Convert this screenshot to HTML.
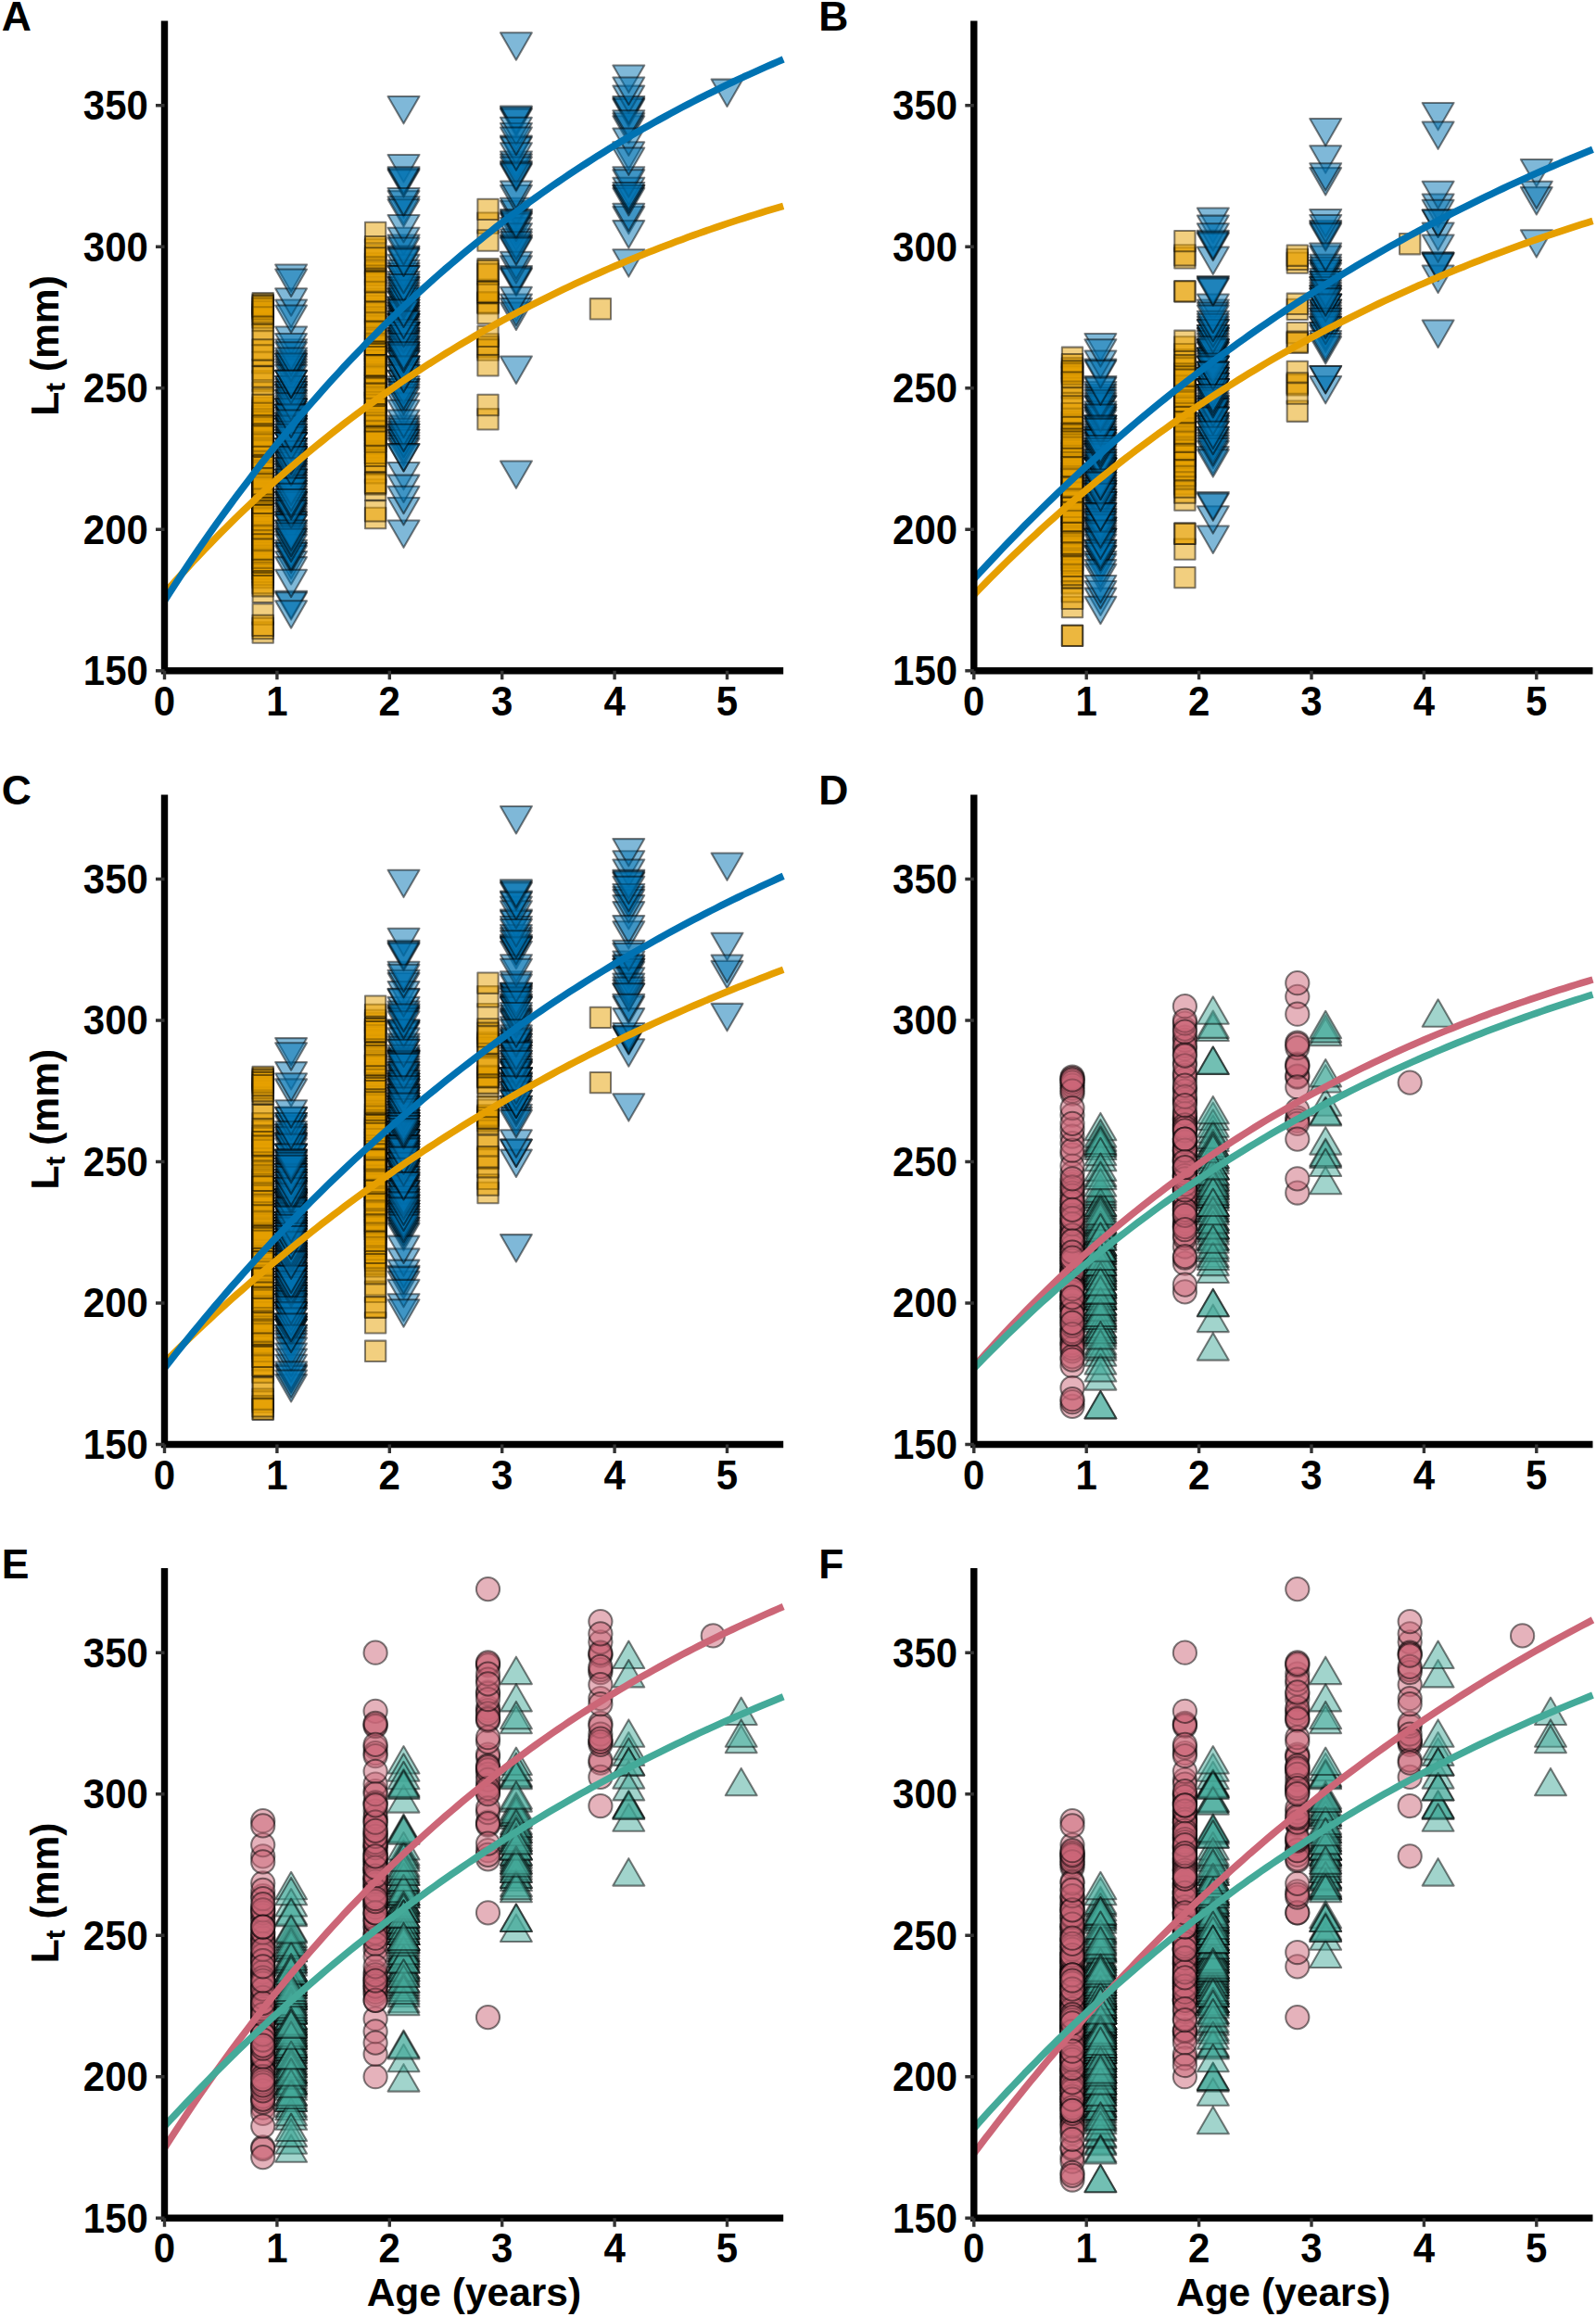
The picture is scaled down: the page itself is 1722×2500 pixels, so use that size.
<!DOCTYPE html>
<html lang="en"><head><meta charset="utf-8"><title>Growth curves</title>
<style>html,body{margin:0;padding:0;background:#fff}svg{display:block}text{font-family:"Liberation Sans",Arial,Helvetica,sans-serif;font-weight:bold;fill:#000}</style>
</head><body>
<svg width="1722" height="2500" viewBox="0 0 1722 2500">
<rect width="1722" height="2500" fill="#fff"/>
<defs>
<rect id="sq" x="-11.17" y="-11.17" width="22.34" height="22.34"/>
<circle id="ci" r="12.60"/>
<path id="td" d="M0 19.60 L16.97 -9.80 L-16.97 -9.80 Z"/>
<path id="tu" d="M0 -19.60 L16.97 9.80 L-16.97 9.80 Z"/>
</defs>
<g id="panelA">
<g fill="#E69F00" fill-opacity=".5" stroke="#000" stroke-opacity=".5" stroke-width="2.05" stroke-linejoin="round">
<g transform="translate(283.7 0)">
<use href="#sq" y="607.8"/><use href="#sq" y="537.7"/><use href="#sq" y="577.3"/><use href="#sq" y="607.8"/><use href="#sq" y="540.7"/><use href="#sq" y="613.9"/><use href="#sq" y="592.6"/><use href="#sq" y="467.5"/><use href="#sq" y="345.5"/><use href="#sq" y="327.2"/><use href="#sq" y="549.9"/><use href="#sq" y="467.5"/><use href="#sq" y="411.1"/><use href="#sq" y="331.8"/><use href="#sq" y="589.5"/><use href="#sq" y="507.2"/><use href="#sq" y="537.7"/><use href="#sq" y="443.1"/><use href="#sq" y="339.4"/><use href="#sq" y="522.4"/><use href="#sq" y="510.2"/><use href="#sq" y="562.1"/><use href="#sq" y="488.9"/><use href="#sq" y="543.8"/><use href="#sq" y="513.2"/><use href="#sq" y="543.8"/><use href="#sq" y="574.2"/><use href="#sq" y="540.7"/><use href="#sq" y="368.4"/><use href="#sq" y="546.8"/><use href="#sq" y="516.3"/><use href="#sq" y="473.6"/><use href="#sq" y="328.7"/><use href="#sq" y="473.6"/><use href="#sq" y="534.6"/><use href="#sq" y="638.9"/><use href="#sq" y="440.1"/><use href="#sq" y="598.7"/><use href="#sq" y="586.5"/><use href="#sq" y="449.2"/><use href="#sq" y="565.1"/><use href="#sq" y="613.9"/><use href="#sq" y="543.8"/><use href="#sq" y="501.1"/><use href="#sq" y="336.4"/><use href="#sq" y="549.9"/><use href="#sq" y="534.6"/><use href="#sq" y="528.5"/><use href="#sq" y="458.4"/><use href="#sq" y="333.3"/><use href="#sq" y="491.9"/><use href="#sq" y="519.4"/><use href="#sq" y="391.3"/><use href="#sq" y="577.3"/><use href="#sq" y="522.4"/><use href="#sq" y="549.9"/><use href="#sq" y="495.0"/><use href="#sq" y="586.5"/><use href="#sq" y="398.9"/><use href="#sq" y="495.0"/><use href="#sq" y="430.9"/><use href="#sq" y="552.9"/><use href="#sq" y="510.2"/><use href="#sq" y="513.2"/><use href="#sq" y="504.1"/><use href="#sq" y="571.2"/><use href="#sq" y="342.5"/><use href="#sq" y="330.3"/><use href="#sq" y="565.1"/><use href="#sq" y="498.0"/><use href="#sq" y="461.4"/><use href="#sq" y="571.2"/><use href="#sq" y="562.1"/><use href="#sq" y="552.9"/><use href="#sq" y="623.1"/><use href="#sq" y="534.6"/><use href="#sq" y="452.3"/><use href="#sq" y="470.6"/><use href="#sq" y="682.5"/><use href="#sq" y="617.0"/><use href="#sq" y="482.8"/><use href="#sq" y="531.6"/><use href="#sq" y="528.5"/><use href="#sq" y="485.8"/><use href="#sq" y="601.7"/><use href="#sq" y="552.9"/><use href="#sq" y="620.0"/><use href="#sq" y="537.7"/><use href="#sq" y="423.3"/><use href="#sq" y="501.1"/><use href="#sq" y="601.7"/><use href="#sq" y="406.5"/><use href="#sq" y="491.9"/><use href="#sq" y="507.2"/><use href="#sq" y="595.6"/><use href="#sq" y="482.8"/><use href="#sq" y="504.1"/><use href="#sq" y="565.1"/><use href="#sq" y="516.3"/><use href="#sq" y="479.7"/><use href="#sq" y="559.0"/><use href="#sq" y="580.4"/><use href="#sq" y="574.2"/><use href="#sq" y="464.5"/><use href="#sq" y="510.2"/><use href="#sq" y="662.7"/><use href="#sq" y="568.2"/><use href="#sq" y="556.0"/><use href="#sq" y="476.7"/><use href="#sq" y="455.3"/><use href="#sq" y="519.4"/><use href="#sq" y="577.3"/><use href="#sq" y="678.0"/><use href="#sq" y="556.0"/><use href="#sq" y="583.4"/><use href="#sq" y="583.4"/><use href="#sq" y="528.5"/><use href="#sq" y="629.2"/><use href="#sq" y="674.9"/><use href="#sq" y="461.4"/><use href="#sq" y="485.8"/><use href="#sq" y="604.8"/><use href="#sq" y="498.0"/><use href="#sq" y="446.2"/><use href="#sq" y="383.6"/><use href="#sq" y="360.8"/><use href="#sq" y="525.5"/><use href="#sq" y="525.5"/><use href="#sq" y="437.0"/><use href="#sq" y="632.2"/><use href="#sq" y="592.6"/><use href="#sq" y="479.7"/><use href="#sq" y="504.1"/><use href="#sq" y="470.6"/><use href="#sq" y="516.3"/><use href="#sq" y="522.4"/><use href="#sq" y="377.5"/><use href="#sq" y="565.1"/>
</g>
<g transform="translate(405.1 0)">
<use href="#sq" y="434.0"/><use href="#sq" y="443.1"/><use href="#sq" y="388.2"/><use href="#sq" y="409.6"/><use href="#sq" y="461.4"/><use href="#sq" y="418.7"/><use href="#sq" y="464.5"/><use href="#sq" y="434.0"/><use href="#sq" y="415.7"/><use href="#sq" y="354.7"/><use href="#sq" y="379.1"/><use href="#sq" y="312.0"/><use href="#sq" y="449.2"/><use href="#sq" y="467.5"/><use href="#sq" y="296.7"/><use href="#sq" y="528.5"/><use href="#sq" y="406.5"/><use href="#sq" y="424.8"/><use href="#sq" y="485.8"/><use href="#sq" y="369.9"/><use href="#sq" y="339.4"/><use href="#sq" y="446.2"/><use href="#sq" y="385.2"/><use href="#sq" y="418.7"/><use href="#sq" y="510.2"/><use href="#sq" y="330.3"/><use href="#sq" y="482.8"/><use href="#sq" y="455.3"/><use href="#sq" y="376.0"/><use href="#sq" y="397.4"/><use href="#sq" y="415.7"/><use href="#sq" y="322.6"/><use href="#sq" y="449.2"/><use href="#sq" y="373.0"/><use href="#sq" y="351.6"/><use href="#sq" y="363.8"/><use href="#sq" y="406.5"/><use href="#sq" y="342.5"/><use href="#sq" y="403.5"/><use href="#sq" y="284.5"/><use href="#sq" y="501.1"/><use href="#sq" y="446.2"/><use href="#sq" y="373.0"/><use href="#sq" y="488.9"/><use href="#sq" y="394.3"/><use href="#sq" y="382.1"/><use href="#sq" y="287.6"/><use href="#sq" y="412.6"/><use href="#sq" y="522.4"/><use href="#sq" y="458.4"/><use href="#sq" y="325.7"/><use href="#sq" y="293.7"/><use href="#sq" y="476.7"/><use href="#sq" y="366.9"/><use href="#sq" y="434.0"/><use href="#sq" y="498.0"/><use href="#sq" y="464.5"/><use href="#sq" y="403.5"/><use href="#sq" y="488.9"/><use href="#sq" y="379.1"/><use href="#sq" y="455.3"/><use href="#sq" y="470.6"/><use href="#sq" y="275.4"/><use href="#sq" y="559.0"/><use href="#sq" y="302.8"/><use href="#sq" y="269.3"/><use href="#sq" y="348.6"/><use href="#sq" y="315.0"/><use href="#sq" y="551.4"/><use href="#sq" y="397.4"/><use href="#sq" y="443.1"/><use href="#sq" y="427.9"/><use href="#sq" y="427.9"/><use href="#sq" y="382.1"/><use href="#sq" y="430.9"/><use href="#sq" y="424.8"/><use href="#sq" y="385.2"/><use href="#sq" y="434.0"/><use href="#sq" y="304.3"/><use href="#sq" y="437.0"/><use href="#sq" y="406.5"/><use href="#sq" y="251.0"/><use href="#sq" y="473.6"/><use href="#sq" y="394.3"/><use href="#sq" y="470.6"/><use href="#sq" y="266.2"/><use href="#sq" y="394.3"/><use href="#sq" y="476.7"/><use href="#sq" y="336.4"/><use href="#sq" y="418.7"/><use href="#sq" y="491.9"/><use href="#sq" y="278.4"/><use href="#sq" y="357.7"/><use href="#sq" y="449.2"/><use href="#sq" y="424.8"/><use href="#sq" y="520.9"/>
</g>
<g transform="translate(526.5 0)">
<use href="#sq" y="327.2"/><use href="#sq" y="290.3"/><use href="#sq" y="452.3"/><use href="#sq" y="240.6"/><use href="#sq" y="313.5"/><use href="#sq" y="371.4"/><use href="#sq" y="374.5"/><use href="#sq" y="437.0"/><use href="#sq" y="377.5"/><use href="#sq" y="259.5"/><use href="#sq" y="225.9"/><use href="#sq" y="326.3"/><use href="#sq" y="316.5"/><use href="#sq" y="295.8"/><use href="#sq" y="315.0"/><use href="#sq" y="338.2"/><use href="#sq" y="362.9"/><use href="#sq" y="394.3"/><use href="#sq" y="292.1"/>
</g>
<g transform="translate(647.9 0)">
<use href="#sq" y="333.3"/>
</g>
</g>
<g fill="#0072B2" fill-opacity=".5" stroke="#000" stroke-opacity=".5" stroke-width="2.05" stroke-linejoin="round">
<g transform="translate(314.1 0)">
<use href="#td" y="388.2"/><use href="#td" y="528.5"/><use href="#td" y="559.0"/><use href="#td" y="418.7"/><use href="#td" y="562.1"/><use href="#td" y="604.8"/><use href="#td" y="461.4"/><use href="#td" y="333.3"/><use href="#td" y="400.4"/><use href="#td" y="610.9"/><use href="#td" y="540.7"/><use href="#td" y="540.7"/><use href="#td" y="595.6"/><use href="#td" y="592.6"/><use href="#td" y="556.0"/><use href="#td" y="376.0"/><use href="#td" y="476.7"/><use href="#td" y="424.8"/><use href="#td" y="362.3"/><use href="#td" y="455.3"/><use href="#td" y="546.8"/><use href="#td" y="504.1"/><use href="#td" y="516.3"/><use href="#td" y="598.7"/><use href="#td" y="470.6"/><use href="#td" y="647.5"/><use href="#td" y="491.9"/><use href="#td" y="531.6"/><use href="#td" y="473.6"/><use href="#td" y="507.2"/><use href="#td" y="443.1"/><use href="#td" y="488.9"/><use href="#td" y="321.1"/><use href="#td" y="595.6"/><use href="#td" y="510.2"/><use href="#td" y="510.2"/><use href="#td" y="421.8"/><use href="#td" y="552.9"/><use href="#td" y="562.1"/><use href="#td" y="440.1"/><use href="#td" y="504.1"/><use href="#td" y="528.5"/><use href="#td" y="295.2"/><use href="#td" y="498.0"/><use href="#td" y="519.4"/><use href="#td" y="430.9"/><use href="#td" y="534.6"/><use href="#td" y="440.1"/><use href="#td" y="369.9"/><use href="#td" y="516.3"/><use href="#td" y="571.2"/><use href="#td" y="409.6"/><use href="#td" y="449.2"/><use href="#td" y="537.7"/><use href="#td" y="649.0"/><use href="#td" y="424.8"/><use href="#td" y="461.4"/><use href="#td" y="300.4"/><use href="#td" y="458.4"/><use href="#td" y="543.8"/><use href="#td" y="552.9"/><use href="#td" y="391.3"/><use href="#td" y="473.6"/><use href="#td" y="565.1"/><use href="#td" y="476.7"/><use href="#td" y="482.8"/><use href="#td" y="549.9"/><use href="#td" y="482.8"/><use href="#td" y="430.9"/><use href="#td" y="546.8"/><use href="#td" y="449.2"/><use href="#td" y="458.4"/><use href="#td" y="482.8"/><use href="#td" y="522.4"/><use href="#td" y="446.2"/><use href="#td" y="507.2"/><use href="#td" y="580.4"/><use href="#td" y="498.0"/><use href="#td" y="488.9"/><use href="#td" y="415.7"/><use href="#td" y="476.7"/><use href="#td" y="421.8"/><use href="#td" y="583.4"/><use href="#td" y="565.1"/><use href="#td" y="491.9"/><use href="#td" y="513.2"/><use href="#td" y="397.4"/><use href="#td" y="455.3"/><use href="#td" y="491.9"/><use href="#td" y="495.0"/><use href="#td" y="403.5"/><use href="#td" y="519.4"/><use href="#td" y="501.1"/><use href="#td" y="516.3"/><use href="#td" y="437.0"/><use href="#td" y="427.9"/><use href="#td" y="394.3"/><use href="#td" y="586.5"/><use href="#td" y="571.2"/><use href="#td" y="440.1"/><use href="#td" y="624.6"/><use href="#td" y="415.7"/><use href="#td" y="461.4"/><use href="#td" y="522.4"/><use href="#td" y="577.3"/><use href="#td" y="549.9"/><use href="#td" y="495.0"/><use href="#td" y="467.5"/><use href="#td" y="379.1"/><use href="#td" y="391.3"/><use href="#td" y="446.2"/><use href="#td" y="446.2"/><use href="#td" y="458.4"/><use href="#td" y="385.2"/><use href="#td" y="658.1"/><use href="#td" y="498.0"/><use href="#td" y="464.5"/><use href="#td" y="470.6"/><use href="#td" y="525.5"/><use href="#td" y="434.0"/><use href="#td" y="540.7"/><use href="#td" y="485.8"/><use href="#td" y="476.7"/><use href="#td" y="525.5"/><use href="#td" y="409.6"/><use href="#td" y="504.1"/><use href="#td" y="339.4"/><use href="#td" y="491.9"/><use href="#td" y="467.5"/><use href="#td" y="580.4"/><use href="#td" y="574.2"/><use href="#td" y="531.6"/><use href="#td" y="452.3"/><use href="#td" y="409.6"/><use href="#td" y="537.7"/>
</g>
<g transform="translate(435.5 0)">
<use href="#td" y="348.6"/><use href="#td" y="308.9"/><use href="#td" y="263.2"/><use href="#td" y="351.6"/><use href="#td" y="215.9"/><use href="#td" y="409.6"/><use href="#td" y="418.7"/><use href="#td" y="222.0"/><use href="#td" y="342.5"/><use href="#td" y="348.6"/><use href="#td" y="330.3"/><use href="#td" y="315.0"/><use href="#td" y="418.7"/><use href="#td" y="348.6"/><use href="#td" y="373.0"/><use href="#td" y="409.6"/><use href="#td" y="508.7"/><use href="#td" y="357.7"/><use href="#td" y="424.8"/><use href="#td" y="293.7"/><use href="#td" y="366.9"/><use href="#td" y="339.4"/><use href="#td" y="255.5"/><use href="#td" y="394.3"/><use href="#td" y="363.8"/><use href="#td" y="308.9"/><use href="#td" y="434.0"/><use href="#td" y="458.4"/><use href="#td" y="467.5"/><use href="#td" y="571.2"/><use href="#td" y="324.2"/><use href="#td" y="225.0"/><use href="#td" y="397.4"/><use href="#td" y="330.3"/><use href="#td" y="357.7"/><use href="#td" y="176.8"/><use href="#td" y="339.4"/><use href="#td" y="321.1"/><use href="#td" y="441.6"/><use href="#td" y="415.7"/><use href="#td" y="379.1"/><use href="#td" y="385.2"/><use href="#td" y="284.5"/><use href="#td" y="191.5"/><use href="#td" y="379.1"/><use href="#td" y="241.8"/><use href="#td" y="388.2"/><use href="#td" y="464.5"/><use href="#td" y="357.7"/><use href="#td" y="546.8"/><use href="#td" y="403.5"/><use href="#td" y="400.4"/><use href="#td" y="522.4"/><use href="#td" y="427.9"/><use href="#td" y="366.9"/><use href="#td" y="193.0"/><use href="#td" y="302.8"/><use href="#td" y="190.0"/><use href="#td" y="476.7"/><use href="#td" y="345.5"/><use href="#td" y="336.4"/><use href="#td" y="470.6"/><use href="#td" y="290.6"/><use href="#td" y="473.6"/><use href="#td" y="336.4"/><use href="#td" y="373.0"/><use href="#td" y="113.7"/><use href="#td" y="333.3"/><use href="#td" y="421.8"/><use href="#td" y="382.1"/><use href="#td" y="363.8"/><use href="#td" y="324.2"/><use href="#td" y="321.1"/><use href="#td" y="482.8"/><use href="#td" y="479.7"/><use href="#td" y="473.6"/><use href="#td" y="318.1"/><use href="#td" y="385.2"/><use href="#td" y="275.4"/><use href="#td" y="276.9"/><use href="#td" y="461.4"/><use href="#td" y="388.2"/><use href="#td" y="488.9"/><use href="#td" y="312.0"/><use href="#td" y="357.7"/><use href="#td" y="376.0"/><use href="#td" y="403.5"/><use href="#td" y="296.7"/><use href="#td" y="360.8"/><use href="#td" y="369.9"/><use href="#td" y="296.7"/><use href="#td" y="266.2"/><use href="#td" y="394.3"/><use href="#td" y="394.3"/><use href="#td" y="382.1"/><use href="#td" y="212.8"/><use href="#td" y="488.9"/><use href="#td" y="354.7"/><use href="#td" y="452.3"/><use href="#td" y="345.5"/><use href="#td" y="534.6"/><use href="#td" y="305.9"/><use href="#td" y="333.3"/><use href="#td" y="467.5"/><use href="#td" y="278.4"/><use href="#td" y="379.1"/>
</g>
<g transform="translate(556.9 0)">
<use href="#td" y="226.6"/><use href="#td" y="173.2"/><use href="#td" y="238.8"/><use href="#td" y="156.4"/><use href="#td" y="125.9"/><use href="#td" y="176.2"/><use href="#td" y="507.2"/><use href="#td" y="223.5"/><use href="#td" y="45.1"/><use href="#td" y="257.1"/><use href="#td" y="244.9"/><use href="#td" y="235.7"/><use href="#td" y="209.8"/><use href="#td" y="127.4"/><use href="#td" y="124.4"/><use href="#td" y="251.0"/><use href="#td" y="263.2"/><use href="#td" y="183.9"/><use href="#td" y="142.7"/><use href="#td" y="296.7"/><use href="#td" y="186.9"/><use href="#td" y="299.8"/><use href="#td" y="157.9"/><use href="#td" y="264.7"/><use href="#td" y="286.0"/><use href="#td" y="327.2"/><use href="#td" y="240.3"/><use href="#td" y="281.5"/><use href="#td" y="260.1"/><use href="#td" y="179.3"/><use href="#td" y="336.4"/><use href="#td" y="136.6"/><use href="#td" y="205.2"/><use href="#td" y="185.4"/><use href="#td" y="237.2"/><use href="#td" y="331.8"/><use href="#td" y="298.2"/><use href="#td" y="164.0"/><use href="#td" y="394.3"/><use href="#td" y="147.3"/><use href="#td" y="319.6"/><use href="#td" y="266.2"/>
</g>
<g transform="translate(678.3 0)">
<use href="#td" y="232.7"/><use href="#td" y="135.1"/><use href="#td" y="115.2"/><use href="#td" y="116.8"/><use href="#td" y="247.9"/><use href="#td" y="163.1"/><use href="#td" y="190.0"/><use href="#td" y="209.8"/><use href="#td" y="132.0"/><use href="#td" y="102.4"/><use href="#td" y="279.0"/><use href="#td" y="113.7"/><use href="#td" y="80.2"/><use href="#td" y="229.6"/><use href="#td" y="129.0"/><use href="#td" y="148.2"/><use href="#td" y="201.5"/><use href="#td" y="212.8"/><use href="#td" y="193.0"/><use href="#td" y="93.3"/><use href="#td" y="169.2"/><use href="#td" y="209.8"/><use href="#td" y="206.7"/>
</g>
<g transform="translate(784.5 0)">
<use href="#td" y="95.4"/>
</g>
</g>
<path d="M177.5 640.2 L183.6 633.3 L189.6 626.5 L195.7 619.7 L201.8 613.1 L207.8 606.5 L213.9 600.1 L220.0 593.7 L226.1 587.3 L232.1 581.1 L238.2 574.9 L244.3 568.8 L250.3 562.8 L256.4 556.9 L262.5 551.0 L268.6 545.2 L274.6 539.5 L280.7 533.8 L286.8 528.2 L292.8 522.7 L298.9 517.3 L305.0 511.9 L311.0 506.6 L317.1 501.3 L323.2 496.1 L329.2 491.0 L335.3 485.9 L341.4 480.9 L347.5 476.0 L353.5 471.1 L359.6 466.3 L365.7 461.5 L371.7 456.8 L377.8 452.1 L383.9 447.6 L390.0 443.0 L396.0 438.5 L402.1 434.1 L408.2 429.7 L414.2 425.4 L420.3 421.2 L426.4 417.0 L432.4 412.8 L438.5 408.7 L444.6 404.6 L450.7 400.6 L456.7 396.7 L462.8 392.7 L468.9 388.9 L474.9 385.1 L481.0 381.3 L487.1 377.6 L493.1 373.9 L499.2 370.2 L505.3 366.7 L511.4 363.1 L517.4 359.6 L523.5 356.1 L529.6 352.7 L535.6 349.4 L541.7 346.0 L547.8 342.7 L553.8 339.5 L559.9 336.3 L566.0 333.1 L572.0 330.0 L578.1 326.9 L584.2 323.8 L590.3 320.8 L596.3 317.8 L602.4 314.8 L608.5 311.9 L614.5 309.1 L620.6 306.2 L626.7 303.4 L632.8 300.6 L638.8 297.9 L644.9 295.2 L651.0 292.5 L657.0 289.9 L663.1 287.3 L669.2 284.7 L675.2 282.1 L681.3 279.6 L687.4 277.2 L693.5 274.7 L699.5 272.3 L705.6 269.9 L711.7 267.5 L717.7 265.2 L723.8 262.9 L729.9 260.6 L735.9 258.4 L742.0 256.1 L748.1 253.9 L754.1 251.8 L760.2 249.6 L766.3 247.5 L772.4 245.4 L778.4 243.4 L784.5 241.3 L790.6 239.3 L796.6 237.3 L802.7 235.4 L808.8 233.4 L814.9 231.5 L820.9 229.6 L827.0 227.7 L833.1 225.9 L839.1 224.1 L845.2 222.3" fill="none" stroke="#E69F00" stroke-width="7.5" stroke-linejoin="round"/>
<path d="M177.5 648.3 L183.6 638.8 L189.6 629.5 L195.7 620.3 L201.8 611.1 L207.8 602.1 L213.9 593.2 L220.0 584.4 L226.1 575.7 L232.1 567.1 L238.2 558.6 L244.3 550.3 L250.3 542.0 L256.4 533.8 L262.5 525.7 L268.6 517.7 L274.6 509.7 L280.7 501.9 L286.8 494.2 L292.8 486.6 L298.9 479.0 L305.0 471.6 L311.0 464.2 L317.1 456.9 L323.2 449.7 L329.2 442.6 L335.3 435.6 L341.4 428.7 L347.5 421.8 L353.5 415.0 L359.6 408.3 L365.7 401.7 L371.7 395.1 L377.8 388.7 L383.9 382.3 L390.0 376.0 L396.0 369.7 L402.1 363.6 L408.2 357.5 L414.2 351.4 L420.3 345.5 L426.4 339.6 L432.4 333.8 L438.5 328.1 L444.6 322.4 L450.7 316.8 L456.7 311.2 L462.8 305.7 L468.9 300.3 L474.9 295.0 L481.0 289.7 L487.1 284.5 L493.1 279.3 L499.2 274.2 L505.3 269.2 L511.4 264.2 L517.4 259.3 L523.5 254.4 L529.6 249.6 L535.6 244.8 L541.7 240.1 L547.8 235.5 L553.8 230.9 L559.9 226.4 L566.0 221.9 L572.0 217.5 L578.1 213.1 L584.2 208.8 L590.3 204.5 L596.3 200.3 L602.4 196.1 L608.5 192.0 L614.5 187.9 L620.6 183.9 L626.7 179.9 L632.8 176.0 L638.8 172.1 L644.9 168.2 L651.0 164.5 L657.0 160.7 L663.1 157.0 L669.2 153.3 L675.2 149.7 L681.3 146.1 L687.4 142.6 L693.5 139.1 L699.5 135.7 L705.6 132.3 L711.7 128.9 L717.7 125.6 L723.8 122.3 L729.9 119.0 L735.9 115.8 L742.0 112.6 L748.1 109.5 L754.1 106.4 L760.2 103.3 L766.3 100.3 L772.4 97.3 L778.4 94.3 L784.5 91.4 L790.6 88.5 L796.6 85.7 L802.7 82.8 L808.8 80.1 L814.9 77.3 L820.9 74.6 L827.0 71.9 L833.1 69.2 L839.1 66.6 L845.2 64.0" fill="none" stroke="#0072B2" stroke-width="7.5" stroke-linejoin="round"/>
<path d="M177.5 22.6 V727.4 M173.8 723.7 H845.2" stroke="#000" stroke-width="7.4" fill="none"/>
<path d="M177.5 723.7 v9.5 M298.9 723.7 v9.5 M420.3 723.7 v9.5 M541.7 723.7 v9.5 M663.1 723.7 v9.5 M784.5 723.7 v9.5 M177.5 723.7 h-9.5 M177.5 571.2 h-9.5 M177.5 418.7 h-9.5 M177.5 266.2 h-9.5 M177.5 113.7 h-9.5" stroke="#333" stroke-width="3.4" fill="none"/>
<text transform="translate(177.5 771.7) scale(1.000 1.035)" font-size="42.0" text-anchor="middle">0</text>
<text transform="translate(298.9 771.7) scale(1.000 1.035)" font-size="42.0" text-anchor="middle">1</text>
<text transform="translate(420.3 771.7) scale(1.000 1.035)" font-size="42.0" text-anchor="middle">2</text>
<text transform="translate(541.7 771.7) scale(1.000 1.035)" font-size="42.0" text-anchor="middle">3</text>
<text transform="translate(663.1 771.7) scale(1.000 1.035)" font-size="42.0" text-anchor="middle">4</text>
<text transform="translate(784.5 771.7) scale(1.000 1.035)" font-size="42.0" text-anchor="middle">5</text>
<text transform="translate(159.9 739.0) scale(1.000 1.035)" font-size="42.0" text-anchor="end">150</text>
<text transform="translate(159.9 586.5) scale(1.000 1.035)" font-size="42.0" text-anchor="end">200</text>
<text transform="translate(159.9 434.0) scale(1.000 1.035)" font-size="42.0" text-anchor="end">250</text>
<text transform="translate(159.9 281.5) scale(1.000 1.035)" font-size="42.0" text-anchor="end">300</text>
<text transform="translate(159.9 129.0) scale(1.000 1.035)" font-size="42.0" text-anchor="end">350</text>
<text transform="translate(1.7 33.1) scale(1.000 1.000)" font-size="44.5">A</text>
<text transform="translate(63.4 373.0) rotate(-90) scale(1.012 1.000)" font-size="42.0" text-anchor="middle">L<tspan font-size="29.4" dy="6.5">t</tspan><tspan dy="-6.5"> (mm)</tspan></text>
</g>
<g id="panelB">
<g fill="#E69F00" fill-opacity=".5" stroke="#000" stroke-opacity=".5" stroke-width="2.05" stroke-linejoin="round">
<g transform="translate(1157.0 0)">
<use href="#sq" y="540.7"/><use href="#sq" y="461.4"/><use href="#sq" y="385.8"/><use href="#sq" y="397.4"/><use href="#sq" y="458.4"/><use href="#sq" y="617.0"/><use href="#sq" y="583.4"/><use href="#sq" y="498.0"/><use href="#sq" y="568.2"/><use href="#sq" y="455.3"/><use href="#sq" y="519.4"/><use href="#sq" y="485.8"/><use href="#sq" y="574.2"/><use href="#sq" y="607.8"/><use href="#sq" y="510.2"/><use href="#sq" y="401.9"/><use href="#sq" y="629.2"/><use href="#sq" y="604.8"/><use href="#sq" y="406.5"/><use href="#sq" y="623.1"/><use href="#sq" y="655.1"/><use href="#sq" y="510.2"/><use href="#sq" y="589.5"/><use href="#sq" y="574.2"/><use href="#sq" y="537.7"/><use href="#sq" y="568.2"/><use href="#sq" y="552.9"/><use href="#sq" y="580.4"/><use href="#sq" y="467.5"/><use href="#sq" y="498.0"/><use href="#sq" y="528.5"/><use href="#sq" y="519.4"/><use href="#sq" y="577.3"/><use href="#sq" y="510.2"/><use href="#sq" y="513.2"/><use href="#sq" y="568.2"/><use href="#sq" y="435.5"/><use href="#sq" y="418.7"/><use href="#sq" y="598.7"/><use href="#sq" y="546.8"/><use href="#sq" y="601.7"/><use href="#sq" y="537.7"/><use href="#sq" y="559.0"/><use href="#sq" y="531.6"/><use href="#sq" y="488.9"/><use href="#sq" y="685.9"/><use href="#sq" y="543.8"/><use href="#sq" y="586.5"/><use href="#sq" y="470.6"/><use href="#sq" y="556.0"/><use href="#sq" y="592.6"/><use href="#sq" y="568.2"/><use href="#sq" y="556.0"/><use href="#sq" y="638.3"/><use href="#sq" y="452.3"/><use href="#sq" y="467.5"/><use href="#sq" y="645.9"/><use href="#sq" y="393.1"/><use href="#sq" y="598.7"/><use href="#sq" y="473.6"/><use href="#sq" y="543.8"/><use href="#sq" y="546.8"/><use href="#sq" y="522.4"/><use href="#sq" y="525.5"/><use href="#sq" y="565.1"/><use href="#sq" y="498.0"/><use href="#sq" y="513.2"/><use href="#sq" y="562.1"/><use href="#sq" y="403.5"/><use href="#sq" y="488.9"/><use href="#sq" y="604.8"/><use href="#sq" y="516.3"/><use href="#sq" y="400.4"/><use href="#sq" y="485.8"/><use href="#sq" y="556.0"/><use href="#sq" y="580.4"/><use href="#sq" y="534.6"/><use href="#sq" y="537.7"/><use href="#sq" y="620.0"/><use href="#sq" y="531.6"/><use href="#sq" y="501.1"/><use href="#sq" y="525.5"/><use href="#sq" y="552.9"/><use href="#sq" y="479.7"/><use href="#sq" y="540.7"/><use href="#sq" y="531.6"/><use href="#sq" y="589.5"/><use href="#sq" y="516.3"/><use href="#sq" y="562.1"/><use href="#sq" y="504.1"/><use href="#sq" y="586.5"/><use href="#sq" y="491.9"/><use href="#sq" y="685.9"/><use href="#sq" y="516.3"/><use href="#sq" y="412.6"/><use href="#sq" y="546.8"/><use href="#sq" y="482.8"/><use href="#sq" y="429.4"/><use href="#sq" y="476.7"/><use href="#sq" y="574.2"/><use href="#sq" y="495.0"/><use href="#sq" y="446.2"/><use href="#sq" y="504.1"/><use href="#sq" y="562.1"/><use href="#sq" y="552.9"/><use href="#sq" y="610.9"/><use href="#sq" y="438.5"/><use href="#sq" y="525.5"/>
</g>
<g transform="translate(1278.4 0)">
<use href="#sq" y="449.2"/><use href="#sq" y="522.4"/><use href="#sq" y="437.0"/><use href="#sq" y="427.9"/><use href="#sq" y="491.9"/><use href="#sq" y="314.4"/><use href="#sq" y="446.2"/><use href="#sq" y="495.0"/><use href="#sq" y="461.4"/><use href="#sq" y="278.4"/><use href="#sq" y="275.4"/><use href="#sq" y="427.9"/><use href="#sq" y="491.9"/><use href="#sq" y="374.5"/><use href="#sq" y="504.1"/><use href="#sq" y="504.1"/><use href="#sq" y="592.6"/><use href="#sq" y="458.4"/><use href="#sq" y="470.6"/><use href="#sq" y="539.5"/><use href="#sq" y="455.3"/><use href="#sq" y="623.1"/><use href="#sq" y="458.4"/><use href="#sq" y="440.1"/><use href="#sq" y="473.6"/><use href="#sq" y="403.5"/><use href="#sq" y="473.6"/><use href="#sq" y="388.2"/><use href="#sq" y="575.8"/><use href="#sq" y="443.1"/><use href="#sq" y="467.5"/><use href="#sq" y="418.7"/><use href="#sq" y="482.8"/><use href="#sq" y="452.3"/><use href="#sq" y="531.6"/><use href="#sq" y="516.3"/><use href="#sq" y="415.7"/><use href="#sq" y="513.2"/><use href="#sq" y="525.5"/><use href="#sq" y="467.5"/><use href="#sq" y="482.8"/><use href="#sq" y="434.0"/><use href="#sq" y="382.1"/><use href="#sq" y="415.7"/><use href="#sq" y="575.8"/><use href="#sq" y="421.8"/><use href="#sq" y="498.0"/><use href="#sq" y="397.4"/><use href="#sq" y="485.8"/><use href="#sq" y="440.1"/><use href="#sq" y="403.5"/><use href="#sq" y="434.0"/><use href="#sq" y="394.3"/><use href="#sq" y="485.8"/><use href="#sq" y="449.2"/><use href="#sq" y="446.2"/><use href="#sq" y="455.3"/><use href="#sq" y="491.9"/><use href="#sq" y="406.5"/><use href="#sq" y="260.1"/><use href="#sq" y="409.6"/><use href="#sq" y="476.7"/><use href="#sq" y="367.8"/><use href="#sq" y="427.9"/><use href="#sq" y="314.4"/><use href="#sq" y="507.2"/><use href="#sq" y="467.5"/>
</g>
<g transform="translate(1399.8 0)">
<use href="#sq" y="283.6"/><use href="#sq" y="359.2"/><use href="#sq" y="415.3"/><use href="#sq" y="368.7"/><use href="#sq" y="369.9"/><use href="#sq" y="333.9"/><use href="#sq" y="279.9"/><use href="#sq" y="443.7"/><use href="#sq" y="401.0"/><use href="#sq" y="275.7"/><use href="#sq" y="413.5"/><use href="#sq" y="327.8"/><use href="#sq" y="424.5"/>
</g>
<g transform="translate(1521.2 0)">
<use href="#sq" y="263.2"/>
</g>
</g>
<g fill="#0072B2" fill-opacity=".5" stroke="#000" stroke-opacity=".5" stroke-width="2.05" stroke-linejoin="round">
<g transform="translate(1187.4 0)">
<use href="#td" y="531.6"/><use href="#td" y="568.2"/><use href="#td" y="495.0"/><use href="#td" y="437.0"/><use href="#td" y="504.1"/><use href="#td" y="476.7"/><use href="#td" y="424.8"/><use href="#td" y="458.4"/><use href="#td" y="586.5"/><use href="#td" y="421.8"/><use href="#td" y="534.6"/><use href="#td" y="464.5"/><use href="#td" y="516.3"/><use href="#td" y="604.8"/><use href="#td" y="458.4"/><use href="#td" y="543.8"/><use href="#td" y="540.7"/><use href="#td" y="485.8"/><use href="#td" y="540.7"/><use href="#td" y="577.3"/><use href="#td" y="531.6"/><use href="#td" y="397.4"/><use href="#td" y="510.2"/><use href="#td" y="485.8"/><use href="#td" y="607.8"/><use href="#td" y="488.9"/><use href="#td" y="519.4"/><use href="#td" y="516.3"/><use href="#td" y="546.8"/><use href="#td" y="528.5"/><use href="#td" y="488.9"/><use href="#td" y="546.8"/><use href="#td" y="446.2"/><use href="#td" y="437.0"/><use href="#td" y="571.2"/><use href="#td" y="513.2"/><use href="#td" y="498.0"/><use href="#td" y="501.1"/><use href="#td" y="369.9"/><use href="#td" y="522.4"/><use href="#td" y="568.2"/><use href="#td" y="449.2"/><use href="#td" y="452.3"/><use href="#td" y="528.5"/><use href="#td" y="470.6"/><use href="#td" y="644.4"/><use href="#td" y="568.2"/><use href="#td" y="504.1"/><use href="#td" y="556.0"/><use href="#td" y="580.4"/><use href="#td" y="427.9"/><use href="#td" y="525.5"/><use href="#td" y="552.9"/><use href="#td" y="513.2"/><use href="#td" y="467.5"/><use href="#td" y="540.7"/><use href="#td" y="415.7"/><use href="#td" y="559.0"/><use href="#td" y="470.6"/><use href="#td" y="476.7"/><use href="#td" y="580.4"/><use href="#td" y="449.2"/><use href="#td" y="653.6"/><use href="#td" y="549.9"/><use href="#td" y="388.2"/><use href="#td" y="482.8"/><use href="#td" y="543.8"/><use href="#td" y="598.7"/><use href="#td" y="580.4"/><use href="#td" y="461.4"/><use href="#td" y="598.7"/><use href="#td" y="473.6"/><use href="#td" y="473.6"/><use href="#td" y="618.5"/><use href="#td" y="510.2"/><use href="#td" y="504.1"/><use href="#td" y="491.9"/><use href="#td" y="510.2"/><use href="#td" y="473.6"/><use href="#td" y="613.9"/><use href="#td" y="537.7"/><use href="#td" y="592.6"/><use href="#td" y="537.7"/><use href="#td" y="540.7"/><use href="#td" y="488.9"/><use href="#td" y="504.1"/><use href="#td" y="376.0"/><use href="#td" y="443.1"/><use href="#td" y="434.0"/><use href="#td" y="592.6"/><use href="#td" y="559.0"/><use href="#td" y="430.9"/><use href="#td" y="522.4"/><use href="#td" y="562.1"/><use href="#td" y="504.1"/><use href="#td" y="501.1"/><use href="#td" y="525.5"/><use href="#td" y="562.1"/><use href="#td" y="565.1"/><use href="#td" y="636.8"/><use href="#td" y="446.2"/><use href="#td" y="528.5"/><use href="#td" y="495.0"/><use href="#td" y="498.0"/><use href="#td" y="458.4"/><use href="#td" y="574.2"/><use href="#td" y="519.4"/><use href="#td" y="552.9"/><use href="#td" y="595.6"/><use href="#td" y="583.4"/><use href="#td" y="461.4"/><use href="#td" y="630.7"/><use href="#td" y="398.9"/><use href="#td" y="571.2"/><use href="#td" y="485.8"/><use href="#td" y="552.9"/><use href="#td" y="417.2"/><use href="#td" y="516.3"/><use href="#td" y="531.6"/><use href="#td" y="519.4"/><use href="#td" y="482.8"/><use href="#td" y="479.7"/>
</g>
<g transform="translate(1308.8 0)">
<use href="#td" y="485.8"/><use href="#td" y="333.3"/><use href="#td" y="491.9"/><use href="#td" y="418.7"/><use href="#td" y="234.2"/><use href="#td" y="385.2"/><use href="#td" y="363.8"/><use href="#td" y="446.2"/><use href="#td" y="307.7"/><use href="#td" y="327.2"/><use href="#td" y="424.8"/><use href="#td" y="242.4"/><use href="#td" y="394.3"/><use href="#td" y="406.5"/><use href="#td" y="258.6"/><use href="#td" y="369.9"/><use href="#td" y="458.4"/><use href="#td" y="336.4"/><use href="#td" y="412.6"/><use href="#td" y="276.3"/><use href="#td" y="437.0"/><use href="#td" y="464.5"/><use href="#td" y="363.8"/><use href="#td" y="308.9"/><use href="#td" y="251.0"/><use href="#td" y="379.1"/><use href="#td" y="354.7"/><use href="#td" y="418.7"/><use href="#td" y="577.3"/><use href="#td" y="418.7"/><use href="#td" y="476.7"/><use href="#td" y="427.9"/><use href="#td" y="473.6"/><use href="#td" y="455.3"/><use href="#td" y="424.8"/><use href="#td" y="403.5"/><use href="#td" y="449.2"/><use href="#td" y="400.4"/><use href="#td" y="443.1"/><use href="#td" y="388.2"/><use href="#td" y="261.6"/><use href="#td" y="437.0"/><use href="#td" y="360.8"/><use href="#td" y="385.2"/><use href="#td" y="455.3"/><use href="#td" y="470.6"/><use href="#td" y="376.0"/><use href="#td" y="385.2"/><use href="#td" y="379.1"/><use href="#td" y="461.4"/><use href="#td" y="495.0"/><use href="#td" y="366.9"/><use href="#td" y="376.0"/><use href="#td" y="556.0"/><use href="#td" y="443.1"/><use href="#td" y="424.8"/><use href="#td" y="409.6"/><use href="#td" y="458.4"/><use href="#td" y="434.0"/><use href="#td" y="415.7"/><use href="#td" y="351.6"/><use href="#td" y="310.4"/><use href="#td" y="412.6"/><use href="#td" y="440.1"/><use href="#td" y="540.7"/><use href="#td" y="406.5"/><use href="#td" y="394.3"/><use href="#td" y="406.5"/><use href="#td" y="412.6"/><use href="#td" y="345.5"/><use href="#td" y="388.2"/><use href="#td" y="449.2"/><use href="#td" y="542.2"/><use href="#td" y="440.1"/><use href="#td" y="418.7"/><use href="#td" y="376.0"/><use href="#td" y="360.8"/><use href="#td" y="449.2"/><use href="#td" y="479.7"/><use href="#td" y="354.7"/><use href="#td" y="260.1"/><use href="#td" y="373.0"/><use href="#td" y="430.9"/><use href="#td" y="391.3"/><use href="#td" y="348.6"/><use href="#td" y="394.3"/><use href="#td" y="400.4"/><use href="#td" y="427.9"/><use href="#td" y="400.4"/><use href="#td" y="482.8"/><use href="#td" y="339.4"/><use href="#td" y="470.6"/><use href="#td" y="464.5"/><use href="#td" y="424.8"/>
</g>
<g transform="translate(1430.2 0)">
<use href="#td" y="336.4"/><use href="#td" y="318.1"/><use href="#td" y="275.4"/><use href="#td" y="249.4"/><use href="#td" y="327.2"/><use href="#td" y="357.7"/><use href="#td" y="290.6"/><use href="#td" y="333.3"/><use href="#td" y="333.3"/><use href="#td" y="351.6"/><use href="#td" y="415.7"/><use href="#td" y="247.9"/><use href="#td" y="342.5"/><use href="#td" y="302.8"/><use href="#td" y="293.7"/><use href="#td" y="284.5"/><use href="#td" y="321.1"/><use href="#td" y="235.7"/><use href="#td" y="404.7"/><use href="#td" y="315.0"/><use href="#td" y="241.8"/><use href="#td" y="299.8"/><use href="#td" y="360.8"/><use href="#td" y="137.8"/><use href="#td" y="404.7"/><use href="#td" y="357.7"/><use href="#td" y="308.9"/><use href="#td" y="167.1"/><use href="#td" y="190.9"/><use href="#td" y="290.6"/><use href="#td" y="305.9"/><use href="#td" y="348.6"/><use href="#td" y="287.6"/><use href="#td" y="366.9"/><use href="#td" y="339.4"/><use href="#td" y="327.2"/><use href="#td" y="251.0"/><use href="#td" y="308.9"/><use href="#td" y="302.8"/><use href="#td" y="318.1"/><use href="#td" y="186.0"/><use href="#td" y="373.0"/><use href="#td" y="351.6"/><use href="#td" y="312.0"/><use href="#td" y="369.9"/><use href="#td" y="327.2"/><use href="#td" y="342.5"/><use href="#td" y="345.5"/><use href="#td" y="272.3"/><use href="#td" y="321.1"/>
</g>
<g transform="translate(1551.6 0)">
<use href="#td" y="282.4"/><use href="#td" y="296.4"/><use href="#td" y="219.2"/><use href="#td" y="120.7"/><use href="#td" y="205.5"/><use href="#td" y="282.4"/><use href="#td" y="225.6"/><use href="#td" y="250.3"/><use href="#td" y="236.3"/><use href="#td" y="141.2"/><use href="#td" y="236.3"/><use href="#td" y="263.2"/><use href="#td" y="283.6"/><use href="#td" y="355.3"/>
</g>
<g transform="translate(1657.8 0)">
<use href="#td" y="211.9"/><use href="#td" y="181.7"/><use href="#td" y="258.0"/><use href="#td" y="205.5"/>
</g>
</g>
<path d="M1050.8 641.8 L1056.9 635.5 L1062.9 629.3 L1069.0 623.2 L1075.1 617.1 L1081.1 611.1 L1087.2 605.1 L1093.3 599.3 L1099.4 593.5 L1105.4 587.7 L1111.5 582.0 L1117.6 576.4 L1123.6 570.8 L1129.7 565.3 L1135.8 559.9 L1141.8 554.5 L1147.9 549.2 L1154.0 543.9 L1160.1 538.7 L1166.1 533.6 L1172.2 528.5 L1178.3 523.4 L1184.3 518.4 L1190.4 513.5 L1196.5 508.6 L1202.5 503.8 L1208.6 499.0 L1214.7 494.3 L1220.8 489.6 L1226.8 485.0 L1232.9 480.5 L1239.0 475.9 L1245.0 471.5 L1251.1 467.0 L1257.2 462.7 L1263.2 458.4 L1269.3 454.1 L1275.4 449.8 L1281.5 445.7 L1287.5 441.5 L1293.6 437.4 L1299.7 433.4 L1305.7 429.4 L1311.8 425.4 L1317.9 421.5 L1324.0 417.6 L1330.0 413.8 L1336.1 410.0 L1342.2 406.2 L1348.2 402.5 L1354.3 398.9 L1360.4 395.2 L1366.4 391.6 L1372.5 388.1 L1378.6 384.6 L1384.7 381.1 L1390.7 377.7 L1396.8 374.3 L1402.9 370.9 L1408.9 367.6 L1415.0 364.3 L1421.1 361.1 L1427.1 357.8 L1433.2 354.7 L1439.3 351.5 L1445.3 348.4 L1451.4 345.3 L1457.5 342.3 L1463.6 339.3 L1469.6 336.3 L1475.7 333.3 L1481.8 330.4 L1487.8 327.5 L1493.9 324.7 L1500.0 321.9 L1506.0 319.1 L1512.1 316.3 L1518.2 313.6 L1524.3 310.9 L1530.3 308.2 L1536.4 305.6 L1542.5 302.9 L1548.5 300.4 L1554.6 297.8 L1560.7 295.3 L1566.8 292.8 L1572.8 290.3 L1578.9 287.9 L1585.0 285.4 L1591.0 283.0 L1597.1 280.7 L1603.2 278.3 L1609.2 276.0 L1615.3 273.7 L1621.4 271.5 L1627.4 269.2 L1633.5 267.0 L1639.6 264.8 L1645.7 262.6 L1651.7 260.5 L1657.8 258.4 L1663.9 256.3 L1669.9 254.2 L1676.0 252.1 L1682.1 250.1 L1688.2 248.1 L1694.2 246.1 L1700.3 244.1 L1706.4 242.2 L1712.4 240.3 L1718.5 238.4" fill="none" stroke="#E69F00" stroke-width="7.5" stroke-linejoin="round"/>
<path d="M1050.8 624.8 L1056.9 618.1 L1062.9 611.6 L1069.0 605.1 L1075.1 598.6 L1081.1 592.2 L1087.2 585.9 L1093.3 579.6 L1099.4 573.4 L1105.4 567.2 L1111.5 561.1 L1117.6 555.1 L1123.6 549.1 L1129.7 543.1 L1135.8 537.3 L1141.8 531.4 L1147.9 525.6 L1154.0 519.9 L1160.1 514.2 L1166.1 508.6 L1172.2 503.0 L1178.3 497.5 L1184.3 492.0 L1190.4 486.6 L1196.5 481.2 L1202.5 475.9 L1208.6 470.6 L1214.7 465.4 L1220.8 460.2 L1226.8 455.0 L1232.9 449.9 L1239.0 444.9 L1245.0 439.9 L1251.1 434.9 L1257.2 430.0 L1263.2 425.1 L1269.3 420.3 L1275.4 415.5 L1281.5 410.8 L1287.5 406.1 L1293.6 401.4 L1299.7 396.8 L1305.7 392.3 L1311.8 387.7 L1317.9 383.2 L1324.0 378.8 L1330.0 374.4 L1336.1 370.0 L1342.2 365.7 L1348.2 361.4 L1354.3 357.1 L1360.4 352.9 L1366.4 348.8 L1372.5 344.6 L1378.6 340.5 L1384.7 336.5 L1390.7 332.4 L1396.8 328.4 L1402.9 324.5 L1408.9 320.6 L1415.0 316.7 L1421.1 312.8 L1427.1 309.0 L1433.2 305.2 L1439.3 301.5 L1445.3 297.8 L1451.4 294.1 L1457.5 290.5 L1463.6 286.8 L1469.6 283.3 L1475.7 279.7 L1481.8 276.2 L1487.8 272.7 L1493.9 269.3 L1500.0 265.8 L1506.0 262.5 L1512.1 259.1 L1518.2 255.8 L1524.3 252.5 L1530.3 249.2 L1536.4 246.0 L1542.5 242.7 L1548.5 239.6 L1554.6 236.4 L1560.7 233.3 L1566.8 230.2 L1572.8 227.1 L1578.9 224.1 L1585.0 221.1 L1591.0 218.1 L1597.1 215.1 L1603.2 212.2 L1609.2 209.3 L1615.3 206.4 L1621.4 203.5 L1627.4 200.7 L1633.5 197.9 L1639.6 195.1 L1645.7 192.4 L1651.7 189.6 L1657.8 186.9 L1663.9 184.3 L1669.9 181.6 L1676.0 179.0 L1682.1 176.4 L1688.2 173.8 L1694.2 171.2 L1700.3 168.7 L1706.4 166.2 L1712.4 163.7 L1718.5 161.2" fill="none" stroke="#0072B2" stroke-width="7.5" stroke-linejoin="round"/>
<path d="M1050.8 22.6 V727.4 M1047.1 723.7 H1718.5" stroke="#000" stroke-width="7.4" fill="none"/>
<path d="M1050.8 723.7 v9.5 M1172.2 723.7 v9.5 M1293.6 723.7 v9.5 M1415.0 723.7 v9.5 M1536.4 723.7 v9.5 M1657.8 723.7 v9.5 M1050.8 723.7 h-9.5 M1050.8 571.2 h-9.5 M1050.8 418.7 h-9.5 M1050.8 266.2 h-9.5 M1050.8 113.7 h-9.5" stroke="#333" stroke-width="3.4" fill="none"/>
<text transform="translate(1050.8 771.7) scale(1.000 1.035)" font-size="42.0" text-anchor="middle">0</text>
<text transform="translate(1172.2 771.7) scale(1.000 1.035)" font-size="42.0" text-anchor="middle">1</text>
<text transform="translate(1293.6 771.7) scale(1.000 1.035)" font-size="42.0" text-anchor="middle">2</text>
<text transform="translate(1415.0 771.7) scale(1.000 1.035)" font-size="42.0" text-anchor="middle">3</text>
<text transform="translate(1536.4 771.7) scale(1.000 1.035)" font-size="42.0" text-anchor="middle">4</text>
<text transform="translate(1657.8 771.7) scale(1.000 1.035)" font-size="42.0" text-anchor="middle">5</text>
<text transform="translate(1033.2 739.0) scale(1.000 1.035)" font-size="42.0" text-anchor="end">150</text>
<text transform="translate(1033.2 586.5) scale(1.000 1.035)" font-size="42.0" text-anchor="end">200</text>
<text transform="translate(1033.2 434.0) scale(1.000 1.035)" font-size="42.0" text-anchor="end">250</text>
<text transform="translate(1033.2 281.5) scale(1.000 1.035)" font-size="42.0" text-anchor="end">300</text>
<text transform="translate(1033.2 129.0) scale(1.000 1.035)" font-size="42.0" text-anchor="end">350</text>
<text transform="translate(883.2 33.1) scale(1.000 1.000)" font-size="44.5">B</text>
</g>
<g id="panelC">
<g fill="#E69F00" fill-opacity=".5" stroke="#000" stroke-opacity=".5" stroke-width="2.05" stroke-linejoin="round">
<g transform="translate(283.7 0)">
<use href="#sq" y="1384.6"/><use href="#sq" y="1302.2"/><use href="#sq" y="1354.1"/><use href="#sq" y="1387.7"/><use href="#sq" y="1512.7"/><use href="#sq" y="1253.5"/><use href="#sq" y="1402.9"/><use href="#sq" y="1335.8"/><use href="#sq" y="1345.0"/><use href="#sq" y="1311.4"/><use href="#sq" y="1451.7"/><use href="#sq" y="1360.2"/><use href="#sq" y="1489.8"/><use href="#sq" y="1467.0"/><use href="#sq" y="1433.4"/><use href="#sq" y="1375.5"/><use href="#sq" y="1415.1"/><use href="#sq" y="1393.8"/><use href="#sq" y="1233.6"/><use href="#sq" y="1457.8"/><use href="#sq" y="1396.8"/><use href="#sq" y="1433.4"/><use href="#sq" y="1378.5"/><use href="#sq" y="1345.0"/><use href="#sq" y="1409.0"/><use href="#sq" y="1372.4"/><use href="#sq" y="1384.6"/><use href="#sq" y="1270.2"/><use href="#sq" y="1363.2"/><use href="#sq" y="1338.9"/><use href="#sq" y="1341.9"/><use href="#sq" y="1442.5"/><use href="#sq" y="1421.2"/><use href="#sq" y="1520.6"/><use href="#sq" y="1293.1"/><use href="#sq" y="1387.7"/><use href="#sq" y="1454.8"/><use href="#sq" y="1375.5"/><use href="#sq" y="1360.2"/><use href="#sq" y="1427.3"/><use href="#sq" y="1280.9"/><use href="#sq" y="1399.9"/><use href="#sq" y="1302.2"/><use href="#sq" y="1323.6"/><use href="#sq" y="1399.9"/><use href="#sq" y="1293.1"/><use href="#sq" y="1402.9"/><use href="#sq" y="1351.1"/><use href="#sq" y="1348.0"/><use href="#sq" y="1442.5"/><use href="#sq" y="1399.9"/><use href="#sq" y="1451.7"/><use href="#sq" y="1308.4"/><use href="#sq" y="1445.6"/><use href="#sq" y="1357.2"/><use href="#sq" y="1396.8"/><use href="#sq" y="1280.9"/><use href="#sq" y="1412.1"/><use href="#sq" y="1317.5"/><use href="#sq" y="1305.3"/><use href="#sq" y="1323.6"/><use href="#sq" y="1323.6"/><use href="#sq" y="1341.9"/><use href="#sq" y="1409.0"/><use href="#sq" y="1520.6"/><use href="#sq" y="1317.5"/><use href="#sq" y="1396.8"/><use href="#sq" y="1308.4"/><use href="#sq" y="1345.0"/><use href="#sq" y="1320.6"/><use href="#sq" y="1329.7"/><use href="#sq" y="1375.5"/><use href="#sq" y="1387.7"/><use href="#sq" y="1305.3"/><use href="#sq" y="1290.1"/><use href="#sq" y="1264.1"/><use href="#sq" y="1284.0"/><use href="#sq" y="1357.2"/><use href="#sq" y="1402.9"/><use href="#sq" y="1302.2"/><use href="#sq" y="1439.5"/><use href="#sq" y="1442.5"/><use href="#sq" y="1381.6"/><use href="#sq" y="1320.6"/><use href="#sq" y="1421.2"/><use href="#sq" y="1348.0"/><use href="#sq" y="1360.2"/><use href="#sq" y="1372.4"/><use href="#sq" y="1247.4"/><use href="#sq" y="1351.1"/><use href="#sq" y="1454.8"/><use href="#sq" y="1305.3"/><use href="#sq" y="1369.4"/><use href="#sq" y="1296.2"/><use href="#sq" y="1433.4"/><use href="#sq" y="1271.8"/><use href="#sq" y="1335.8"/><use href="#sq" y="1381.6"/><use href="#sq" y="1436.5"/><use href="#sq" y="1163.5"/><use href="#sq" y="1195.5"/><use href="#sq" y="1421.2"/><use href="#sq" y="1351.1"/><use href="#sq" y="1509.7"/><use href="#sq" y="1212.3"/><use href="#sq" y="1332.8"/><use href="#sq" y="1220.5"/><use href="#sq" y="1387.7"/><use href="#sq" y="1378.5"/><use href="#sq" y="1354.1"/><use href="#sq" y="1480.7"/><use href="#sq" y="1415.1"/><use href="#sq" y="1180.2"/><use href="#sq" y="1235.2"/><use href="#sq" y="1174.2"/><use href="#sq" y="1273.3"/><use href="#sq" y="1387.7"/><use href="#sq" y="1390.7"/><use href="#sq" y="1448.7"/><use href="#sq" y="1345.0"/><use href="#sq" y="1390.7"/><use href="#sq" y="1384.6"/><use href="#sq" y="1287.0"/><use href="#sq" y="1424.2"/><use href="#sq" y="1406.0"/><use href="#sq" y="1448.7"/><use href="#sq" y="1351.1"/><use href="#sq" y="1418.2"/><use href="#sq" y="1415.1"/><use href="#sq" y="1381.6"/><use href="#sq" y="1396.8"/><use href="#sq" y="1274.8"/><use href="#sq" y="1421.2"/><use href="#sq" y="1226.0"/><use href="#sq" y="1326.7"/><use href="#sq" y="1320.6"/><use href="#sq" y="1348.0"/><use href="#sq" y="1439.5"/><use href="#sq" y="1372.4"/><use href="#sq" y="1238.2"/><use href="#sq" y="1351.1"/><use href="#sq" y="1287.0"/><use href="#sq" y="1463.9"/><use href="#sq" y="1473.0"/><use href="#sq" y="1457.8"/><use href="#sq" y="1418.2"/><use href="#sq" y="1366.3"/><use href="#sq" y="1427.3"/><use href="#sq" y="1296.2"/><use href="#sq" y="1390.7"/><use href="#sq" y="1265.7"/><use href="#sq" y="1314.5"/><use href="#sq" y="1372.4"/><use href="#sq" y="1332.8"/><use href="#sq" y="1245.8"/><use href="#sq" y="1381.6"/><use href="#sq" y="1424.2"/><use href="#sq" y="1517.3"/><use href="#sq" y="1314.5"/><use href="#sq" y="1348.0"/><use href="#sq" y="1418.2"/><use href="#sq" y="1241.2"/><use href="#sq" y="1177.2"/><use href="#sq" y="1363.2"/><use href="#sq" y="1354.1"/><use href="#sq" y="1351.1"/><use href="#sq" y="1430.4"/><use href="#sq" y="1390.7"/><use href="#sq" y="1320.6"/><use href="#sq" y="1162.0"/><use href="#sq" y="1412.1"/><use href="#sq" y="1314.5"/><use href="#sq" y="1290.1"/><use href="#sq" y="1227.8"/><use href="#sq" y="1396.8"/><use href="#sq" y="1345.0"/><use href="#sq" y="1329.7"/><use href="#sq" y="1332.8"/><use href="#sq" y="1338.9"/><use href="#sq" y="1338.9"/><use href="#sq" y="1241.2"/><use href="#sq" y="1497.5"/><use href="#sq" y="1369.4"/><use href="#sq" y="1302.2"/><use href="#sq" y="1424.2"/><use href="#sq" y="1409.0"/><use href="#sq" y="1412.1"/><use href="#sq" y="1473.7"/><use href="#sq" y="1366.3"/><use href="#sq" y="1360.2"/><use href="#sq" y="1390.7"/><use href="#sq" y="1345.0"/><use href="#sq" y="1399.9"/><use href="#sq" y="1436.5"/><use href="#sq" y="1332.8"/><use href="#sq" y="1299.2"/><use href="#sq" y="1409.0"/><use href="#sq" y="1366.3"/><use href="#sq" y="1436.5"/><use href="#sq" y="1166.5"/><use href="#sq" y="1165.0"/><use href="#sq" y="1406.0"/><use href="#sq" y="1402.9"/><use href="#sq" y="1277.9"/><use href="#sq" y="1203.1"/><use href="#sq" y="1369.4"/><use href="#sq" y="1218.4"/><use href="#sq" y="1375.5"/><use href="#sq" y="1326.7"/><use href="#sq" y="1357.2"/><use href="#sq" y="1393.8"/><use href="#sq" y="1329.7"/><use href="#sq" y="1372.4"/><use href="#sq" y="1366.3"/><use href="#sq" y="1326.7"/><use href="#sq" y="1308.4"/><use href="#sq" y="1360.2"/><use href="#sq" y="1363.2"/><use href="#sq" y="1409.0"/><use href="#sq" y="1378.5"/><use href="#sq" y="1363.2"/><use href="#sq" y="1317.5"/><use href="#sq" y="1232.1"/><use href="#sq" y="1378.5"/><use href="#sq" y="1378.5"/><use href="#sq" y="1168.1"/><use href="#sq" y="1296.2"/><use href="#sq" y="1171.1"/><use href="#sq" y="1369.4"/><use href="#sq" y="1354.1"/><use href="#sq" y="1463.9"/><use href="#sq" y="1387.7"/><use href="#sq" y="1332.8"/><use href="#sq" y="1372.4"/><use href="#sq" y="1236.7"/><use href="#sq" y="1338.9"/><use href="#sq" y="1402.9"/><use href="#sq" y="1399.9"/><use href="#sq" y="1357.2"/><use href="#sq" y="1311.4"/><use href="#sq" y="1412.1"/><use href="#sq" y="1439.5"/><use href="#sq" y="1258.0"/><use href="#sq" y="1338.9"/><use href="#sq" y="1427.3"/><use href="#sq" y="1335.8"/>
</g>
<g transform="translate(405.1 0)">
<use href="#sq" y="1323.6"/><use href="#sq" y="1183.3"/><use href="#sq" y="1232.1"/><use href="#sq" y="1137.6"/><use href="#sq" y="1457.8"/><use href="#sq" y="1250.4"/><use href="#sq" y="1104.0"/><use href="#sq" y="1293.1"/><use href="#sq" y="1232.1"/><use href="#sq" y="1290.1"/><use href="#sq" y="1277.9"/><use href="#sq" y="1290.1"/><use href="#sq" y="1332.8"/><use href="#sq" y="1386.1"/><use href="#sq" y="1160.4"/><use href="#sq" y="1311.4"/><use href="#sq" y="1268.7"/><use href="#sq" y="1131.5"/><use href="#sq" y="1326.7"/><use href="#sq" y="1284.0"/><use href="#sq" y="1238.2"/><use href="#sq" y="1207.7"/><use href="#sq" y="1305.3"/><use href="#sq" y="1351.1"/><use href="#sq" y="1338.9"/><use href="#sq" y="1293.1"/><use href="#sq" y="1157.4"/><use href="#sq" y="1271.8"/><use href="#sq" y="1241.2"/><use href="#sq" y="1280.9"/><use href="#sq" y="1149.1"/><use href="#sq" y="1101.0"/><use href="#sq" y="1171.1"/><use href="#sq" y="1357.2"/><use href="#sq" y="1149.8"/><use href="#sq" y="1277.9"/><use href="#sq" y="1290.1"/><use href="#sq" y="1268.7"/><use href="#sq" y="1280.9"/><use href="#sq" y="1290.1"/><use href="#sq" y="1280.9"/><use href="#sq" y="1345.0"/><use href="#sq" y="1311.4"/><use href="#sq" y="1262.6"/><use href="#sq" y="1287.0"/><use href="#sq" y="1305.3"/><use href="#sq" y="1241.2"/><use href="#sq" y="1262.6"/><use href="#sq" y="1219.9"/><use href="#sq" y="1317.5"/><use href="#sq" y="1250.4"/><use href="#sq" y="1146.7"/><use href="#sq" y="1335.8"/><use href="#sq" y="1280.9"/><use href="#sq" y="1284.0"/><use href="#sq" y="1247.4"/><use href="#sq" y="1210.8"/><use href="#sq" y="1302.2"/><use href="#sq" y="1232.1"/><use href="#sq" y="1326.7"/><use href="#sq" y="1410.5"/><use href="#sq" y="1244.3"/><use href="#sq" y="1393.8"/><use href="#sq" y="1268.7"/><use href="#sq" y="1302.2"/><use href="#sq" y="1265.7"/><use href="#sq" y="1216.9"/><use href="#sq" y="1165.0"/><use href="#sq" y="1174.2"/><use href="#sq" y="1256.5"/><use href="#sq" y="1241.2"/><use href="#sq" y="1355.6"/><use href="#sq" y="1320.6"/><use href="#sq" y="1268.7"/><use href="#sq" y="1253.5"/><use href="#sq" y="1259.6"/><use href="#sq" y="1244.3"/><use href="#sq" y="1241.2"/><use href="#sq" y="1363.2"/><use href="#sq" y="1122.3"/><use href="#sq" y="1229.1"/><use href="#sq" y="1427.3"/><use href="#sq" y="1119.2"/><use href="#sq" y="1284.0"/><use href="#sq" y="1223.0"/><use href="#sq" y="1326.7"/><use href="#sq" y="1320.6"/><use href="#sq" y="1320.6"/><use href="#sq" y="1329.7"/><use href="#sq" y="1311.4"/><use href="#sq" y="1305.3"/><use href="#sq" y="1177.2"/><use href="#sq" y="1259.6"/><use href="#sq" y="1271.8"/><use href="#sq" y="1128.4"/><use href="#sq" y="1207.7"/><use href="#sq" y="1296.2"/><use href="#sq" y="1296.2"/><use href="#sq" y="1198.6"/><use href="#sq" y="1366.3"/><use href="#sq" y="1326.7"/><use href="#sq" y="1348.0"/><use href="#sq" y="1299.2"/><use href="#sq" y="1302.2"/><use href="#sq" y="1262.6"/><use href="#sq" y="1253.5"/><use href="#sq" y="1201.6"/><use href="#sq" y="1360.2"/><use href="#sq" y="1268.7"/><use href="#sq" y="1357.2"/><use href="#sq" y="1202.5"/><use href="#sq" y="1253.5"/><use href="#sq" y="1317.5"/><use href="#sq" y="1253.5"/><use href="#sq" y="1332.8"/><use href="#sq" y="1216.9"/><use href="#sq" y="1110.1"/><use href="#sq" y="1341.9"/><use href="#sq" y="1302.2"/><use href="#sq" y="1308.4"/><use href="#sq" y="1238.2"/><use href="#sq" y="1308.4"/><use href="#sq" y="1238.2"/><use href="#sq" y="1262.6"/><use href="#sq" y="1113.2"/><use href="#sq" y="1192.5"/><use href="#sq" y="1323.6"/><use href="#sq" y="1238.2"/><use href="#sq" y="1259.6"/><use href="#sq" y="1374.2"/><use href="#sq" y="1308.4"/><use href="#sq" y="1284.0"/><use href="#sq" y="1186.4"/><use href="#sq" y="1229.1"/><use href="#sq" y="1277.9"/><use href="#sq" y="1229.1"/><use href="#sq" y="1274.8"/><use href="#sq" y="1268.7"/><use href="#sq" y="1293.1"/><use href="#sq" y="1209.2"/><use href="#sq" y="1250.4"/><use href="#sq" y="1204.7"/><use href="#sq" y="1216.9"/><use href="#sq" y="1338.9"/><use href="#sq" y="1094.9"/><use href="#sq" y="1274.8"/><use href="#sq" y="1250.4"/><use href="#sq" y="1213.8"/><use href="#sq" y="1110.1"/><use href="#sq" y="1149.1"/><use href="#sq" y="1213.8"/><use href="#sq" y="1085.7"/><use href="#sq" y="1189.4"/><use href="#sq" y="1229.1"/><use href="#sq" y="1139.1"/><use href="#sq" y="1317.5"/><use href="#sq" y="1284.0"/><use href="#sq" y="1299.2"/><use href="#sq" y="1219.9"/><use href="#sq" y="1262.6"/><use href="#sq" y="1223.0"/><use href="#sq" y="1410.5"/><use href="#sq" y="1113.2"/>
</g>
<g transform="translate(526.5 0)">
<use href="#sq" y="1212.3"/><use href="#sq" y="1250.1"/><use href="#sq" y="1204.7"/><use href="#sq" y="1203.4"/><use href="#sq" y="1287.0"/><use href="#sq" y="1197.6"/><use href="#sq" y="1162.6"/><use href="#sq" y="1271.8"/><use href="#sq" y="1172.9"/><use href="#sq" y="1168.7"/><use href="#sq" y="1125.0"/><use href="#sq" y="1149.8"/><use href="#sq" y="1094.2"/><use href="#sq" y="1206.2"/><use href="#sq" y="1161.0"/><use href="#sq" y="1278.5"/><use href="#sq" y="1110.4"/><use href="#sq" y="1162.0"/><use href="#sq" y="1209.2"/><use href="#sq" y="1194.0"/><use href="#sq" y="1130.5"/><use href="#sq" y="1229.1"/><use href="#sq" y="1075.3"/><use href="#sq" y="1126.9"/><use href="#sq" y="1114.7"/><use href="#sq" y="1235.8"/><use href="#sq" y="1118.3"/><use href="#sq" y="1060.7"/><use href="#sq" y="1151.3"/><use href="#sq" y="1259.2"/><use href="#sq" y="1148.2"/><use href="#sq" y="1248.3"/>
</g>
<g transform="translate(647.9 0)">
<use href="#sq" y="1097.9"/><use href="#sq" y="1168.1"/>
</g>
</g>
<g fill="#0072B2" fill-opacity=".5" stroke="#000" stroke-opacity=".5" stroke-width="2.05" stroke-linejoin="round">
<g transform="translate(314.1 0)">
<use href="#td" y="1366.3"/><use href="#td" y="1412.1"/><use href="#td" y="1305.3"/><use href="#td" y="1415.1"/><use href="#td" y="1390.7"/><use href="#td" y="1302.2"/><use href="#td" y="1302.2"/><use href="#td" y="1393.8"/><use href="#td" y="1293.1"/><use href="#td" y="1259.6"/><use href="#td" y="1229.1"/><use href="#td" y="1232.1"/><use href="#td" y="1402.9"/><use href="#td" y="1314.5"/><use href="#td" y="1296.2"/><use href="#td" y="1271.8"/><use href="#td" y="1299.2"/><use href="#td" y="1363.2"/><use href="#td" y="1378.5"/><use href="#td" y="1320.6"/><use href="#td" y="1280.9"/><use href="#td" y="1396.8"/><use href="#td" y="1406.0"/><use href="#td" y="1296.2"/><use href="#td" y="1381.6"/><use href="#td" y="1271.8"/><use href="#td" y="1223.0"/><use href="#td" y="1442.5"/><use href="#td" y="1354.1"/><use href="#td" y="1387.7"/><use href="#td" y="1357.2"/><use href="#td" y="1445.6"/><use href="#td" y="1366.3"/><use href="#td" y="1262.6"/><use href="#td" y="1305.3"/><use href="#td" y="1418.2"/><use href="#td" y="1402.9"/><use href="#td" y="1492.9"/><use href="#td" y="1338.9"/><use href="#td" y="1387.7"/><use href="#td" y="1345.0"/><use href="#td" y="1345.0"/><use href="#td" y="1320.6"/><use href="#td" y="1363.2"/><use href="#td" y="1384.6"/><use href="#td" y="1329.7"/><use href="#td" y="1155.9"/><use href="#td" y="1433.4"/><use href="#td" y="1256.5"/><use href="#td" y="1351.1"/><use href="#td" y="1448.7"/><use href="#td" y="1317.5"/><use href="#td" y="1366.3"/><use href="#td" y="1387.7"/><use href="#td" y="1399.9"/><use href="#td" y="1293.1"/><use href="#td" y="1360.2"/><use href="#td" y="1299.2"/><use href="#td" y="1482.2"/><use href="#td" y="1369.4"/><use href="#td" y="1363.2"/><use href="#td" y="1335.8"/><use href="#td" y="1305.3"/><use href="#td" y="1244.3"/><use href="#td" y="1174.2"/><use href="#td" y="1351.1"/><use href="#td" y="1277.9"/><use href="#td" y="1396.8"/><use href="#td" y="1311.4"/><use href="#td" y="1204.7"/><use href="#td" y="1348.0"/><use href="#td" y="1213.8"/><use href="#td" y="1290.1"/><use href="#td" y="1311.4"/><use href="#td" y="1223.0"/><use href="#td" y="1256.5"/><use href="#td" y="1235.2"/><use href="#td" y="1366.3"/><use href="#td" y="1439.5"/><use href="#td" y="1274.8"/><use href="#td" y="1238.2"/><use href="#td" y="1354.1"/><use href="#td" y="1210.8"/><use href="#td" y="1317.5"/><use href="#td" y="1287.0"/><use href="#td" y="1332.8"/><use href="#td" y="1360.2"/><use href="#td" y="1387.7"/><use href="#td" y="1345.0"/><use href="#td" y="1311.4"/><use href="#td" y="1244.3"/><use href="#td" y="1427.3"/><use href="#td" y="1360.2"/><use href="#td" y="1332.8"/><use href="#td" y="1335.8"/><use href="#td" y="1418.2"/><use href="#td" y="1375.5"/><use href="#td" y="1326.7"/><use href="#td" y="1430.4"/><use href="#td" y="1381.6"/><use href="#td" y="1433.4"/><use href="#td" y="1296.2"/><use href="#td" y="1284.0"/><use href="#td" y="1284.0"/><use href="#td" y="1338.9"/><use href="#td" y="1363.2"/><use href="#td" y="1280.9"/><use href="#td" y="1421.2"/><use href="#td" y="1471.5"/><use href="#td" y="1384.6"/><use href="#td" y="1409.0"/><use href="#td" y="1265.7"/><use href="#td" y="1433.4"/><use href="#td" y="1338.9"/><use href="#td" y="1284.0"/><use href="#td" y="1317.5"/><use href="#td" y="1341.9"/><use href="#td" y="1393.8"/><use href="#td" y="1378.5"/><use href="#td" y="1396.8"/><use href="#td" y="1399.9"/><use href="#td" y="1465.4"/><use href="#td" y="1430.4"/><use href="#td" y="1406.0"/><use href="#td" y="1296.2"/><use href="#td" y="1320.6"/><use href="#td" y="1415.1"/><use href="#td" y="1483.7"/><use href="#td" y="1393.8"/><use href="#td" y="1453.2"/><use href="#td" y="1232.1"/><use href="#td" y="1280.9"/><use href="#td" y="1341.9"/><use href="#td" y="1326.7"/><use href="#td" y="1406.0"/><use href="#td" y="1268.7"/><use href="#td" y="1226.0"/><use href="#td" y="1338.9"/><use href="#td" y="1329.7"/><use href="#td" y="1210.8"/><use href="#td" y="1250.4"/><use href="#td" y="1399.9"/><use href="#td" y="1396.8"/><use href="#td" y="1354.1"/><use href="#td" y="1293.1"/><use href="#td" y="1378.5"/><use href="#td" y="1375.5"/><use href="#td" y="1311.4"/><use href="#td" y="1357.2"/><use href="#td" y="1293.1"/><use href="#td" y="1332.8"/><use href="#td" y="1293.1"/><use href="#td" y="1308.4"/><use href="#td" y="1335.8"/><use href="#td" y="1345.0"/><use href="#td" y="1226.0"/><use href="#td" y="1375.5"/><use href="#td" y="1317.5"/><use href="#td" y="1351.1"/><use href="#td" y="1372.4"/><use href="#td" y="1406.0"/><use href="#td" y="1412.1"/><use href="#td" y="1430.4"/><use href="#td" y="1375.5"/><use href="#td" y="1323.6"/><use href="#td" y="1357.2"/><use href="#td" y="1351.1"/><use href="#td" y="1459.3"/><use href="#td" y="1271.8"/><use href="#td" y="1363.2"/><use href="#td" y="1479.2"/><use href="#td" y="1372.4"/><use href="#td" y="1308.4"/><use href="#td" y="1308.4"/><use href="#td" y="1369.4"/><use href="#td" y="1372.4"/><use href="#td" y="1284.0"/><use href="#td" y="1338.9"/><use href="#td" y="1372.4"/><use href="#td" y="1332.8"/><use href="#td" y="1326.7"/><use href="#td" y="1351.1"/><use href="#td" y="1259.6"/><use href="#td" y="1280.9"/><use href="#td" y="1329.7"/><use href="#td" y="1323.6"/><use href="#td" y="1381.6"/><use href="#td" y="1305.3"/><use href="#td" y="1427.3"/><use href="#td" y="1274.8"/><use href="#td" y="1402.9"/><use href="#td" y="1233.6"/><use href="#td" y="1323.6"/><use href="#td" y="1262.6"/><use href="#td" y="1415.1"/><use href="#td" y="1296.2"/><use href="#td" y="1415.1"/><use href="#td" y="1293.1"/><use href="#td" y="1326.7"/><use href="#td" y="1375.5"/><use href="#td" y="1354.1"/><use href="#td" y="1390.7"/><use href="#td" y="1357.2"/><use href="#td" y="1348.0"/><use href="#td" y="1308.4"/><use href="#td" y="1366.3"/><use href="#td" y="1375.5"/><use href="#td" y="1204.7"/><use href="#td" y="1308.4"/><use href="#td" y="1323.6"/><use href="#td" y="1354.1"/><use href="#td" y="1384.6"/><use href="#td" y="1326.7"/><use href="#td" y="1338.9"/><use href="#td" y="1265.7"/><use href="#td" y="1277.9"/><use href="#td" y="1387.7"/><use href="#td" y="1244.3"/><use href="#td" y="1311.4"/><use href="#td" y="1259.6"/><use href="#td" y="1274.8"/><use href="#td" y="1302.2"/><use href="#td" y="1251.9"/><use href="#td" y="1290.1"/><use href="#td" y="1488.3"/><use href="#td" y="1351.1"/><use href="#td" y="1348.0"/><use href="#td" y="1415.1"/><use href="#td" y="1129.9"/><use href="#td" y="1317.5"/><use href="#td" y="1381.6"/><use href="#td" y="1323.6"/><use href="#td" y="1250.4"/><use href="#td" y="1421.2"/><use href="#td" y="1338.9"/><use href="#td" y="1287.0"/><use href="#td" y="1375.5"/><use href="#td" y="1265.7"/><use href="#td" y="1168.1"/><use href="#td" y="1250.4"/><use href="#td" y="1311.4"/><use href="#td" y="1219.9"/><use href="#td" y="1280.9"/><use href="#td" y="1268.7"/><use href="#td" y="1253.5"/><use href="#td" y="1135.1"/><use href="#td" y="1409.0"/><use href="#td" y="1439.5"/><use href="#td" y="1345.0"/><use href="#td" y="1197.0"/><use href="#td" y="1256.5"/><use href="#td" y="1427.3"/><use href="#td" y="1360.2"/><use href="#td" y="1329.7"/><use href="#td" y="1338.9"/><use href="#td" y="1320.6"/><use href="#td" y="1332.8"/>
</g>
<g transform="translate(435.5 0)">
<use href="#td" y="1305.3"/><use href="#td" y="1165.0"/><use href="#td" y="1329.7"/><use href="#td" y="1111.0"/><use href="#td" y="1059.8"/><use href="#td" y="1162.0"/><use href="#td" y="1262.6"/><use href="#td" y="1280.9"/><use href="#td" y="1238.2"/><use href="#td" y="1308.4"/><use href="#td" y="1311.4"/><use href="#td" y="1111.6"/><use href="#td" y="1223.0"/><use href="#td" y="1229.1"/><use href="#td" y="1189.4"/><use href="#td" y="1293.1"/><use href="#td" y="1207.7"/><use href="#td" y="1096.4"/><use href="#td" y="1253.5"/><use href="#td" y="1381.6"/><use href="#td" y="1293.1"/><use href="#td" y="1183.3"/><use href="#td" y="1216.9"/><use href="#td" y="1375.5"/><use href="#td" y="1357.2"/><use href="#td" y="1271.8"/><use href="#td" y="1241.2"/><use href="#td" y="1369.4"/><use href="#td" y="1219.9"/><use href="#td" y="1253.5"/><use href="#td" y="1377.0"/><use href="#td" y="1213.8"/><use href="#td" y="1195.5"/><use href="#td" y="1299.2"/><use href="#td" y="1171.1"/><use href="#td" y="1183.3"/><use href="#td" y="1210.8"/><use href="#td" y="1229.1"/><use href="#td" y="1210.8"/><use href="#td" y="1219.9"/><use href="#td" y="1204.7"/><use href="#td" y="1244.3"/><use href="#td" y="1253.5"/><use href="#td" y="1308.4"/><use href="#td" y="1406.0"/><use href="#td" y="1276.3"/><use href="#td" y="1113.2"/><use href="#td" y="1174.2"/><use href="#td" y="1125.4"/><use href="#td" y="1210.8"/><use href="#td" y="1323.6"/><use href="#td" y="1085.7"/><use href="#td" y="1259.6"/><use href="#td" y="1158.9"/><use href="#td" y="1229.1"/><use href="#td" y="1152.8"/><use href="#td" y="1299.2"/><use href="#td" y="1219.9"/><use href="#td" y="1265.7"/><use href="#td" y="1186.4"/><use href="#td" y="1168.1"/><use href="#td" y="1131.5"/><use href="#td" y="1259.6"/><use href="#td" y="1302.2"/><use href="#td" y="1305.3"/><use href="#td" y="1326.7"/><use href="#td" y="1094.9"/><use href="#td" y="1180.2"/><use href="#td" y="1174.2"/><use href="#td" y="1143.7"/><use href="#td" y="1247.4"/><use href="#td" y="1192.5"/><use href="#td" y="1090.3"/><use href="#td" y="1226.0"/><use href="#td" y="1244.3"/><use href="#td" y="1223.0"/><use href="#td" y="1155.9"/><use href="#td" y="1213.8"/><use href="#td" y="1314.5"/><use href="#td" y="1192.5"/><use href="#td" y="1305.3"/><use href="#td" y="1201.6"/><use href="#td" y="1323.6"/><use href="#td" y="1296.2"/><use href="#td" y="1168.1"/><use href="#td" y="1097.9"/><use href="#td" y="1317.5"/><use href="#td" y="1223.0"/><use href="#td" y="1119.2"/><use href="#td" y="1311.4"/><use href="#td" y="1262.6"/><use href="#td" y="1299.2"/><use href="#td" y="1128.4"/><use href="#td" y="1142.4"/><use href="#td" y="1047.6"/><use href="#td" y="1284.0"/><use href="#td" y="1140.6"/><use href="#td" y="1024.7"/><use href="#td" y="1068.9"/><use href="#td" y="1198.6"/><use href="#td" y="1229.1"/><use href="#td" y="1268.7"/><use href="#td" y="1195.5"/><use href="#td" y="1343.4"/><use href="#td" y="1110.1"/><use href="#td" y="1198.6"/><use href="#td" y="1077.2"/><use href="#td" y="1201.6"/><use href="#td" y="1158.9"/><use href="#td" y="1259.6"/><use href="#td" y="1271.8"/><use href="#td" y="1229.1"/><use href="#td" y="1076.6"/><use href="#td" y="1314.5"/><use href="#td" y="1177.2"/><use href="#td" y="1219.9"/><use href="#td" y="1253.5"/><use href="#td" y="1268.7"/><use href="#td" y="1189.4"/><use href="#td" y="1232.1"/><use href="#td" y="1011.6"/><use href="#td" y="1168.1"/><use href="#td" y="1143.7"/><use href="#td" y="1317.5"/><use href="#td" y="1235.2"/><use href="#td" y="1149.8"/><use href="#td" y="1027.8"/><use href="#td" y="948.5"/><use href="#td" y="1207.7"/><use href="#td" y="1250.4"/><use href="#td" y="1390.7"/><use href="#td" y="1137.6"/><use href="#td" y="1180.2"/><use href="#td" y="1241.2"/><use href="#td" y="1101.0"/><use href="#td" y="1229.1"/><use href="#td" y="1235.2"/><use href="#td" y="1207.7"/><use href="#td" y="1277.9"/><use href="#td" y="1026.2"/><use href="#td" y="1259.6"/><use href="#td" y="1213.8"/><use href="#td" y="1192.5"/><use href="#td" y="1290.1"/><use href="#td" y="1238.2"/><use href="#td" y="1171.1"/><use href="#td" y="1056.7"/><use href="#td" y="1284.0"/><use href="#td" y="1213.8"/><use href="#td" y="1165.0"/><use href="#td" y="1180.2"/><use href="#td" y="1262.6"/><use href="#td" y="1143.7"/><use href="#td" y="1241.2"/><use href="#td" y="1093.3"/><use href="#td" y="1223.0"/><use href="#td" y="1256.5"/><use href="#td" y="1412.1"/><use href="#td" y="1198.6"/><use href="#td" y="1183.3"/><use href="#td" y="1201.6"/><use href="#td" y="1287.0"/><use href="#td" y="1284.0"/><use href="#td" y="1186.4"/><use href="#td" y="1145.2"/><use href="#td" y="1235.2"/><use href="#td" y="1244.3"/><use href="#td" y="1050.6"/><use href="#td" y="1204.7"/><use href="#td" y="1320.6"/><use href="#td" y="1174.2"/><use href="#td" y="1253.5"/><use href="#td" y="1277.9"/><use href="#td" y="1155.9"/><use href="#td" y="1192.5"/><use href="#td" y="1131.5"/><use href="#td" y="1198.6"/><use href="#td" y="1183.3"/><use href="#td" y="1308.4"/><use href="#td" y="1293.1"/><use href="#td" y="1250.4"/><use href="#td" y="1235.2"/><use href="#td" y="1247.4"/><use href="#td" y="1253.5"/><use href="#td" y="1290.1"/><use href="#td" y="1274.8"/><use href="#td" y="1238.2"/><use href="#td" y="1296.2"/><use href="#td" y="1195.5"/><use href="#td" y="1146.7"/><use href="#td" y="1259.6"/><use href="#td" y="1171.1"/><use href="#td" y="1302.2"/><use href="#td" y="1219.9"/><use href="#td" y="1247.4"/><use href="#td" y="1189.4"/><use href="#td" y="1274.8"/><use href="#td" y="1210.8"/><use href="#td" y="1213.8"/><use href="#td" y="1216.9"/>
</g>
<g transform="translate(556.9 0)">
<use href="#td" y="1025.6"/><use href="#td" y="1250.4"/><use href="#td" y="1168.1"/><use href="#td" y="1107.1"/><use href="#td" y="1183.3"/><use href="#td" y="1128.4"/><use href="#td" y="1085.7"/><use href="#td" y="1131.5"/><use href="#td" y="1155.9"/><use href="#td" y="1116.2"/><use href="#td" y="991.2"/><use href="#td" y="977.4"/><use href="#td" y="1239.4"/><use href="#td" y="1073.5"/><use href="#td" y="1082.7"/><use href="#td" y="1020.1"/><use href="#td" y="1192.5"/><use href="#td" y="1201.6"/><use href="#td" y="1058.2"/><use href="#td" y="1239.4"/><use href="#td" y="1137.6"/><use href="#td" y="1204.7"/><use href="#td" y="1018.6"/><use href="#td" y="1125.4"/><use href="#td" y="1180.2"/><use href="#td" y="1162.0"/><use href="#td" y="971.3"/><use href="#td" y="1011.0"/><use href="#td" y="992.7"/><use href="#td" y="1097.9"/><use href="#td" y="1174.2"/><use href="#td" y="1146.7"/><use href="#td" y="1166.5"/><use href="#td" y="1070.5"/><use href="#td" y="1007.9"/><use href="#td" y="1122.3"/><use href="#td" y="1168.1"/><use href="#td" y="998.8"/><use href="#td" y="1195.5"/><use href="#td" y="1137.6"/><use href="#td" y="982.0"/><use href="#td" y="1192.5"/><use href="#td" y="1072.0"/><use href="#td" y="960.7"/><use href="#td" y="1154.3"/><use href="#td" y="1177.2"/><use href="#td" y="1101.0"/><use href="#td" y="1021.7"/><use href="#td" y="1125.4"/><use href="#td" y="1143.7"/><use href="#td" y="1152.8"/><use href="#td" y="1070.5"/><use href="#td" y="1229.1"/><use href="#td" y="1099.4"/><use href="#td" y="1084.2"/><use href="#td" y="1076.6"/><use href="#td" y="1134.5"/><use href="#td" y="1040.0"/><use href="#td" y="1094.9"/><use href="#td" y="1149.8"/><use href="#td" y="1162.0"/><use href="#td" y="1020.7"/><use href="#td" y="962.2"/><use href="#td" y="1085.7"/><use href="#td" y="1207.7"/><use href="#td" y="1186.4"/><use href="#td" y="972.5"/><use href="#td" y="1162.0"/><use href="#td" y="1155.9"/><use href="#td" y="1177.2"/><use href="#td" y="1341.9"/><use href="#td" y="1044.5"/><use href="#td" y="879.8"/><use href="#td" y="959.1"/><use href="#td" y="1171.1"/><use href="#td" y="1075.0"/><use href="#td" y="1001.8"/><use href="#td" y="1061.3"/><use href="#td" y="1152.8"/><use href="#td" y="1162.0"/><use href="#td" y="1133.0"/><use href="#td" y="1140.6"/><use href="#td" y="1079.6"/><use href="#td" y="1171.1"/><use href="#td" y="1120.8"/><use href="#td" y="1091.8"/><use href="#td" y="1119.2"/><use href="#td" y="1014.0"/><use href="#td" y="1134.5"/><use href="#td" y="1110.1"/><use href="#td" y="1143.7"/><use href="#td" y="1186.4"/>
</g>
<g transform="translate(678.3 0)">
<use href="#td" y="1071.1"/><use href="#td" y="966.8"/><use href="#td" y="1118.3"/><use href="#td" y="951.5"/><use href="#td" y="1131.1"/><use href="#td" y="982.9"/><use href="#td" y="969.8"/><use href="#td" y="1004.0"/><use href="#td" y="1085.1"/><use href="#td" y="928.0"/><use href="#td" y="975.9"/><use href="#td" y="1044.5"/><use href="#td" y="997.9"/><use href="#td" y="1036.3"/><use href="#td" y="1024.7"/><use href="#td" y="1067.4"/><use href="#td" y="1047.6"/><use href="#td" y="1041.5"/><use href="#td" y="1190.0"/><use href="#td" y="1044.5"/><use href="#td" y="1117.1"/><use href="#td" y="1054.0"/><use href="#td" y="1027.8"/><use href="#td" y="914.9"/><use href="#td" y="937.2"/><use href="#td" y="948.5"/><use href="#td" y="1060.4"/><use href="#td" y="1113.8"/><use href="#td" y="1097.9"/><use href="#td" y="950.0"/><use href="#td" y="1064.4"/><use href="#td" y="1071.1"/><use href="#td" y="963.7"/><use href="#td" y="955.5"/><use href="#td" y="1117.1"/><use href="#td" y="1040.3"/><use href="#td" y="1082.7"/>
</g>
<g transform="translate(784.5 0)">
<use href="#td" y="930.2"/><use href="#td" y="1016.5"/><use href="#td" y="1046.7"/><use href="#td" y="1040.3"/><use href="#td" y="1092.7"/>
</g>
</g>
<path d="M177.5 1470.1 L183.6 1464.1 L189.6 1458.1 L195.7 1452.2 L201.8 1446.3 L207.8 1440.5 L213.9 1434.8 L220.0 1429.1 L226.1 1423.4 L232.1 1417.8 L238.2 1412.3 L244.3 1406.8 L250.3 1401.3 L256.4 1395.9 L262.5 1390.6 L268.6 1385.2 L274.6 1380.0 L280.7 1374.8 L286.8 1369.6 L292.8 1364.5 L298.9 1359.4 L305.0 1354.4 L311.0 1349.4 L317.1 1344.4 L323.2 1339.5 L329.2 1334.7 L335.3 1329.9 L341.4 1325.1 L347.5 1320.3 L353.5 1315.7 L359.6 1311.0 L365.7 1306.4 L371.7 1301.8 L377.8 1297.3 L383.9 1292.8 L390.0 1288.4 L396.0 1284.0 L402.1 1279.6 L408.2 1275.3 L414.2 1271.0 L420.3 1266.8 L426.4 1262.5 L432.4 1258.4 L438.5 1254.2 L444.6 1250.1 L450.7 1246.1 L456.7 1242.0 L462.8 1238.0 L468.9 1234.1 L474.9 1230.1 L481.0 1226.3 L487.1 1222.4 L493.1 1218.6 L499.2 1214.8 L505.3 1211.0 L511.4 1207.3 L517.4 1203.6 L523.5 1200.0 L529.6 1196.4 L535.6 1192.8 L541.7 1189.2 L547.8 1185.7 L553.8 1182.2 L559.9 1178.7 L566.0 1175.3 L572.0 1171.9 L578.1 1168.5 L584.2 1165.2 L590.3 1161.9 L596.3 1158.6 L602.4 1155.3 L608.5 1152.1 L614.5 1148.9 L620.6 1145.7 L626.7 1142.6 L632.8 1139.5 L638.8 1136.4 L644.9 1133.3 L651.0 1130.3 L657.0 1127.3 L663.1 1124.3 L669.2 1121.4 L675.2 1118.4 L681.3 1115.5 L687.4 1112.7 L693.5 1109.8 L699.5 1107.0 L705.6 1104.2 L711.7 1101.4 L717.7 1098.7 L723.8 1096.0 L729.9 1093.3 L735.9 1090.6 L742.0 1087.9 L748.1 1085.3 L754.1 1082.7 L760.2 1080.1 L766.3 1077.5 L772.4 1075.0 L778.4 1072.5 L784.5 1070.0 L790.6 1067.5 L796.6 1065.1 L802.7 1062.7 L808.8 1060.3 L814.9 1057.9 L820.9 1055.5 L827.0 1053.2 L833.1 1050.8 L839.1 1048.5 L845.2 1046.3" fill="none" stroke="#E69F00" stroke-width="7.5" stroke-linejoin="round"/>
<path d="M177.5 1476.2 L183.6 1468.5 L189.6 1460.8 L195.7 1453.2 L201.8 1445.6 L207.8 1438.2 L213.9 1430.8 L220.0 1423.4 L226.1 1416.2 L232.1 1409.0 L238.2 1401.9 L244.3 1394.8 L250.3 1387.8 L256.4 1380.9 L262.5 1374.0 L268.6 1367.3 L274.6 1360.5 L280.7 1353.9 L286.8 1347.3 L292.8 1340.7 L298.9 1334.3 L305.0 1327.9 L311.0 1321.5 L317.1 1315.2 L323.2 1309.0 L329.2 1302.8 L335.3 1296.7 L341.4 1290.6 L347.5 1284.6 L353.5 1278.7 L359.6 1272.8 L365.7 1267.0 L371.7 1261.2 L377.8 1255.5 L383.9 1249.8 L390.0 1244.2 L396.0 1238.7 L402.1 1233.2 L408.2 1227.7 L414.2 1222.3 L420.3 1217.0 L426.4 1211.7 L432.4 1206.4 L438.5 1201.2 L444.6 1196.1 L450.7 1191.0 L456.7 1185.9 L462.8 1180.9 L468.9 1176.0 L474.9 1171.1 L481.0 1166.2 L487.1 1161.4 L493.1 1156.6 L499.2 1151.9 L505.3 1147.2 L511.4 1142.6 L517.4 1138.0 L523.5 1133.5 L529.6 1129.0 L535.6 1124.5 L541.7 1120.1 L547.8 1115.7 L553.8 1111.4 L559.9 1107.1 L566.0 1102.8 L572.0 1098.6 L578.1 1094.5 L584.2 1090.3 L590.3 1086.2 L596.3 1082.2 L602.4 1078.2 L608.5 1074.2 L614.5 1070.2 L620.6 1066.3 L626.7 1062.5 L632.8 1058.6 L638.8 1054.9 L644.9 1051.1 L651.0 1047.4 L657.0 1043.7 L663.1 1040.0 L669.2 1036.4 L675.2 1032.8 L681.3 1029.3 L687.4 1025.8 L693.5 1022.3 L699.5 1018.9 L705.6 1015.5 L711.7 1012.1 L717.7 1008.7 L723.8 1005.4 L729.9 1002.1 L735.9 998.9 L742.0 995.6 L748.1 992.4 L754.1 989.3 L760.2 986.2 L766.3 983.0 L772.4 980.0 L778.4 976.9 L784.5 973.9 L790.6 970.9 L796.6 968.0 L802.7 965.0 L808.8 962.1 L814.9 959.3 L820.9 956.4 L827.0 953.6 L833.1 950.8 L839.1 948.0 L845.2 945.3" fill="none" stroke="#0072B2" stroke-width="7.5" stroke-linejoin="round"/>
<path d="M177.5 857.4 V1562.2 M173.8 1558.5 H845.2" stroke="#000" stroke-width="7.4" fill="none"/>
<path d="M177.5 1558.5 v9.5 M298.9 1558.5 v9.5 M420.3 1558.5 v9.5 M541.7 1558.5 v9.5 M663.1 1558.5 v9.5 M784.5 1558.5 v9.5 M177.5 1558.5 h-9.5 M177.5 1406.0 h-9.5 M177.5 1253.5 h-9.5 M177.5 1101.0 h-9.5 M177.5 948.5 h-9.5" stroke="#333" stroke-width="3.4" fill="none"/>
<text transform="translate(177.5 1606.5) scale(1.000 1.035)" font-size="42.0" text-anchor="middle">0</text>
<text transform="translate(298.9 1606.5) scale(1.000 1.035)" font-size="42.0" text-anchor="middle">1</text>
<text transform="translate(420.3 1606.5) scale(1.000 1.035)" font-size="42.0" text-anchor="middle">2</text>
<text transform="translate(541.7 1606.5) scale(1.000 1.035)" font-size="42.0" text-anchor="middle">3</text>
<text transform="translate(663.1 1606.5) scale(1.000 1.035)" font-size="42.0" text-anchor="middle">4</text>
<text transform="translate(784.5 1606.5) scale(1.000 1.035)" font-size="42.0" text-anchor="middle">5</text>
<text transform="translate(159.9 1573.8) scale(1.000 1.035)" font-size="42.0" text-anchor="end">150</text>
<text transform="translate(159.9 1421.2) scale(1.000 1.035)" font-size="42.0" text-anchor="end">200</text>
<text transform="translate(159.9 1268.8) scale(1.000 1.035)" font-size="42.0" text-anchor="end">250</text>
<text transform="translate(159.9 1116.2) scale(1.000 1.035)" font-size="42.0" text-anchor="end">300</text>
<text transform="translate(159.9 963.8) scale(1.000 1.035)" font-size="42.0" text-anchor="end">350</text>
<text transform="translate(1.7 867.9) scale(1.000 1.000)" font-size="44.5">C</text>
<text transform="translate(63.4 1207.7) rotate(-90) scale(1.012 1.000)" font-size="42.0" text-anchor="middle">L<tspan font-size="29.4" dy="6.5">t</tspan><tspan dy="-6.5"> (mm)</tspan></text>
</g>
<g id="panelD">
<g fill="#CC6677" fill-opacity=".5" stroke="#000" stroke-opacity=".5" stroke-width="2.05" stroke-linejoin="round">
<g transform="translate(1157.0 0)">
<use href="#ci" y="1442.5"/><use href="#ci" y="1372.4"/><use href="#ci" y="1412.1"/><use href="#ci" y="1442.5"/><use href="#ci" y="1375.5"/><use href="#ci" y="1448.7"/><use href="#ci" y="1427.3"/><use href="#ci" y="1302.2"/><use href="#ci" y="1180.2"/><use href="#ci" y="1162.0"/><use href="#ci" y="1384.6"/><use href="#ci" y="1302.2"/><use href="#ci" y="1245.8"/><use href="#ci" y="1166.5"/><use href="#ci" y="1424.2"/><use href="#ci" y="1341.9"/><use href="#ci" y="1372.4"/><use href="#ci" y="1277.9"/><use href="#ci" y="1174.2"/><use href="#ci" y="1357.2"/><use href="#ci" y="1345.0"/><use href="#ci" y="1396.8"/><use href="#ci" y="1323.6"/><use href="#ci" y="1378.5"/><use href="#ci" y="1348.0"/><use href="#ci" y="1378.5"/><use href="#ci" y="1409.0"/><use href="#ci" y="1375.5"/><use href="#ci" y="1203.1"/><use href="#ci" y="1381.6"/><use href="#ci" y="1351.1"/><use href="#ci" y="1308.4"/><use href="#ci" y="1163.5"/><use href="#ci" y="1308.4"/><use href="#ci" y="1369.4"/><use href="#ci" y="1473.7"/><use href="#ci" y="1274.8"/><use href="#ci" y="1433.4"/><use href="#ci" y="1421.2"/><use href="#ci" y="1284.0"/><use href="#ci" y="1399.9"/><use href="#ci" y="1448.7"/><use href="#ci" y="1378.5"/><use href="#ci" y="1335.8"/><use href="#ci" y="1171.1"/><use href="#ci" y="1384.6"/><use href="#ci" y="1369.4"/><use href="#ci" y="1363.2"/><use href="#ci" y="1293.1"/><use href="#ci" y="1168.1"/><use href="#ci" y="1326.7"/><use href="#ci" y="1354.1"/><use href="#ci" y="1226.0"/><use href="#ci" y="1412.1"/><use href="#ci" y="1357.2"/><use href="#ci" y="1384.6"/><use href="#ci" y="1329.7"/><use href="#ci" y="1421.2"/><use href="#ci" y="1233.6"/><use href="#ci" y="1329.7"/><use href="#ci" y="1265.7"/><use href="#ci" y="1387.7"/><use href="#ci" y="1345.0"/><use href="#ci" y="1348.0"/><use href="#ci" y="1338.9"/><use href="#ci" y="1406.0"/><use href="#ci" y="1177.2"/><use href="#ci" y="1165.0"/><use href="#ci" y="1399.9"/><use href="#ci" y="1332.8"/><use href="#ci" y="1296.2"/><use href="#ci" y="1406.0"/><use href="#ci" y="1396.8"/><use href="#ci" y="1387.7"/><use href="#ci" y="1457.8"/><use href="#ci" y="1369.4"/><use href="#ci" y="1287.0"/><use href="#ci" y="1305.3"/><use href="#ci" y="1517.3"/><use href="#ci" y="1451.7"/><use href="#ci" y="1317.5"/><use href="#ci" y="1366.3"/><use href="#ci" y="1363.2"/><use href="#ci" y="1320.6"/><use href="#ci" y="1436.5"/><use href="#ci" y="1387.7"/><use href="#ci" y="1454.8"/><use href="#ci" y="1372.4"/><use href="#ci" y="1258.0"/><use href="#ci" y="1335.8"/><use href="#ci" y="1436.5"/><use href="#ci" y="1241.2"/><use href="#ci" y="1326.7"/><use href="#ci" y="1341.9"/><use href="#ci" y="1430.4"/><use href="#ci" y="1317.5"/><use href="#ci" y="1338.9"/><use href="#ci" y="1399.9"/><use href="#ci" y="1351.1"/><use href="#ci" y="1314.5"/><use href="#ci" y="1393.8"/><use href="#ci" y="1415.1"/><use href="#ci" y="1409.0"/><use href="#ci" y="1299.2"/><use href="#ci" y="1345.0"/><use href="#ci" y="1497.5"/><use href="#ci" y="1402.9"/><use href="#ci" y="1390.7"/><use href="#ci" y="1311.4"/><use href="#ci" y="1290.1"/><use href="#ci" y="1354.1"/><use href="#ci" y="1412.1"/><use href="#ci" y="1512.7"/><use href="#ci" y="1390.7"/><use href="#ci" y="1418.2"/><use href="#ci" y="1418.2"/><use href="#ci" y="1363.2"/><use href="#ci" y="1463.9"/><use href="#ci" y="1509.7"/><use href="#ci" y="1296.2"/><use href="#ci" y="1320.6"/><use href="#ci" y="1439.5"/><use href="#ci" y="1332.8"/><use href="#ci" y="1280.9"/><use href="#ci" y="1218.4"/><use href="#ci" y="1195.5"/><use href="#ci" y="1360.2"/><use href="#ci" y="1360.2"/><use href="#ci" y="1271.8"/><use href="#ci" y="1467.0"/><use href="#ci" y="1427.3"/><use href="#ci" y="1314.5"/><use href="#ci" y="1338.9"/><use href="#ci" y="1305.3"/><use href="#ci" y="1351.1"/><use href="#ci" y="1357.2"/><use href="#ci" y="1212.3"/><use href="#ci" y="1399.9"/>
</g>
<g transform="translate(1278.4 0)">
<use href="#ci" y="1268.7"/><use href="#ci" y="1277.9"/><use href="#ci" y="1223.0"/><use href="#ci" y="1244.3"/><use href="#ci" y="1296.2"/><use href="#ci" y="1253.5"/><use href="#ci" y="1299.2"/><use href="#ci" y="1268.7"/><use href="#ci" y="1250.4"/><use href="#ci" y="1189.4"/><use href="#ci" y="1213.8"/><use href="#ci" y="1146.7"/><use href="#ci" y="1284.0"/><use href="#ci" y="1302.2"/><use href="#ci" y="1131.5"/><use href="#ci" y="1363.2"/><use href="#ci" y="1241.2"/><use href="#ci" y="1259.6"/><use href="#ci" y="1320.6"/><use href="#ci" y="1204.7"/><use href="#ci" y="1174.2"/><use href="#ci" y="1280.9"/><use href="#ci" y="1219.9"/><use href="#ci" y="1253.5"/><use href="#ci" y="1345.0"/><use href="#ci" y="1165.0"/><use href="#ci" y="1317.5"/><use href="#ci" y="1290.1"/><use href="#ci" y="1210.8"/><use href="#ci" y="1232.1"/><use href="#ci" y="1250.4"/><use href="#ci" y="1157.4"/><use href="#ci" y="1284.0"/><use href="#ci" y="1207.7"/><use href="#ci" y="1186.4"/><use href="#ci" y="1198.6"/><use href="#ci" y="1241.2"/><use href="#ci" y="1177.2"/><use href="#ci" y="1238.2"/><use href="#ci" y="1119.2"/><use href="#ci" y="1335.8"/><use href="#ci" y="1280.9"/><use href="#ci" y="1207.7"/><use href="#ci" y="1323.6"/><use href="#ci" y="1229.1"/><use href="#ci" y="1216.9"/><use href="#ci" y="1122.3"/><use href="#ci" y="1247.4"/><use href="#ci" y="1357.2"/><use href="#ci" y="1293.1"/><use href="#ci" y="1160.4"/><use href="#ci" y="1128.4"/><use href="#ci" y="1311.4"/><use href="#ci" y="1201.6"/><use href="#ci" y="1268.7"/><use href="#ci" y="1332.8"/><use href="#ci" y="1299.2"/><use href="#ci" y="1238.2"/><use href="#ci" y="1323.6"/><use href="#ci" y="1213.8"/><use href="#ci" y="1290.1"/><use href="#ci" y="1305.3"/><use href="#ci" y="1110.1"/><use href="#ci" y="1393.8"/><use href="#ci" y="1137.6"/><use href="#ci" y="1104.0"/><use href="#ci" y="1183.3"/><use href="#ci" y="1149.8"/><use href="#ci" y="1386.1"/><use href="#ci" y="1232.1"/><use href="#ci" y="1277.9"/><use href="#ci" y="1262.6"/><use href="#ci" y="1262.6"/><use href="#ci" y="1216.9"/><use href="#ci" y="1265.7"/><use href="#ci" y="1259.6"/><use href="#ci" y="1219.9"/><use href="#ci" y="1268.7"/><use href="#ci" y="1139.1"/><use href="#ci" y="1271.8"/><use href="#ci" y="1241.2"/><use href="#ci" y="1085.7"/><use href="#ci" y="1308.4"/><use href="#ci" y="1229.1"/><use href="#ci" y="1305.3"/><use href="#ci" y="1101.0"/><use href="#ci" y="1229.1"/><use href="#ci" y="1311.4"/><use href="#ci" y="1171.1"/><use href="#ci" y="1253.5"/><use href="#ci" y="1326.7"/><use href="#ci" y="1113.2"/><use href="#ci" y="1192.5"/><use href="#ci" y="1284.0"/><use href="#ci" y="1259.6"/><use href="#ci" y="1355.6"/>
</g>
<g transform="translate(1399.8 0)">
<use href="#ci" y="1162.0"/><use href="#ci" y="1125.0"/><use href="#ci" y="1287.0"/><use href="#ci" y="1075.3"/><use href="#ci" y="1148.2"/><use href="#ci" y="1206.2"/><use href="#ci" y="1209.2"/><use href="#ci" y="1271.8"/><use href="#ci" y="1212.3"/><use href="#ci" y="1094.2"/><use href="#ci" y="1060.7"/><use href="#ci" y="1161.0"/><use href="#ci" y="1151.3"/><use href="#ci" y="1130.5"/><use href="#ci" y="1149.8"/><use href="#ci" y="1172.9"/><use href="#ci" y="1197.6"/><use href="#ci" y="1229.1"/><use href="#ci" y="1126.9"/>
</g>
<g transform="translate(1521.2 0)">
<use href="#ci" y="1168.1"/>
</g>
</g>
<g fill="#44AA99" fill-opacity=".5" stroke="#000" stroke-opacity=".5" stroke-width="2.05" stroke-linejoin="round">
<g transform="translate(1187.4 0)">
<use href="#tu" y="1375.5"/><use href="#tu" y="1296.2"/><use href="#tu" y="1220.5"/><use href="#tu" y="1232.1"/><use href="#tu" y="1293.1"/><use href="#tu" y="1451.7"/><use href="#tu" y="1418.2"/><use href="#tu" y="1332.8"/><use href="#tu" y="1402.9"/><use href="#tu" y="1290.1"/><use href="#tu" y="1354.1"/><use href="#tu" y="1320.6"/><use href="#tu" y="1409.0"/><use href="#tu" y="1442.5"/><use href="#tu" y="1345.0"/><use href="#tu" y="1236.7"/><use href="#tu" y="1463.9"/><use href="#tu" y="1439.5"/><use href="#tu" y="1241.2"/><use href="#tu" y="1457.8"/><use href="#tu" y="1489.8"/><use href="#tu" y="1345.0"/><use href="#tu" y="1424.2"/><use href="#tu" y="1409.0"/><use href="#tu" y="1372.4"/><use href="#tu" y="1402.9"/><use href="#tu" y="1387.7"/><use href="#tu" y="1415.1"/><use href="#tu" y="1302.2"/><use href="#tu" y="1332.8"/><use href="#tu" y="1363.2"/><use href="#tu" y="1354.1"/><use href="#tu" y="1412.1"/><use href="#tu" y="1345.0"/><use href="#tu" y="1348.0"/><use href="#tu" y="1402.9"/><use href="#tu" y="1270.2"/><use href="#tu" y="1253.5"/><use href="#tu" y="1433.4"/><use href="#tu" y="1381.6"/><use href="#tu" y="1436.5"/><use href="#tu" y="1372.4"/><use href="#tu" y="1393.8"/><use href="#tu" y="1366.3"/><use href="#tu" y="1323.6"/><use href="#tu" y="1520.6"/><use href="#tu" y="1378.5"/><use href="#tu" y="1421.2"/><use href="#tu" y="1305.3"/><use href="#tu" y="1390.7"/><use href="#tu" y="1427.3"/><use href="#tu" y="1402.9"/><use href="#tu" y="1390.7"/><use href="#tu" y="1473.0"/><use href="#tu" y="1287.0"/><use href="#tu" y="1302.2"/><use href="#tu" y="1480.7"/><use href="#tu" y="1227.8"/><use href="#tu" y="1433.4"/><use href="#tu" y="1308.4"/><use href="#tu" y="1378.5"/><use href="#tu" y="1381.6"/><use href="#tu" y="1357.2"/><use href="#tu" y="1360.2"/><use href="#tu" y="1399.9"/><use href="#tu" y="1332.8"/><use href="#tu" y="1348.0"/><use href="#tu" y="1396.8"/><use href="#tu" y="1238.2"/><use href="#tu" y="1323.6"/><use href="#tu" y="1439.5"/><use href="#tu" y="1351.1"/><use href="#tu" y="1235.2"/><use href="#tu" y="1320.6"/><use href="#tu" y="1390.7"/><use href="#tu" y="1415.1"/><use href="#tu" y="1369.4"/><use href="#tu" y="1372.4"/><use href="#tu" y="1454.8"/><use href="#tu" y="1366.3"/><use href="#tu" y="1335.8"/><use href="#tu" y="1360.2"/><use href="#tu" y="1387.7"/><use href="#tu" y="1314.5"/><use href="#tu" y="1375.5"/><use href="#tu" y="1366.3"/><use href="#tu" y="1424.2"/><use href="#tu" y="1351.1"/><use href="#tu" y="1396.8"/><use href="#tu" y="1338.9"/><use href="#tu" y="1421.2"/><use href="#tu" y="1326.7"/><use href="#tu" y="1520.6"/><use href="#tu" y="1351.1"/><use href="#tu" y="1247.4"/><use href="#tu" y="1381.6"/><use href="#tu" y="1317.5"/><use href="#tu" y="1264.1"/><use href="#tu" y="1311.4"/><use href="#tu" y="1409.0"/><use href="#tu" y="1329.7"/><use href="#tu" y="1280.9"/><use href="#tu" y="1338.9"/><use href="#tu" y="1396.8"/><use href="#tu" y="1387.7"/><use href="#tu" y="1445.6"/><use href="#tu" y="1273.3"/><use href="#tu" y="1360.2"/>
</g>
<g transform="translate(1308.8 0)">
<use href="#tu" y="1284.0"/><use href="#tu" y="1357.2"/><use href="#tu" y="1271.8"/><use href="#tu" y="1262.6"/><use href="#tu" y="1326.7"/><use href="#tu" y="1149.1"/><use href="#tu" y="1280.9"/><use href="#tu" y="1329.7"/><use href="#tu" y="1296.2"/><use href="#tu" y="1113.2"/><use href="#tu" y="1110.1"/><use href="#tu" y="1262.6"/><use href="#tu" y="1326.7"/><use href="#tu" y="1209.2"/><use href="#tu" y="1338.9"/><use href="#tu" y="1338.9"/><use href="#tu" y="1427.3"/><use href="#tu" y="1293.1"/><use href="#tu" y="1305.3"/><use href="#tu" y="1374.2"/><use href="#tu" y="1290.1"/><use href="#tu" y="1457.8"/><use href="#tu" y="1293.1"/><use href="#tu" y="1274.8"/><use href="#tu" y="1308.4"/><use href="#tu" y="1238.2"/><use href="#tu" y="1308.4"/><use href="#tu" y="1223.0"/><use href="#tu" y="1410.5"/><use href="#tu" y="1277.9"/><use href="#tu" y="1302.2"/><use href="#tu" y="1253.5"/><use href="#tu" y="1317.5"/><use href="#tu" y="1287.0"/><use href="#tu" y="1366.3"/><use href="#tu" y="1351.1"/><use href="#tu" y="1250.4"/><use href="#tu" y="1348.0"/><use href="#tu" y="1360.2"/><use href="#tu" y="1302.2"/><use href="#tu" y="1317.5"/><use href="#tu" y="1268.7"/><use href="#tu" y="1216.9"/><use href="#tu" y="1250.4"/><use href="#tu" y="1410.5"/><use href="#tu" y="1256.5"/><use href="#tu" y="1332.8"/><use href="#tu" y="1232.1"/><use href="#tu" y="1320.6"/><use href="#tu" y="1274.8"/><use href="#tu" y="1238.2"/><use href="#tu" y="1268.7"/><use href="#tu" y="1229.1"/><use href="#tu" y="1320.6"/><use href="#tu" y="1284.0"/><use href="#tu" y="1280.9"/><use href="#tu" y="1290.1"/><use href="#tu" y="1326.7"/><use href="#tu" y="1241.2"/><use href="#tu" y="1094.9"/><use href="#tu" y="1244.3"/><use href="#tu" y="1311.4"/><use href="#tu" y="1202.5"/><use href="#tu" y="1262.6"/><use href="#tu" y="1149.1"/><use href="#tu" y="1341.9"/><use href="#tu" y="1302.2"/>
</g>
<g transform="translate(1430.2 0)">
<use href="#tu" y="1118.3"/><use href="#tu" y="1194.0"/><use href="#tu" y="1250.1"/><use href="#tu" y="1203.4"/><use href="#tu" y="1204.7"/><use href="#tu" y="1168.7"/><use href="#tu" y="1114.7"/><use href="#tu" y="1278.5"/><use href="#tu" y="1235.8"/><use href="#tu" y="1110.4"/><use href="#tu" y="1248.3"/><use href="#tu" y="1162.6"/><use href="#tu" y="1259.2"/>
</g>
<g transform="translate(1551.6 0)">
<use href="#tu" y="1097.9"/>
</g>
</g>
<path d="M1050.8 1474.9 L1056.9 1468.0 L1062.9 1461.2 L1069.0 1454.5 L1075.1 1447.9 L1081.1 1441.3 L1087.2 1434.8 L1093.3 1428.4 L1099.4 1422.1 L1105.4 1415.9 L1111.5 1409.7 L1117.6 1403.6 L1123.6 1397.6 L1129.7 1391.6 L1135.8 1385.8 L1141.8 1380.0 L1147.9 1374.2 L1154.0 1368.6 L1160.1 1363.0 L1166.1 1357.5 L1172.2 1352.0 L1178.3 1346.6 L1184.3 1341.3 L1190.4 1336.0 L1196.5 1330.9 L1202.5 1325.7 L1208.6 1320.7 L1214.7 1315.7 L1220.8 1310.7 L1226.8 1305.8 L1232.9 1301.0 L1239.0 1296.2 L1245.0 1291.5 L1251.1 1286.9 L1257.2 1282.3 L1263.2 1277.8 L1269.3 1273.3 L1275.4 1268.9 L1281.5 1264.5 L1287.5 1260.2 L1293.6 1255.9 L1299.7 1251.7 L1305.7 1247.5 L1311.8 1243.4 L1317.9 1239.4 L1324.0 1235.4 L1330.0 1231.4 L1336.1 1227.5 L1342.2 1223.6 L1348.2 1219.8 L1354.3 1216.0 L1360.4 1212.3 L1366.4 1208.6 L1372.5 1205.0 L1378.6 1201.4 L1384.7 1197.9 L1390.7 1194.4 L1396.8 1190.9 L1402.9 1187.5 L1408.9 1184.1 L1415.0 1180.8 L1421.1 1177.5 L1427.1 1174.2 L1433.2 1171.0 L1439.3 1167.8 L1445.3 1164.7 L1451.4 1161.6 L1457.5 1158.5 L1463.6 1155.5 L1469.6 1152.5 L1475.7 1149.6 L1481.8 1146.7 L1487.8 1143.8 L1493.9 1141.0 L1500.0 1138.2 L1506.0 1135.4 L1512.1 1132.6 L1518.2 1129.9 L1524.3 1127.3 L1530.3 1124.6 L1536.4 1122.0 L1542.5 1119.4 L1548.5 1116.9 L1554.6 1114.4 L1560.7 1111.9 L1566.8 1109.5 L1572.8 1107.0 L1578.9 1104.6 L1585.0 1102.3 L1591.0 1099.9 L1597.1 1097.6 L1603.2 1095.4 L1609.2 1093.1 L1615.3 1090.9 L1621.4 1088.7 L1627.4 1086.5 L1633.5 1084.4 L1639.6 1082.3 L1645.7 1080.2 L1651.7 1078.1 L1657.8 1076.1 L1663.9 1074.1 L1669.9 1072.1 L1676.0 1070.1 L1682.1 1068.2 L1688.2 1066.3 L1694.2 1064.4 L1700.3 1062.5 L1706.4 1060.6 L1712.4 1058.8 L1718.5 1057.0" fill="none" stroke="#CC6677" stroke-width="7.5" stroke-linejoin="round"/>
<path d="M1050.8 1476.5 L1056.9 1470.2 L1062.9 1464.0 L1069.0 1457.9 L1075.1 1451.8 L1081.1 1445.8 L1087.2 1439.9 L1093.3 1434.0 L1099.4 1428.2 L1105.4 1422.5 L1111.5 1416.8 L1117.6 1411.1 L1123.6 1405.6 L1129.7 1400.1 L1135.8 1394.6 L1141.8 1389.3 L1147.9 1383.9 L1154.0 1378.7 L1160.1 1373.5 L1166.1 1368.3 L1172.2 1363.2 L1178.3 1358.2 L1184.3 1353.2 L1190.4 1348.3 L1196.5 1343.4 L1202.5 1338.5 L1208.6 1333.8 L1214.7 1329.1 L1220.8 1324.4 L1226.8 1319.8 L1232.9 1315.2 L1239.0 1310.7 L1245.0 1306.2 L1251.1 1301.8 L1257.2 1297.4 L1263.2 1293.1 L1269.3 1288.8 L1275.4 1284.6 L1281.5 1280.4 L1287.5 1276.3 L1293.6 1272.2 L1299.7 1268.1 L1305.7 1264.1 L1311.8 1260.2 L1317.9 1256.2 L1324.0 1252.4 L1330.0 1248.5 L1336.1 1244.7 L1342.2 1241.0 L1348.2 1237.3 L1354.3 1233.6 L1360.4 1230.0 L1366.4 1226.4 L1372.5 1222.8 L1378.6 1219.3 L1384.7 1215.9 L1390.7 1212.4 L1396.8 1209.0 L1402.9 1205.7 L1408.9 1202.3 L1415.0 1199.1 L1421.1 1195.8 L1427.1 1192.6 L1433.2 1189.4 L1439.3 1186.3 L1445.3 1183.1 L1451.4 1180.1 L1457.5 1177.0 L1463.6 1174.0 L1469.6 1171.0 L1475.7 1168.1 L1481.8 1165.2 L1487.8 1162.3 L1493.9 1159.4 L1500.0 1156.6 L1506.0 1153.8 L1512.1 1151.1 L1518.2 1148.3 L1524.3 1145.6 L1530.3 1143.0 L1536.4 1140.3 L1542.5 1137.7 L1548.5 1135.1 L1554.6 1132.6 L1560.7 1130.0 L1566.8 1127.5 L1572.8 1125.1 L1578.9 1122.6 L1585.0 1120.2 L1591.0 1117.8 L1597.1 1115.4 L1603.2 1113.1 L1609.2 1110.8 L1615.3 1108.5 L1621.4 1106.2 L1627.4 1104.0 L1633.5 1101.8 L1639.6 1099.6 L1645.7 1097.4 L1651.7 1095.2 L1657.8 1093.1 L1663.9 1091.0 L1669.9 1088.9 L1676.0 1086.9 L1682.1 1084.9 L1688.2 1082.9 L1694.2 1080.9 L1700.3 1078.9 L1706.4 1077.0 L1712.4 1075.0 L1718.5 1073.1" fill="none" stroke="#44AA99" stroke-width="7.5" stroke-linejoin="round"/>
<path d="M1050.8 857.4 V1562.2 M1047.1 1558.5 H1718.5" stroke="#000" stroke-width="7.4" fill="none"/>
<path d="M1050.8 1558.5 v9.5 M1172.2 1558.5 v9.5 M1293.6 1558.5 v9.5 M1415.0 1558.5 v9.5 M1536.4 1558.5 v9.5 M1657.8 1558.5 v9.5 M1050.8 1558.5 h-9.5 M1050.8 1406.0 h-9.5 M1050.8 1253.5 h-9.5 M1050.8 1101.0 h-9.5 M1050.8 948.5 h-9.5" stroke="#333" stroke-width="3.4" fill="none"/>
<text transform="translate(1050.8 1606.5) scale(1.000 1.035)" font-size="42.0" text-anchor="middle">0</text>
<text transform="translate(1172.2 1606.5) scale(1.000 1.035)" font-size="42.0" text-anchor="middle">1</text>
<text transform="translate(1293.6 1606.5) scale(1.000 1.035)" font-size="42.0" text-anchor="middle">2</text>
<text transform="translate(1415.0 1606.5) scale(1.000 1.035)" font-size="42.0" text-anchor="middle">3</text>
<text transform="translate(1536.4 1606.5) scale(1.000 1.035)" font-size="42.0" text-anchor="middle">4</text>
<text transform="translate(1657.8 1606.5) scale(1.000 1.035)" font-size="42.0" text-anchor="middle">5</text>
<text transform="translate(1033.2 1573.8) scale(1.000 1.035)" font-size="42.0" text-anchor="end">150</text>
<text transform="translate(1033.2 1421.2) scale(1.000 1.035)" font-size="42.0" text-anchor="end">200</text>
<text transform="translate(1033.2 1268.8) scale(1.000 1.035)" font-size="42.0" text-anchor="end">250</text>
<text transform="translate(1033.2 1116.2) scale(1.000 1.035)" font-size="42.0" text-anchor="end">300</text>
<text transform="translate(1033.2 963.8) scale(1.000 1.035)" font-size="42.0" text-anchor="end">350</text>
<text transform="translate(883.2 867.9) scale(1.000 1.000)" font-size="44.5">D</text>
</g>
<g id="panelE">
<g fill="#CC6677" fill-opacity=".5" stroke="#000" stroke-opacity=".5" stroke-width="2.05" stroke-linejoin="round">
<g transform="translate(283.7 0)">
<use href="#ci" y="2057.7"/><use href="#ci" y="2198.0"/><use href="#ci" y="2228.5"/><use href="#ci" y="2088.2"/><use href="#ci" y="2231.5"/><use href="#ci" y="2274.2"/><use href="#ci" y="2130.9"/><use href="#ci" y="2002.8"/><use href="#ci" y="2069.9"/><use href="#ci" y="2280.3"/><use href="#ci" y="2210.2"/><use href="#ci" y="2210.2"/><use href="#ci" y="2265.1"/><use href="#ci" y="2262.0"/><use href="#ci" y="2225.4"/><use href="#ci" y="2045.5"/><use href="#ci" y="2146.1"/><use href="#ci" y="2094.3"/><use href="#ci" y="2031.8"/><use href="#ci" y="2124.8"/><use href="#ci" y="2216.3"/><use href="#ci" y="2173.6"/><use href="#ci" y="2185.8"/><use href="#ci" y="2268.1"/><use href="#ci" y="2140.0"/><use href="#ci" y="2316.9"/><use href="#ci" y="2161.4"/><use href="#ci" y="2201.0"/><use href="#ci" y="2143.1"/><use href="#ci" y="2176.6"/><use href="#ci" y="2112.6"/><use href="#ci" y="2158.3"/><use href="#ci" y="1990.6"/><use href="#ci" y="2265.1"/><use href="#ci" y="2179.7"/><use href="#ci" y="2179.7"/><use href="#ci" y="2091.2"/><use href="#ci" y="2222.4"/><use href="#ci" y="2231.5"/><use href="#ci" y="2109.5"/><use href="#ci" y="2173.6"/><use href="#ci" y="2198.0"/><use href="#ci" y="1964.7"/><use href="#ci" y="2167.5"/><use href="#ci" y="2188.8"/><use href="#ci" y="2100.4"/><use href="#ci" y="2204.1"/><use href="#ci" y="2109.5"/><use href="#ci" y="2039.4"/><use href="#ci" y="2185.8"/><use href="#ci" y="2240.7"/><use href="#ci" y="2079.0"/><use href="#ci" y="2118.7"/><use href="#ci" y="2207.1"/><use href="#ci" y="2318.5"/><use href="#ci" y="2094.3"/><use href="#ci" y="2130.9"/><use href="#ci" y="1969.9"/><use href="#ci" y="2127.8"/><use href="#ci" y="2213.2"/><use href="#ci" y="2222.4"/><use href="#ci" y="2060.8"/><use href="#ci" y="2143.1"/><use href="#ci" y="2234.6"/><use href="#ci" y="2146.1"/><use href="#ci" y="2152.2"/><use href="#ci" y="2219.3"/><use href="#ci" y="2152.2"/><use href="#ci" y="2100.4"/><use href="#ci" y="2216.3"/><use href="#ci" y="2118.7"/><use href="#ci" y="2127.8"/><use href="#ci" y="2152.2"/><use href="#ci" y="2191.9"/><use href="#ci" y="2115.6"/><use href="#ci" y="2176.6"/><use href="#ci" y="2249.8"/><use href="#ci" y="2167.5"/><use href="#ci" y="2158.3"/><use href="#ci" y="2085.1"/><use href="#ci" y="2146.1"/><use href="#ci" y="2091.2"/><use href="#ci" y="2252.9"/><use href="#ci" y="2234.6"/><use href="#ci" y="2161.4"/><use href="#ci" y="2182.8"/><use href="#ci" y="2066.8"/><use href="#ci" y="2124.8"/><use href="#ci" y="2161.4"/><use href="#ci" y="2164.4"/><use href="#ci" y="2072.9"/><use href="#ci" y="2188.8"/><use href="#ci" y="2170.5"/><use href="#ci" y="2185.8"/><use href="#ci" y="2106.5"/><use href="#ci" y="2097.3"/><use href="#ci" y="2063.8"/><use href="#ci" y="2255.9"/><use href="#ci" y="2240.7"/><use href="#ci" y="2109.5"/><use href="#ci" y="2294.1"/><use href="#ci" y="2085.1"/><use href="#ci" y="2130.9"/><use href="#ci" y="2191.9"/><use href="#ci" y="2246.8"/><use href="#ci" y="2219.3"/><use href="#ci" y="2164.4"/><use href="#ci" y="2137.0"/><use href="#ci" y="2048.5"/><use href="#ci" y="2060.8"/><use href="#ci" y="2115.6"/><use href="#ci" y="2115.6"/><use href="#ci" y="2127.8"/><use href="#ci" y="2054.6"/><use href="#ci" y="2327.6"/><use href="#ci" y="2167.5"/><use href="#ci" y="2133.9"/><use href="#ci" y="2140.0"/><use href="#ci" y="2194.9"/><use href="#ci" y="2103.4"/><use href="#ci" y="2210.2"/><use href="#ci" y="2155.3"/><use href="#ci" y="2146.1"/><use href="#ci" y="2194.9"/><use href="#ci" y="2079.0"/><use href="#ci" y="2173.6"/><use href="#ci" y="2008.9"/><use href="#ci" y="2161.4"/><use href="#ci" y="2137.0"/><use href="#ci" y="2249.8"/><use href="#ci" y="2243.8"/><use href="#ci" y="2201.0"/><use href="#ci" y="2121.8"/><use href="#ci" y="2079.0"/><use href="#ci" y="2207.1"/>
</g>
<g transform="translate(405.1 0)">
<use href="#ci" y="2018.0"/><use href="#ci" y="1978.4"/><use href="#ci" y="1932.6"/><use href="#ci" y="2021.1"/><use href="#ci" y="1885.4"/><use href="#ci" y="2079.0"/><use href="#ci" y="2088.2"/><use href="#ci" y="1891.5"/><use href="#ci" y="2011.9"/><use href="#ci" y="2018.0"/><use href="#ci" y="1999.7"/><use href="#ci" y="1984.5"/><use href="#ci" y="2088.2"/><use href="#ci" y="2018.0"/><use href="#ci" y="2042.4"/><use href="#ci" y="2079.0"/><use href="#ci" y="2178.2"/><use href="#ci" y="2027.2"/><use href="#ci" y="2094.3"/><use href="#ci" y="1963.1"/><use href="#ci" y="2036.3"/><use href="#ci" y="2008.9"/><use href="#ci" y="1925.0"/><use href="#ci" y="2063.8"/><use href="#ci" y="2033.3"/><use href="#ci" y="1978.4"/><use href="#ci" y="2103.4"/><use href="#ci" y="2127.8"/><use href="#ci" y="2137.0"/><use href="#ci" y="2240.7"/><use href="#ci" y="1993.6"/><use href="#ci" y="1894.5"/><use href="#ci" y="2066.8"/><use href="#ci" y="1999.7"/><use href="#ci" y="2027.2"/><use href="#ci" y="1846.3"/><use href="#ci" y="2008.9"/><use href="#ci" y="1990.6"/><use href="#ci" y="2111.1"/><use href="#ci" y="2085.1"/><use href="#ci" y="2048.5"/><use href="#ci" y="2054.6"/><use href="#ci" y="1954.0"/><use href="#ci" y="1861.0"/><use href="#ci" y="2048.5"/><use href="#ci" y="1911.3"/><use href="#ci" y="2057.7"/><use href="#ci" y="2133.9"/><use href="#ci" y="2027.2"/><use href="#ci" y="2216.3"/><use href="#ci" y="2072.9"/><use href="#ci" y="2069.9"/><use href="#ci" y="2191.9"/><use href="#ci" y="2097.3"/><use href="#ci" y="2036.3"/><use href="#ci" y="1862.5"/><use href="#ci" y="1972.3"/><use href="#ci" y="1859.4"/><use href="#ci" y="2146.1"/><use href="#ci" y="2015.0"/><use href="#ci" y="2005.8"/><use href="#ci" y="2140.0"/><use href="#ci" y="1960.1"/><use href="#ci" y="2143.1"/><use href="#ci" y="2005.8"/><use href="#ci" y="2042.4"/><use href="#ci" y="1783.2"/><use href="#ci" y="2002.8"/><use href="#ci" y="2091.2"/><use href="#ci" y="2051.6"/><use href="#ci" y="2033.3"/><use href="#ci" y="1993.6"/><use href="#ci" y="1990.6"/><use href="#ci" y="2152.2"/><use href="#ci" y="2149.2"/><use href="#ci" y="2143.1"/><use href="#ci" y="1987.5"/><use href="#ci" y="2054.6"/><use href="#ci" y="1944.8"/><use href="#ci" y="1946.4"/><use href="#ci" y="2130.9"/><use href="#ci" y="2057.7"/><use href="#ci" y="2158.3"/><use href="#ci" y="1981.4"/><use href="#ci" y="2027.2"/><use href="#ci" y="2045.5"/><use href="#ci" y="2072.9"/><use href="#ci" y="1966.2"/><use href="#ci" y="2030.2"/><use href="#ci" y="2039.4"/><use href="#ci" y="1966.2"/><use href="#ci" y="1935.7"/><use href="#ci" y="2063.8"/><use href="#ci" y="2063.8"/><use href="#ci" y="2051.6"/><use href="#ci" y="1882.3"/><use href="#ci" y="2158.3"/><use href="#ci" y="2024.1"/><use href="#ci" y="2121.8"/><use href="#ci" y="2015.0"/><use href="#ci" y="2204.1"/><use href="#ci" y="1975.3"/><use href="#ci" y="2002.8"/><use href="#ci" y="2137.0"/><use href="#ci" y="1947.9"/><use href="#ci" y="2048.5"/>
</g>
<g transform="translate(526.5 0)">
<use href="#ci" y="1896.0"/><use href="#ci" y="1842.7"/><use href="#ci" y="1908.2"/><use href="#ci" y="1825.9"/><use href="#ci" y="1795.4"/><use href="#ci" y="1845.7"/><use href="#ci" y="2176.6"/><use href="#ci" y="1893.0"/><use href="#ci" y="1714.6"/><use href="#ci" y="1926.5"/><use href="#ci" y="1914.3"/><use href="#ci" y="1905.2"/><use href="#ci" y="1879.3"/><use href="#ci" y="1796.9"/><use href="#ci" y="1793.9"/><use href="#ci" y="1920.4"/><use href="#ci" y="1932.6"/><use href="#ci" y="1853.3"/><use href="#ci" y="1812.2"/><use href="#ci" y="1966.2"/><use href="#ci" y="1856.4"/><use href="#ci" y="1969.2"/><use href="#ci" y="1827.4"/><use href="#ci" y="1934.2"/><use href="#ci" y="1955.5"/><use href="#ci" y="1996.7"/><use href="#ci" y="1909.8"/><use href="#ci" y="1950.9"/><use href="#ci" y="1929.6"/><use href="#ci" y="1848.8"/><use href="#ci" y="2005.8"/><use href="#ci" y="1806.1"/><use href="#ci" y="1874.7"/><use href="#ci" y="1854.9"/><use href="#ci" y="1906.7"/><use href="#ci" y="2001.3"/><use href="#ci" y="1967.7"/><use href="#ci" y="1833.5"/><use href="#ci" y="2063.8"/><use href="#ci" y="1816.8"/><use href="#ci" y="1989.1"/><use href="#ci" y="1935.7"/>
</g>
<g transform="translate(647.9 0)">
<use href="#ci" y="1902.1"/><use href="#ci" y="1804.5"/><use href="#ci" y="1784.7"/><use href="#ci" y="1786.2"/><use href="#ci" y="1917.4"/><use href="#ci" y="1832.6"/><use href="#ci" y="1859.4"/><use href="#ci" y="1879.3"/><use href="#ci" y="1801.5"/><use href="#ci" y="1771.9"/><use href="#ci" y="1948.5"/><use href="#ci" y="1783.2"/><use href="#ci" y="1749.6"/><use href="#ci" y="1899.1"/><use href="#ci" y="1798.4"/><use href="#ci" y="1817.7"/><use href="#ci" y="1871.0"/><use href="#ci" y="1882.3"/><use href="#ci" y="1862.5"/><use href="#ci" y="1762.8"/><use href="#ci" y="1838.7"/><use href="#ci" y="1879.3"/><use href="#ci" y="1876.2"/>
</g>
<g transform="translate(769.3 0)">
<use href="#ci" y="1764.9"/>
</g>
</g>
<g fill="#44AA99" fill-opacity=".5" stroke="#000" stroke-opacity=".5" stroke-width="2.05" stroke-linejoin="round">
<g transform="translate(314.1 0)">
<use href="#tu" y="2201.0"/><use href="#tu" y="2237.6"/><use href="#tu" y="2164.4"/><use href="#tu" y="2106.5"/><use href="#tu" y="2173.6"/><use href="#tu" y="2146.1"/><use href="#tu" y="2094.3"/><use href="#tu" y="2127.8"/><use href="#tu" y="2255.9"/><use href="#tu" y="2091.2"/><use href="#tu" y="2204.1"/><use href="#tu" y="2133.9"/><use href="#tu" y="2185.8"/><use href="#tu" y="2274.2"/><use href="#tu" y="2127.8"/><use href="#tu" y="2213.2"/><use href="#tu" y="2210.2"/><use href="#tu" y="2155.3"/><use href="#tu" y="2210.2"/><use href="#tu" y="2246.8"/><use href="#tu" y="2201.0"/><use href="#tu" y="2066.8"/><use href="#tu" y="2179.7"/><use href="#tu" y="2155.3"/><use href="#tu" y="2277.3"/><use href="#tu" y="2158.3"/><use href="#tu" y="2188.8"/><use href="#tu" y="2185.8"/><use href="#tu" y="2216.3"/><use href="#tu" y="2198.0"/><use href="#tu" y="2158.3"/><use href="#tu" y="2216.3"/><use href="#tu" y="2115.6"/><use href="#tu" y="2106.5"/><use href="#tu" y="2240.7"/><use href="#tu" y="2182.8"/><use href="#tu" y="2167.5"/><use href="#tu" y="2170.5"/><use href="#tu" y="2039.4"/><use href="#tu" y="2191.9"/><use href="#tu" y="2237.6"/><use href="#tu" y="2118.7"/><use href="#tu" y="2121.8"/><use href="#tu" y="2198.0"/><use href="#tu" y="2140.0"/><use href="#tu" y="2313.9"/><use href="#tu" y="2237.6"/><use href="#tu" y="2173.6"/><use href="#tu" y="2225.4"/><use href="#tu" y="2249.8"/><use href="#tu" y="2097.3"/><use href="#tu" y="2194.9"/><use href="#tu" y="2222.4"/><use href="#tu" y="2182.8"/><use href="#tu" y="2137.0"/><use href="#tu" y="2210.2"/><use href="#tu" y="2085.1"/><use href="#tu" y="2228.5"/><use href="#tu" y="2140.0"/><use href="#tu" y="2146.1"/><use href="#tu" y="2249.8"/><use href="#tu" y="2118.7"/><use href="#tu" y="2323.0"/><use href="#tu" y="2219.3"/><use href="#tu" y="2057.7"/><use href="#tu" y="2152.2"/><use href="#tu" y="2213.2"/><use href="#tu" y="2268.1"/><use href="#tu" y="2249.8"/><use href="#tu" y="2130.9"/><use href="#tu" y="2268.1"/><use href="#tu" y="2143.1"/><use href="#tu" y="2143.1"/><use href="#tu" y="2288.0"/><use href="#tu" y="2179.7"/><use href="#tu" y="2173.6"/><use href="#tu" y="2161.4"/><use href="#tu" y="2179.7"/><use href="#tu" y="2143.1"/><use href="#tu" y="2283.4"/><use href="#tu" y="2207.1"/><use href="#tu" y="2262.0"/><use href="#tu" y="2207.1"/><use href="#tu" y="2210.2"/><use href="#tu" y="2158.3"/><use href="#tu" y="2173.6"/><use href="#tu" y="2045.5"/><use href="#tu" y="2112.6"/><use href="#tu" y="2103.4"/><use href="#tu" y="2262.0"/><use href="#tu" y="2228.5"/><use href="#tu" y="2100.4"/><use href="#tu" y="2191.9"/><use href="#tu" y="2231.5"/><use href="#tu" y="2173.6"/><use href="#tu" y="2170.5"/><use href="#tu" y="2194.9"/><use href="#tu" y="2231.5"/><use href="#tu" y="2234.6"/><use href="#tu" y="2306.3"/><use href="#tu" y="2115.6"/><use href="#tu" y="2198.0"/><use href="#tu" y="2164.4"/><use href="#tu" y="2167.5"/><use href="#tu" y="2127.8"/><use href="#tu" y="2243.8"/><use href="#tu" y="2188.8"/><use href="#tu" y="2222.4"/><use href="#tu" y="2265.1"/><use href="#tu" y="2252.9"/><use href="#tu" y="2130.9"/><use href="#tu" y="2300.2"/><use href="#tu" y="2068.4"/><use href="#tu" y="2240.7"/><use href="#tu" y="2155.3"/><use href="#tu" y="2222.4"/><use href="#tu" y="2086.7"/><use href="#tu" y="2185.8"/><use href="#tu" y="2201.0"/><use href="#tu" y="2188.8"/><use href="#tu" y="2152.2"/><use href="#tu" y="2149.2"/>
</g>
<g transform="translate(435.5 0)">
<use href="#tu" y="2155.3"/><use href="#tu" y="2002.8"/><use href="#tu" y="2161.4"/><use href="#tu" y="2088.2"/><use href="#tu" y="1903.7"/><use href="#tu" y="2054.6"/><use href="#tu" y="2033.3"/><use href="#tu" y="2115.6"/><use href="#tu" y="1977.2"/><use href="#tu" y="1996.7"/><use href="#tu" y="2094.3"/><use href="#tu" y="1911.9"/><use href="#tu" y="2063.8"/><use href="#tu" y="2076.0"/><use href="#tu" y="1928.1"/><use href="#tu" y="2039.4"/><use href="#tu" y="2127.8"/><use href="#tu" y="2005.8"/><use href="#tu" y="2082.1"/><use href="#tu" y="1945.8"/><use href="#tu" y="2106.5"/><use href="#tu" y="2133.9"/><use href="#tu" y="2033.3"/><use href="#tu" y="1978.4"/><use href="#tu" y="1920.4"/><use href="#tu" y="2048.5"/><use href="#tu" y="2024.1"/><use href="#tu" y="2088.2"/><use href="#tu" y="2246.8"/><use href="#tu" y="2088.2"/><use href="#tu" y="2146.1"/><use href="#tu" y="2097.3"/><use href="#tu" y="2143.1"/><use href="#tu" y="2124.8"/><use href="#tu" y="2094.3"/><use href="#tu" y="2072.9"/><use href="#tu" y="2118.7"/><use href="#tu" y="2069.9"/><use href="#tu" y="2112.6"/><use href="#tu" y="2057.7"/><use href="#tu" y="1931.1"/><use href="#tu" y="2106.5"/><use href="#tu" y="2030.2"/><use href="#tu" y="2054.6"/><use href="#tu" y="2124.8"/><use href="#tu" y="2140.0"/><use href="#tu" y="2045.5"/><use href="#tu" y="2054.6"/><use href="#tu" y="2048.5"/><use href="#tu" y="2130.9"/><use href="#tu" y="2164.4"/><use href="#tu" y="2036.3"/><use href="#tu" y="2045.5"/><use href="#tu" y="2225.4"/><use href="#tu" y="2112.6"/><use href="#tu" y="2094.3"/><use href="#tu" y="2079.0"/><use href="#tu" y="2127.8"/><use href="#tu" y="2103.4"/><use href="#tu" y="2085.1"/><use href="#tu" y="2021.1"/><use href="#tu" y="1979.9"/><use href="#tu" y="2082.1"/><use href="#tu" y="2109.5"/><use href="#tu" y="2210.2"/><use href="#tu" y="2076.0"/><use href="#tu" y="2063.8"/><use href="#tu" y="2076.0"/><use href="#tu" y="2082.1"/><use href="#tu" y="2015.0"/><use href="#tu" y="2057.7"/><use href="#tu" y="2118.7"/><use href="#tu" y="2211.7"/><use href="#tu" y="2109.5"/><use href="#tu" y="2088.2"/><use href="#tu" y="2045.5"/><use href="#tu" y="2030.2"/><use href="#tu" y="2118.7"/><use href="#tu" y="2149.2"/><use href="#tu" y="2024.1"/><use href="#tu" y="1929.6"/><use href="#tu" y="2042.4"/><use href="#tu" y="2100.4"/><use href="#tu" y="2060.8"/><use href="#tu" y="2018.0"/><use href="#tu" y="2063.8"/><use href="#tu" y="2069.9"/><use href="#tu" y="2097.3"/><use href="#tu" y="2069.9"/><use href="#tu" y="2152.2"/><use href="#tu" y="2008.9"/><use href="#tu" y="2140.0"/><use href="#tu" y="2133.9"/><use href="#tu" y="2094.3"/>
</g>
<g transform="translate(556.9 0)">
<use href="#tu" y="2005.8"/><use href="#tu" y="1987.5"/><use href="#tu" y="1944.8"/><use href="#tu" y="1918.9"/><use href="#tu" y="1996.7"/><use href="#tu" y="2027.2"/><use href="#tu" y="1960.1"/><use href="#tu" y="2002.8"/><use href="#tu" y="2002.8"/><use href="#tu" y="2021.1"/><use href="#tu" y="2085.1"/><use href="#tu" y="1917.4"/><use href="#tu" y="2011.9"/><use href="#tu" y="1972.3"/><use href="#tu" y="1963.1"/><use href="#tu" y="1954.0"/><use href="#tu" y="1990.6"/><use href="#tu" y="1905.2"/><use href="#tu" y="2074.2"/><use href="#tu" y="1984.5"/><use href="#tu" y="1911.3"/><use href="#tu" y="1969.2"/><use href="#tu" y="2030.2"/><use href="#tu" y="1807.3"/><use href="#tu" y="2074.2"/><use href="#tu" y="2027.2"/><use href="#tu" y="1978.4"/><use href="#tu" y="1836.6"/><use href="#tu" y="1860.4"/><use href="#tu" y="1960.1"/><use href="#tu" y="1975.3"/><use href="#tu" y="2018.0"/><use href="#tu" y="1957.0"/><use href="#tu" y="2036.3"/><use href="#tu" y="2008.9"/><use href="#tu" y="1996.7"/><use href="#tu" y="1920.4"/><use href="#tu" y="1978.4"/><use href="#tu" y="1972.3"/><use href="#tu" y="1987.5"/><use href="#tu" y="1855.5"/><use href="#tu" y="2042.4"/><use href="#tu" y="2021.1"/><use href="#tu" y="1981.4"/><use href="#tu" y="2039.4"/><use href="#tu" y="1996.7"/><use href="#tu" y="2011.9"/><use href="#tu" y="2015.0"/><use href="#tu" y="1941.8"/><use href="#tu" y="1990.6"/>
</g>
<g transform="translate(678.3 0)">
<use href="#tu" y="1951.9"/><use href="#tu" y="1965.9"/><use href="#tu" y="1888.7"/><use href="#tu" y="1790.2"/><use href="#tu" y="1875.0"/><use href="#tu" y="1951.9"/><use href="#tu" y="1895.1"/><use href="#tu" y="1919.8"/><use href="#tu" y="1905.8"/><use href="#tu" y="1810.6"/><use href="#tu" y="1905.8"/><use href="#tu" y="1932.6"/><use href="#tu" y="1953.1"/><use href="#tu" y="2024.8"/>
</g>
<g transform="translate(799.7 0)">
<use href="#tu" y="1881.4"/><use href="#tu" y="1851.2"/><use href="#tu" y="1927.5"/><use href="#tu" y="1875.0"/>
</g>
</g>
<path d="M177.5 2317.8 L183.6 2308.3 L189.6 2299.0 L195.7 2289.8 L201.8 2280.6 L207.8 2271.6 L213.9 2262.7 L220.0 2253.9 L226.1 2245.2 L232.1 2236.6 L238.2 2228.1 L244.3 2219.8 L250.3 2211.5 L256.4 2203.3 L262.5 2195.2 L268.6 2187.2 L274.6 2179.2 L280.7 2171.4 L286.8 2163.7 L292.8 2156.1 L298.9 2148.5 L305.0 2141.1 L311.0 2133.7 L317.1 2126.4 L323.2 2119.2 L329.2 2112.1 L335.3 2105.1 L341.4 2098.2 L347.5 2091.3 L353.5 2084.5 L359.6 2077.8 L365.7 2071.2 L371.7 2064.6 L377.8 2058.2 L383.9 2051.8 L390.0 2045.5 L396.0 2039.2 L402.1 2033.1 L408.2 2027.0 L414.2 2020.9 L420.3 2015.0 L426.4 2009.1 L432.4 2003.3 L438.5 1997.6 L444.6 1991.9 L450.7 1986.3 L456.7 1980.7 L462.8 1975.2 L468.9 1969.8 L474.9 1964.5 L481.0 1959.2 L487.1 1954.0 L493.1 1948.8 L499.2 1943.7 L505.3 1938.7 L511.4 1933.7 L517.4 1928.8 L523.5 1923.9 L529.6 1919.1 L535.6 1914.3 L541.7 1909.6 L547.8 1905.0 L553.8 1900.4 L559.9 1895.9 L566.0 1891.4 L572.0 1887.0 L578.1 1882.6 L584.2 1878.3 L590.3 1874.0 L596.3 1869.8 L602.4 1865.6 L608.5 1861.5 L614.5 1857.4 L620.6 1853.4 L626.7 1849.4 L632.8 1845.5 L638.8 1841.6 L644.9 1837.7 L651.0 1834.0 L657.0 1830.2 L663.1 1826.5 L669.2 1822.8 L675.2 1819.2 L681.3 1815.6 L687.4 1812.1 L693.5 1808.6 L699.5 1805.2 L705.6 1801.8 L711.7 1798.4 L717.7 1795.1 L723.8 1791.8 L729.9 1788.5 L735.9 1785.3 L742.0 1782.1 L748.1 1779.0 L754.1 1775.9 L760.2 1772.8 L766.3 1769.8 L772.4 1766.8 L778.4 1763.8 L784.5 1760.9 L790.6 1758.0 L796.6 1755.2 L802.7 1752.3 L808.8 1749.6 L814.9 1746.8 L820.9 1744.1 L827.0 1741.4 L833.1 1738.7 L839.1 1736.1 L845.2 1733.5" fill="none" stroke="#CC6677" stroke-width="7.5" stroke-linejoin="round"/>
<path d="M177.5 2294.3 L183.6 2287.6 L189.6 2281.1 L195.7 2274.6 L201.8 2268.1 L207.8 2261.7 L213.9 2255.4 L220.0 2249.1 L226.1 2242.9 L232.1 2236.7 L238.2 2230.6 L244.3 2224.6 L250.3 2218.6 L256.4 2212.6 L262.5 2206.8 L268.6 2200.9 L274.6 2195.1 L280.7 2189.4 L286.8 2183.7 L292.8 2178.1 L298.9 2172.5 L305.0 2167.0 L311.0 2161.5 L317.1 2156.1 L323.2 2150.7 L329.2 2145.4 L335.3 2140.1 L341.4 2134.9 L347.5 2129.7 L353.5 2124.5 L359.6 2119.4 L365.7 2114.4 L371.7 2109.4 L377.8 2104.4 L383.9 2099.5 L390.0 2094.6 L396.0 2089.8 L402.1 2085.0 L408.2 2080.3 L414.2 2075.6 L420.3 2070.9 L426.4 2066.3 L432.4 2061.8 L438.5 2057.2 L444.6 2052.7 L450.7 2048.3 L456.7 2043.9 L462.8 2039.5 L468.9 2035.2 L474.9 2030.9 L481.0 2026.6 L487.1 2022.4 L493.1 2018.3 L499.2 2014.1 L505.3 2010.0 L511.4 2006.0 L517.4 2001.9 L523.5 1997.9 L529.6 1994.0 L535.6 1990.1 L541.7 1986.2 L547.8 1982.3 L553.8 1978.5 L559.9 1974.7 L566.0 1971.0 L572.0 1967.3 L578.1 1963.6 L584.2 1960.0 L590.3 1956.3 L596.3 1952.8 L602.4 1949.2 L608.5 1945.7 L614.5 1942.2 L620.6 1938.8 L626.7 1935.3 L632.8 1932.0 L638.8 1928.6 L644.9 1925.3 L651.0 1922.0 L657.0 1918.7 L663.1 1915.5 L669.2 1912.2 L675.2 1909.1 L681.3 1905.9 L687.4 1902.8 L693.5 1899.7 L699.5 1896.6 L705.6 1893.6 L711.7 1890.6 L717.7 1887.6 L723.8 1884.6 L729.9 1881.7 L735.9 1878.8 L742.0 1875.9 L748.1 1873.0 L754.1 1870.2 L760.2 1867.4 L766.3 1864.6 L772.4 1861.9 L778.4 1859.1 L784.5 1856.4 L790.6 1853.8 L796.6 1851.1 L802.7 1848.5 L808.8 1845.9 L814.9 1843.3 L820.9 1840.7 L827.0 1838.2 L833.1 1835.7 L839.1 1833.2 L845.2 1830.7" fill="none" stroke="#44AA99" stroke-width="7.5" stroke-linejoin="round"/>
<path d="M177.5 1692.1 V2396.9 M173.8 2393.2 H845.2" stroke="#000" stroke-width="7.4" fill="none"/>
<path d="M177.5 2393.2 v9.5 M298.9 2393.2 v9.5 M420.3 2393.2 v9.5 M541.7 2393.2 v9.5 M663.1 2393.2 v9.5 M784.5 2393.2 v9.5 M177.5 2393.2 h-9.5 M177.5 2240.7 h-9.5 M177.5 2088.2 h-9.5 M177.5 1935.7 h-9.5 M177.5 1783.2 h-9.5" stroke="#333" stroke-width="3.4" fill="none"/>
<text transform="translate(177.5 2441.2) scale(1.000 1.035)" font-size="42.0" text-anchor="middle">0</text>
<text transform="translate(298.9 2441.2) scale(1.000 1.035)" font-size="42.0" text-anchor="middle">1</text>
<text transform="translate(420.3 2441.2) scale(1.000 1.035)" font-size="42.0" text-anchor="middle">2</text>
<text transform="translate(541.7 2441.2) scale(1.000 1.035)" font-size="42.0" text-anchor="middle">3</text>
<text transform="translate(663.1 2441.2) scale(1.000 1.035)" font-size="42.0" text-anchor="middle">4</text>
<text transform="translate(784.5 2441.2) scale(1.000 1.035)" font-size="42.0" text-anchor="middle">5</text>
<text transform="translate(159.9 2408.5) scale(1.000 1.035)" font-size="42.0" text-anchor="end">150</text>
<text transform="translate(159.9 2256.0) scale(1.000 1.035)" font-size="42.0" text-anchor="end">200</text>
<text transform="translate(159.9 2103.5) scale(1.000 1.035)" font-size="42.0" text-anchor="end">250</text>
<text transform="translate(159.9 1951.0) scale(1.000 1.035)" font-size="42.0" text-anchor="end">300</text>
<text transform="translate(159.9 1798.5) scale(1.000 1.035)" font-size="42.0" text-anchor="end">350</text>
<text transform="translate(1.7 1702.6) scale(1.000 1.000)" font-size="44.5">E</text>
<text transform="translate(63.4 2042.4) rotate(-90) scale(1.012 1.000)" font-size="42.0" text-anchor="middle">L<tspan font-size="29.4" dy="6.5">t</tspan><tspan dy="-6.5"> (mm)</tspan></text>
<text transform="translate(511.4 2488.3) scale(1.012 1.000)" font-size="42.0" text-anchor="middle">Age (years)</text>
</g>
<g id="panelF">
<g fill="#CC6677" fill-opacity=".5" stroke="#000" stroke-opacity=".5" stroke-width="2.05" stroke-linejoin="round">
<g transform="translate(1157.0 0)">
<use href="#ci" y="2219.3"/><use href="#ci" y="2091.2"/><use href="#ci" y="2327.6"/><use href="#ci" y="2185.8"/><use href="#ci" y="2057.7"/><use href="#ci" y="2283.4"/><use href="#ci" y="2015.0"/><use href="#ci" y="2216.3"/><use href="#ci" y="2255.9"/><use href="#ci" y="2161.4"/><use href="#ci" y="2176.6"/><use href="#ci" y="2109.5"/><use href="#ci" y="1998.2"/><use href="#ci" y="2115.6"/><use href="#ci" y="2124.8"/><use href="#ci" y="1964.7"/><use href="#ci" y="2118.7"/><use href="#ci" y="2182.8"/><use href="#ci" y="2207.1"/><use href="#ci" y="2204.1"/><use href="#ci" y="2137.0"/><use href="#ci" y="2210.2"/><use href="#ci" y="2124.8"/><use href="#ci" y="2289.5"/><use href="#ci" y="1990.6"/><use href="#ci" y="2109.5"/><use href="#ci" y="2185.8"/><use href="#ci" y="1969.9"/><use href="#ci" y="2088.2"/><use href="#ci" y="2146.1"/><use href="#ci" y="2191.9"/><use href="#ci" y="2204.1"/><use href="#ci" y="2167.5"/><use href="#ci" y="2106.5"/><use href="#ci" y="2225.4"/><use href="#ci" y="2210.2"/><use href="#ci" y="2158.3"/><use href="#ci" y="2137.0"/><use href="#ci" y="2152.2"/><use href="#ci" y="2079.0"/><use href="#ci" y="2173.6"/><use href="#ci" y="2182.8"/><use href="#ci" y="2198.0"/><use href="#ci" y="2133.9"/><use href="#ci" y="2219.3"/><use href="#ci" y="2121.8"/><use href="#ci" y="2246.8"/><use href="#ci" y="2198.0"/><use href="#ci" y="2130.9"/><use href="#ci" y="2216.3"/><use href="#ci" y="2246.8"/><use href="#ci" y="2115.6"/><use href="#ci" y="2243.8"/><use href="#ci" y="2188.8"/><use href="#ci" y="2085.1"/><use href="#ci" y="2222.4"/><use href="#ci" y="2164.4"/><use href="#ci" y="2265.1"/><use href="#ci" y="2100.4"/><use href="#ci" y="2152.2"/><use href="#ci" y="2249.8"/><use href="#ci" y="2079.0"/><use href="#ci" y="2053.1"/><use href="#ci" y="2127.8"/><use href="#ci" y="2002.8"/><use href="#ci" y="2234.6"/><use href="#ci" y="2255.9"/><use href="#ci" y="2167.5"/><use href="#ci" y="2106.5"/><use href="#ci" y="2161.4"/><use href="#ci" y="2219.3"/><use href="#ci" y="2127.8"/><use href="#ci" y="2008.9"/><use href="#ci" y="2011.9"/><use href="#ci" y="2198.0"/><use href="#ci" y="2252.9"/><use href="#ci" y="2249.8"/><use href="#ci" y="2301.7"/><use href="#ci" y="2152.2"/><use href="#ci" y="2240.7"/><use href="#ci" y="2047.0"/><use href="#ci" y="2005.8"/><use href="#ci" y="2048.5"/><use href="#ci" y="2185.8"/><use href="#ci" y="2069.9"/><use href="#ci" y="2121.8"/><use href="#ci" y="2271.2"/><use href="#ci" y="2191.9"/><use href="#ci" y="2228.5"/><use href="#ci" y="2179.7"/><use href="#ci" y="2231.5"/><use href="#ci" y="2234.6"/><use href="#ci" y="2109.5"/><use href="#ci" y="2268.1"/><use href="#ci" y="2170.5"/><use href="#ci" y="2318.5"/><use href="#ci" y="2231.5"/><use href="#ci" y="2124.8"/><use href="#ci" y="2143.1"/><use href="#ci" y="2002.8"/><use href="#ci" y="2191.9"/><use href="#ci" y="2286.4"/><use href="#ci" y="2060.8"/><use href="#ci" y="2115.6"/><use href="#ci" y="2112.6"/><use href="#ci" y="2079.0"/><use href="#ci" y="2231.5"/><use href="#ci" y="2094.3"/><use href="#ci" y="2188.8"/><use href="#ci" y="2161.4"/><use href="#ci" y="2143.1"/><use href="#ci" y="2234.6"/><use href="#ci" y="2179.7"/><use href="#ci" y="2268.1"/><use href="#ci" y="2259.0"/><use href="#ci" y="2143.1"/><use href="#ci" y="2194.9"/><use href="#ci" y="2207.1"/><use href="#ci" y="2063.8"/><use href="#ci" y="2292.5"/><use href="#ci" y="2213.2"/><use href="#ci" y="2240.7"/><use href="#ci" y="2085.1"/><use href="#ci" y="2352.0"/><use href="#ci" y="2152.2"/><use href="#ci" y="2173.6"/><use href="#ci" y="2201.0"/><use href="#ci" y="2164.4"/><use href="#ci" y="2143.1"/><use href="#ci" y="2246.8"/><use href="#ci" y="2037.9"/><use href="#ci" y="2194.9"/><use href="#ci" y="2140.0"/><use href="#ci" y="2185.8"/><use href="#ci" y="2030.2"/><use href="#ci" y="2155.3"/><use href="#ci" y="2222.4"/><use href="#ci" y="2094.3"/><use href="#ci" y="2316.9"/><use href="#ci" y="2185.8"/><use href="#ci" y="2185.8"/><use href="#ci" y="2152.2"/><use href="#ci" y="2100.4"/><use href="#ci" y="2167.5"/><use href="#ci" y="2188.8"/><use href="#ci" y="2204.1"/><use href="#ci" y="2161.4"/><use href="#ci" y="2207.1"/><use href="#ci" y="2146.1"/><use href="#ci" y="2204.1"/><use href="#ci" y="2054.6"/><use href="#ci" y="2234.6"/><use href="#ci" y="2210.2"/><use href="#ci" y="2127.8"/><use href="#ci" y="2118.7"/><use href="#ci" y="2161.4"/><use href="#ci" y="2072.9"/><use href="#ci" y="2176.6"/><use href="#ci" y="2158.3"/><use href="#ci" y="2210.2"/><use href="#ci" y="2118.7"/><use href="#ci" y="2173.6"/><use href="#ci" y="2164.4"/><use href="#ci" y="2219.3"/><use href="#ci" y="2115.6"/><use href="#ci" y="2158.3"/><use href="#ci" y="2198.0"/><use href="#ci" y="2249.8"/><use href="#ci" y="2170.5"/><use href="#ci" y="2262.0"/><use href="#ci" y="2176.6"/><use href="#ci" y="2283.4"/><use href="#ci" y="2155.3"/><use href="#ci" y="2130.9"/><use href="#ci" y="2198.0"/><use href="#ci" y="2146.1"/><use href="#ci" y="2274.2"/><use href="#ci" y="2294.1"/><use href="#ci" y="2298.6"/><use href="#ci" y="2146.1"/><use href="#ci" y="2127.8"/><use href="#ci" y="2080.6"/><use href="#ci" y="2332.2"/><use href="#ci" y="2243.8"/><use href="#ci" y="2194.9"/><use href="#ci" y="2240.7"/><use href="#ci" y="2194.9"/><use href="#ci" y="2130.9"/><use href="#ci" y="2207.1"/><use href="#ci" y="2092.8"/><use href="#ci" y="2271.2"/><use href="#ci" y="2068.4"/><use href="#ci" y="2222.4"/><use href="#ci" y="2100.4"/><use href="#ci" y="2164.4"/><use href="#ci" y="2237.6"/><use href="#ci" y="2225.4"/><use href="#ci" y="2201.0"/><use href="#ci" y="2243.8"/><use href="#ci" y="2216.3"/><use href="#ci" y="2234.6"/><use href="#ci" y="2179.7"/><use href="#ci" y="2191.9"/><use href="#ci" y="2137.0"/><use href="#ci" y="2161.4"/><use href="#ci" y="2103.4"/><use href="#ci" y="2170.5"/><use href="#ci" y="2167.5"/><use href="#ci" y="2262.0"/><use href="#ci" y="2213.2"/><use href="#ci" y="2060.8"/><use href="#ci" y="2066.8"/><use href="#ci" y="2308.4"/><use href="#ci" y="2112.6"/><use href="#ci" y="2201.0"/><use href="#ci" y="2228.5"/><use href="#ci" y="2031.8"/><use href="#ci" y="2252.9"/><use href="#ci" y="2344.4"/><use href="#ci" y="2149.2"/><use href="#ci" y="2265.1"/><use href="#ci" y="2173.6"/><use href="#ci" y="2173.6"/><use href="#ci" y="2347.4"/><use href="#ci" y="2240.7"/><use href="#ci" y="2076.0"/><use href="#ci" y="2045.5"/><use href="#ci" y="2060.8"/><use href="#ci" y="2133.9"/><use href="#ci" y="1999.7"/><use href="#ci" y="2213.2"/><use href="#ci" y="2234.6"/><use href="#ci" y="2109.5"/><use href="#ci" y="2252.9"/><use href="#ci" y="2222.4"/><use href="#ci" y="2262.0"/><use href="#ci" y="2008.9"/><use href="#ci" y="2255.9"/><use href="#ci" y="2140.0"/><use href="#ci" y="2140.0"/><use href="#ci" y="2179.7"/><use href="#ci" y="2210.2"/><use href="#ci" y="2039.4"/><use href="#ci" y="2225.4"/><use href="#ci" y="2219.3"/><use href="#ci" y="2222.4"/><use href="#ci" y="2130.9"/><use href="#ci" y="2188.8"/><use href="#ci" y="2280.3"/><use href="#ci" y="2001.3"/><use href="#ci" y="2140.0"/><use href="#ci" y="1996.7"/><use href="#ci" y="2149.2"/><use href="#ci" y="2167.5"/><use href="#ci" y="2155.3"/><use href="#ci" y="2274.2"/><use href="#ci" y="2277.3"/><use href="#ci" y="2130.9"/><use href="#ci" y="2146.1"/><use href="#ci" y="2097.3"/><use href="#ci" y="2265.1"/><use href="#ci" y="2173.6"/><use href="#ci" y="2179.7"/><use href="#ci" y="2091.2"/><use href="#ci" y="2207.1"/><use href="#ci" y="2246.8"/><use href="#ci" y="2231.5"/><use href="#ci" y="2137.0"/><use href="#ci" y="2191.9"/><use href="#ci" y="2213.2"/><use href="#ci" y="2176.6"/><use href="#ci" y="2182.8"/><use href="#ci" y="2277.3"/>
</g>
<g transform="translate(1278.4 0)">
<use href="#ci" y="2146.1"/><use href="#ci" y="2042.4"/><use href="#ci" y="1946.4"/><use href="#ci" y="1935.7"/><use href="#ci" y="2097.3"/><use href="#ci" y="1944.8"/><use href="#ci" y="2140.0"/><use href="#ci" y="1995.2"/><use href="#ci" y="2072.9"/><use href="#ci" y="1972.3"/><use href="#ci" y="2033.3"/><use href="#ci" y="2103.4"/><use href="#ci" y="2011.9"/><use href="#ci" y="2005.8"/><use href="#ci" y="2021.1"/><use href="#ci" y="2111.1"/><use href="#ci" y="2088.2"/><use href="#ci" y="1944.8"/><use href="#ci" y="2072.9"/><use href="#ci" y="2045.5"/><use href="#ci" y="2146.1"/><use href="#ci" y="2072.9"/><use href="#ci" y="1891.5"/><use href="#ci" y="2088.2"/><use href="#ci" y="2094.3"/><use href="#ci" y="1859.4"/><use href="#ci" y="2051.6"/><use href="#ci" y="1954.0"/><use href="#ci" y="2115.6"/><use href="#ci" y="1920.4"/><use href="#ci" y="2057.7"/><use href="#ci" y="2005.8"/><use href="#ci" y="1957.0"/><use href="#ci" y="2024.1"/><use href="#ci" y="2094.3"/><use href="#ci" y="2008.9"/><use href="#ci" y="2161.4"/><use href="#ci" y="2051.6"/><use href="#ci" y="2191.9"/><use href="#ci" y="2066.8"/><use href="#ci" y="2191.9"/><use href="#ci" y="2158.3"/><use href="#ci" y="2018.0"/><use href="#ci" y="2088.2"/><use href="#ci" y="1862.5"/><use href="#ci" y="1993.6"/><use href="#ci" y="2137.0"/><use href="#ci" y="1935.7"/><use href="#ci" y="1966.2"/><use href="#ci" y="2039.4"/><use href="#ci" y="1999.7"/><use href="#ci" y="1973.8"/><use href="#ci" y="1960.1"/><use href="#ci" y="2137.0"/><use href="#ci" y="2155.3"/><use href="#ci" y="1984.5"/><use href="#ci" y="2079.0"/><use href="#ci" y="1993.6"/><use href="#ci" y="1885.4"/><use href="#ci" y="2085.1"/><use href="#ci" y="2140.0"/><use href="#ci" y="1925.0"/><use href="#ci" y="2130.9"/><use href="#ci" y="2103.4"/><use href="#ci" y="2048.5"/><use href="#ci" y="2033.3"/><use href="#ci" y="2143.1"/><use href="#ci" y="2048.5"/><use href="#ci" y="1978.4"/><use href="#ci" y="1938.7"/><use href="#ci" y="2133.9"/><use href="#ci" y="2085.1"/><use href="#ci" y="2112.6"/><use href="#ci" y="1911.3"/><use href="#ci" y="2121.8"/><use href="#ci" y="1981.4"/><use href="#ci" y="2198.0"/><use href="#ci" y="2030.2"/><use href="#ci" y="1963.1"/><use href="#ci" y="2082.1"/><use href="#ci" y="2063.8"/><use href="#ci" y="2018.0"/><use href="#ci" y="2170.5"/><use href="#ci" y="2152.2"/><use href="#ci" y="2048.5"/><use href="#ci" y="1963.1"/><use href="#ci" y="2042.4"/><use href="#ci" y="2137.0"/><use href="#ci" y="2063.8"/><use href="#ci" y="1932.6"/><use href="#ci" y="2158.3"/><use href="#ci" y="2152.2"/><use href="#ci" y="2124.8"/><use href="#ci" y="2051.6"/><use href="#ci" y="1999.7"/><use href="#ci" y="2133.9"/><use href="#ci" y="2063.8"/><use href="#ci" y="2220.9"/><use href="#ci" y="2091.2"/><use href="#ci" y="1990.6"/><use href="#ci" y="2190.4"/><use href="#ci" y="2018.0"/><use href="#ci" y="2015.0"/><use href="#ci" y="2033.3"/><use href="#ci" y="2097.3"/><use href="#ci" y="2048.5"/><use href="#ci" y="1981.4"/><use href="#ci" y="2002.8"/><use href="#ci" y="2076.0"/><use href="#ci" y="2076.0"/><use href="#ci" y="1966.2"/><use href="#ci" y="2008.9"/><use href="#ci" y="2118.7"/><use href="#ci" y="1972.3"/><use href="#ci" y="2054.6"/><use href="#ci" y="2069.9"/><use href="#ci" y="2051.6"/><use href="#ci" y="2178.2"/><use href="#ci" y="2054.6"/><use href="#ci" y="1966.2"/><use href="#ci" y="2115.6"/><use href="#ci" y="2127.8"/><use href="#ci" y="2118.7"/><use href="#ci" y="2008.9"/><use href="#ci" y="1975.3"/><use href="#ci" y="1954.0"/><use href="#ci" y="2054.6"/><use href="#ci" y="2106.5"/><use href="#ci" y="2088.2"/><use href="#ci" y="1861.0"/><use href="#ci" y="2094.3"/><use href="#ci" y="2103.4"/><use href="#ci" y="2015.0"/><use href="#ci" y="2027.2"/><use href="#ci" y="1992.1"/><use href="#ci" y="2057.7"/><use href="#ci" y="2130.9"/><use href="#ci" y="2072.9"/><use href="#ci" y="2039.4"/><use href="#ci" y="2054.6"/><use href="#ci" y="2011.9"/><use href="#ci" y="2140.0"/><use href="#ci" y="2066.8"/><use href="#ci" y="2085.1"/><use href="#ci" y="2118.7"/><use href="#ci" y="2103.4"/><use href="#ci" y="2042.4"/><use href="#ci" y="2216.3"/><use href="#ci" y="2036.3"/><use href="#ci" y="2036.3"/><use href="#ci" y="2100.4"/><use href="#ci" y="2204.1"/><use href="#ci" y="2027.2"/><use href="#ci" y="2158.3"/><use href="#ci" y="1984.5"/><use href="#ci" y="1987.5"/><use href="#ci" y="2027.2"/><use href="#ci" y="2045.5"/><use href="#ci" y="2036.3"/><use href="#ci" y="2063.8"/><use href="#ci" y="2063.8"/><use href="#ci" y="1783.2"/><use href="#ci" y="2088.2"/><use href="#ci" y="2076.0"/><use href="#ci" y="2057.7"/><use href="#ci" y="2143.1"/><use href="#ci" y="2048.5"/><use href="#ci" y="2146.1"/><use href="#ci" y="2094.3"/><use href="#ci" y="2158.3"/><use href="#ci" y="2097.3"/><use href="#ci" y="2066.8"/><use href="#ci" y="1894.5"/><use href="#ci" y="2005.8"/><use href="#ci" y="2124.8"/><use href="#ci" y="2143.1"/><use href="#ci" y="2240.7"/><use href="#ci" y="1882.3"/><use href="#ci" y="1978.4"/><use href="#ci" y="1990.6"/><use href="#ci" y="2079.0"/><use href="#ci" y="2018.0"/><use href="#ci" y="2021.1"/><use href="#ci" y="2112.6"/><use href="#ci" y="2149.2"/><use href="#ci" y="2027.2"/><use href="#ci" y="2042.4"/><use href="#ci" y="2027.2"/><use href="#ci" y="2127.8"/><use href="#ci" y="2103.4"/><use href="#ci" y="2133.9"/><use href="#ci" y="1846.3"/><use href="#ci" y="1999.7"/><use href="#ci" y="1947.9"/><use href="#ci" y="2167.5"/><use href="#ci" y="2079.0"/><use href="#ci" y="2063.8"/><use href="#ci" y="2024.1"/><use href="#ci" y="2002.8"/><use href="#ci" y="1947.9"/><use href="#ci" y="2228.5"/><use href="#ci" y="2179.7"/>
</g>
<g transform="translate(1399.8 0)">
<use href="#ci" y="1845.7"/><use href="#ci" y="1969.2"/><use href="#ci" y="1833.5"/><use href="#ci" y="1856.4"/><use href="#ci" y="2040.9"/><use href="#ci" y="1996.7"/><use href="#ci" y="1995.8"/><use href="#ci" y="1896.0"/><use href="#ci" y="2176.6"/><use href="#ci" y="1827.4"/><use href="#ci" y="1989.1"/><use href="#ci" y="2063.8"/><use href="#ci" y="1920.4"/><use href="#ci" y="1893.0"/><use href="#ci" y="1967.7"/><use href="#ci" y="1906.7"/><use href="#ci" y="2007.7"/><use href="#ci" y="2063.8"/><use href="#ci" y="2001.3"/><use href="#ci" y="1932.6"/><use href="#ci" y="2005.8"/><use href="#ci" y="2047.0"/><use href="#ci" y="2121.8"/><use href="#ci" y="1816.8"/><use href="#ci" y="1965.3"/><use href="#ci" y="1955.5"/><use href="#ci" y="1895.4"/><use href="#ci" y="1950.9"/><use href="#ci" y="1929.0"/><use href="#ci" y="1909.8"/><use href="#ci" y="2106.5"/><use href="#ci" y="1806.1"/><use href="#ci" y="1910.1"/><use href="#ci" y="1934.2"/><use href="#ci" y="1796.9"/><use href="#ci" y="2044.0"/><use href="#ci" y="1848.8"/><use href="#ci" y="1996.7"/><use href="#ci" y="1853.3"/><use href="#ci" y="1905.2"/><use href="#ci" y="1842.7"/><use href="#ci" y="1986.0"/><use href="#ci" y="1914.3"/><use href="#ci" y="1984.5"/><use href="#ci" y="1874.7"/><use href="#ci" y="1793.9"/><use href="#ci" y="1983.0"/><use href="#ci" y="1812.2"/><use href="#ci" y="1966.2"/><use href="#ci" y="1926.5"/><use href="#ci" y="1961.6"/><use href="#ci" y="1908.2"/><use href="#ci" y="1854.9"/><use href="#ci" y="1714.6"/><use href="#ci" y="1795.4"/><use href="#ci" y="1929.6"/><use href="#ci" y="1959.8"/><use href="#ci" y="1825.9"/><use href="#ci" y="1879.3"/><use href="#ci" y="2032.4"/><use href="#ci" y="1935.7"/>
</g>
<g transform="translate(1521.2 0)">
<use href="#ci" y="1817.7"/><use href="#ci" y="1832.6"/><use href="#ci" y="1771.9"/><use href="#ci" y="1882.3"/><use href="#ci" y="1879.3"/><use href="#ci" y="1762.8"/><use href="#ci" y="1783.2"/><use href="#ci" y="2002.8"/><use href="#ci" y="1917.4"/><use href="#ci" y="1801.5"/><use href="#ci" y="1879.3"/><use href="#ci" y="1784.7"/><use href="#ci" y="1899.1"/><use href="#ci" y="1862.5"/><use href="#ci" y="1804.5"/><use href="#ci" y="1798.4"/><use href="#ci" y="1859.4"/><use href="#ci" y="1948.5"/><use href="#ci" y="1871.0"/><use href="#ci" y="1749.6"/><use href="#ci" y="1902.1"/><use href="#ci" y="1786.2"/><use href="#ci" y="1838.7"/><use href="#ci" y="1876.2"/>
</g>
<g transform="translate(1642.6 0)">
<use href="#ci" y="1764.9"/>
</g>
</g>
<g fill="#44AA99" fill-opacity=".5" stroke="#000" stroke-opacity=".5" stroke-width="2.05" stroke-linejoin="round">
<g transform="translate(1187.4 0)">
<use href="#tu" y="2313.9"/><use href="#tu" y="2152.2"/><use href="#tu" y="2115.6"/><use href="#tu" y="2140.0"/><use href="#tu" y="2158.3"/><use href="#tu" y="2237.6"/><use href="#tu" y="2274.2"/><use href="#tu" y="2201.0"/><use href="#tu" y="2182.8"/><use href="#tu" y="2179.7"/><use href="#tu" y="2210.2"/><use href="#tu" y="2237.6"/><use href="#tu" y="2249.8"/><use href="#tu" y="2194.9"/><use href="#tu" y="2182.8"/><use href="#tu" y="2207.1"/><use href="#tu" y="2106.5"/><use href="#tu" y="2167.5"/><use href="#tu" y="2155.3"/><use href="#tu" y="2146.1"/><use href="#tu" y="2085.1"/><use href="#tu" y="2259.0"/><use href="#tu" y="2213.2"/><use href="#tu" y="2068.4"/><use href="#tu" y="2097.3"/><use href="#tu" y="2173.6"/><use href="#tu" y="2179.7"/><use href="#tu" y="2216.3"/><use href="#tu" y="2268.1"/><use href="#tu" y="2201.0"/><use href="#tu" y="2170.5"/><use href="#tu" y="2170.5"/><use href="#tu" y="2057.7"/><use href="#tu" y="2137.0"/><use href="#tu" y="2076.0"/><use href="#tu" y="2225.4"/><use href="#tu" y="2249.8"/><use href="#tu" y="2179.7"/><use href="#tu" y="2149.2"/><use href="#tu" y="2315.4"/><use href="#tu" y="2185.8"/><use href="#tu" y="2106.5"/><use href="#tu" y="2182.8"/><use href="#tu" y="2237.6"/><use href="#tu" y="2094.3"/><use href="#tu" y="2255.9"/><use href="#tu" y="2225.4"/><use href="#tu" y="2167.5"/><use href="#tu" y="2124.8"/><use href="#tu" y="2274.2"/><use href="#tu" y="2185.8"/><use href="#tu" y="2071.4"/><use href="#tu" y="2289.5"/><use href="#tu" y="2213.2"/><use href="#tu" y="2127.8"/><use href="#tu" y="2112.6"/><use href="#tu" y="2143.1"/><use href="#tu" y="2280.3"/><use href="#tu" y="2246.8"/><use href="#tu" y="2286.4"/><use href="#tu" y="2188.8"/><use href="#tu" y="2255.9"/><use href="#tu" y="2255.9"/><use href="#tu" y="2188.8"/><use href="#tu" y="2152.2"/><use href="#tu" y="2249.8"/><use href="#tu" y="2252.9"/><use href="#tu" y="2307.8"/><use href="#tu" y="2143.1"/><use href="#tu" y="2055.3"/><use href="#tu" y="2045.5"/><use href="#tu" y="2118.7"/><use href="#tu" y="2228.5"/><use href="#tu" y="2143.1"/><use href="#tu" y="2231.5"/><use href="#tu" y="2086.7"/><use href="#tu" y="2300.2"/><use href="#tu" y="2115.6"/><use href="#tu" y="2198.0"/><use href="#tu" y="2268.1"/><use href="#tu" y="2155.3"/><use href="#tu" y="2216.3"/><use href="#tu" y="2167.5"/><use href="#tu" y="2137.0"/><use href="#tu" y="2130.9"/><use href="#tu" y="2062.6"/><use href="#tu" y="2237.6"/><use href="#tu" y="2222.4"/><use href="#tu" y="2158.3"/><use href="#tu" y="2243.8"/><use href="#tu" y="2137.0"/><use href="#tu" y="2225.4"/><use href="#tu" y="2173.6"/><use href="#tu" y="2228.5"/><use href="#tu" y="2130.9"/><use href="#tu" y="2194.9"/><use href="#tu" y="2234.6"/><use href="#tu" y="2207.1"/><use href="#tu" y="2204.1"/><use href="#tu" y="2210.2"/><use href="#tu" y="2158.3"/><use href="#tu" y="2155.3"/><use href="#tu" y="2240.7"/><use href="#tu" y="2207.1"/><use href="#tu" y="2179.7"/><use href="#tu" y="2216.3"/><use href="#tu" y="2072.9"/><use href="#tu" y="2243.8"/><use href="#tu" y="2222.4"/><use href="#tu" y="2188.8"/><use href="#tu" y="2158.3"/><use href="#tu" y="2155.3"/><use href="#tu" y="2306.3"/><use href="#tu" y="2355.4"/><use href="#tu" y="2271.2"/><use href="#tu" y="2259.0"/><use href="#tu" y="2170.5"/><use href="#tu" y="2237.6"/><use href="#tu" y="2127.8"/><use href="#tu" y="2155.3"/><use href="#tu" y="2173.6"/><use href="#tu" y="2188.8"/><use href="#tu" y="2039.4"/><use href="#tu" y="2185.8"/><use href="#tu" y="2198.0"/><use href="#tu" y="2207.1"/><use href="#tu" y="2105.0"/><use href="#tu" y="2115.6"/><use href="#tu" y="2268.1"/><use href="#tu" y="2219.3"/><use href="#tu" y="2231.5"/><use href="#tu" y="2173.6"/><use href="#tu" y="2222.4"/><use href="#tu" y="2210.2"/><use href="#tu" y="2146.1"/><use href="#tu" y="2149.2"/><use href="#tu" y="2204.1"/><use href="#tu" y="2146.1"/><use href="#tu" y="2243.8"/><use href="#tu" y="2201.0"/><use href="#tu" y="2262.0"/><use href="#tu" y="2118.7"/><use href="#tu" y="2246.8"/><use href="#tu" y="2173.6"/><use href="#tu" y="2121.8"/><use href="#tu" y="2252.9"/><use href="#tu" y="2167.5"/><use href="#tu" y="2249.8"/><use href="#tu" y="2179.7"/><use href="#tu" y="2088.2"/><use href="#tu" y="2265.1"/><use href="#tu" y="2069.9"/><use href="#tu" y="2283.4"/><use href="#tu" y="2237.6"/><use href="#tu" y="2191.9"/><use href="#tu" y="2140.0"/><use href="#tu" y="2213.2"/><use href="#tu" y="2216.3"/><use href="#tu" y="2274.2"/><use href="#tu" y="2066.8"/><use href="#tu" y="2127.8"/><use href="#tu" y="2191.9"/><use href="#tu" y="2167.5"/><use href="#tu" y="2100.4"/><use href="#tu" y="2262.0"/><use href="#tu" y="2173.6"/><use href="#tu" y="2161.4"/><use href="#tu" y="2161.4"/><use href="#tu" y="2201.0"/><use href="#tu" y="2108.0"/><use href="#tu" y="2222.4"/><use href="#tu" y="2091.2"/><use href="#tu" y="2231.5"/><use href="#tu" y="2277.3"/><use href="#tu" y="2140.0"/><use href="#tu" y="2188.8"/><use href="#tu" y="2185.8"/><use href="#tu" y="2277.3"/><use href="#tu" y="2164.4"/><use href="#tu" y="2268.1"/><use href="#tu" y="2185.8"/><use href="#tu" y="2121.8"/><use href="#tu" y="2185.8"/><use href="#tu" y="2201.0"/><use href="#tu" y="2194.9"/><use href="#tu" y="2143.1"/><use href="#tu" y="2198.0"/><use href="#tu" y="2292.5"/><use href="#tu" y="2225.4"/><use href="#tu" y="2152.2"/><use href="#tu" y="2216.3"/><use href="#tu" y="2179.7"/><use href="#tu" y="2262.0"/><use href="#tu" y="2298.6"/><use href="#tu" y="2164.4"/><use href="#tu" y="2191.9"/><use href="#tu" y="2243.8"/><use href="#tu" y="2288.0"/><use href="#tu" y="2133.9"/><use href="#tu" y="2231.5"/><use href="#tu" y="2158.3"/><use href="#tu" y="2222.4"/><use href="#tu" y="2213.2"/><use href="#tu" y="2210.2"/><use href="#tu" y="2103.4"/><use href="#tu" y="2210.2"/><use href="#tu" y="2210.2"/><use href="#tu" y="2231.5"/><use href="#tu" y="2164.4"/><use href="#tu" y="2127.8"/><use href="#tu" y="2066.8"/><use href="#tu" y="2323.0"/><use href="#tu" y="2234.6"/><use href="#tu" y="2249.8"/><use href="#tu" y="2130.9"/><use href="#tu" y="2194.9"/><use href="#tu" y="2222.4"/><use href="#tu" y="2182.8"/><use href="#tu" y="2324.6"/><use href="#tu" y="2201.0"/><use href="#tu" y="2240.7"/><use href="#tu" y="2228.5"/><use href="#tu" y="2194.9"/><use href="#tu" y="2082.1"/><use href="#tu" y="2098.9"/><use href="#tu" y="2198.0"/><use href="#tu" y="2207.1"/><use href="#tu" y="2237.6"/><use href="#tu" y="2355.4"/><use href="#tu" y="2173.6"/>
</g>
<g transform="translate(1308.8 0)">
<use href="#tu" y="2060.8"/><use href="#tu" y="2033.3"/><use href="#tu" y="2057.7"/><use href="#tu" y="2130.9"/><use href="#tu" y="1945.8"/><use href="#tu" y="2024.1"/><use href="#tu" y="2097.3"/><use href="#tu" y="2246.8"/><use href="#tu" y="2137.0"/><use href="#tu" y="2185.8"/><use href="#tu" y="2076.0"/><use href="#tu" y="2054.6"/><use href="#tu" y="2044.0"/><use href="#tu" y="2088.2"/><use href="#tu" y="2146.1"/><use href="#tu" y="2100.4"/><use href="#tu" y="2173.6"/><use href="#tu" y="2210.2"/><use href="#tu" y="2115.6"/><use href="#tu" y="2191.9"/><use href="#tu" y="2140.0"/><use href="#tu" y="2143.1"/><use href="#tu" y="2133.9"/><use href="#tu" y="2082.1"/><use href="#tu" y="2161.4"/><use href="#tu" y="2127.8"/><use href="#tu" y="1944.8"/><use href="#tu" y="2097.3"/><use href="#tu" y="2109.5"/><use href="#tu" y="2005.8"/><use href="#tu" y="2124.8"/><use href="#tu" y="1979.9"/><use href="#tu" y="2146.1"/><use href="#tu" y="2063.8"/><use href="#tu" y="2115.6"/><use href="#tu" y="2036.3"/><use href="#tu" y="2103.4"/><use href="#tu" y="2161.4"/><use href="#tu" y="2127.8"/><use href="#tu" y="2155.3"/><use href="#tu" y="2118.7"/><use href="#tu" y="1983.9"/><use href="#tu" y="2161.4"/><use href="#tu" y="1978.4"/><use href="#tu" y="2072.9"/><use href="#tu" y="2088.2"/><use href="#tu" y="2211.7"/><use href="#tu" y="2112.6"/><use href="#tu" y="2082.1"/><use href="#tu" y="2152.2"/><use href="#tu" y="1928.1"/><use href="#tu" y="2143.1"/><use href="#tu" y="2021.1"/><use href="#tu" y="2057.7"/><use href="#tu" y="1920.4"/><use href="#tu" y="2094.3"/><use href="#tu" y="2024.1"/><use href="#tu" y="2063.8"/><use href="#tu" y="2076.0"/><use href="#tu" y="2054.6"/><use href="#tu" y="2097.3"/><use href="#tu" y="2076.0"/><use href="#tu" y="2140.0"/><use href="#tu" y="2164.4"/><use href="#tu" y="2137.0"/><use href="#tu" y="2094.3"/><use href="#tu" y="2124.8"/><use href="#tu" y="2137.0"/><use href="#tu" y="2124.8"/><use href="#tu" y="2085.1"/><use href="#tu" y="2109.5"/><use href="#tu" y="2072.9"/><use href="#tu" y="2155.3"/><use href="#tu" y="2209.0"/><use href="#tu" y="2106.5"/><use href="#tu" y="1911.9"/><use href="#tu" y="1929.6"/><use href="#tu" y="2133.9"/><use href="#tu" y="2109.5"/><use href="#tu" y="2094.3"/><use href="#tu" y="2152.2"/><use href="#tu" y="2069.9"/><use href="#tu" y="2063.8"/><use href="#tu" y="2088.2"/><use href="#tu" y="2161.4"/><use href="#tu" y="2194.9"/><use href="#tu" y="2130.9"/><use href="#tu" y="2140.0"/><use href="#tu" y="2076.0"/><use href="#tu" y="1996.7"/><use href="#tu" y="2127.8"/><use href="#tu" y="2143.1"/><use href="#tu" y="2085.1"/><use href="#tu" y="2109.5"/><use href="#tu" y="2030.2"/><use href="#tu" y="2051.6"/><use href="#tu" y="2079.0"/><use href="#tu" y="2262.0"/><use href="#tu" y="1929.6"/><use href="#tu" y="2106.5"/><use href="#tu" y="2063.8"/><use href="#tu" y="2045.5"/><use href="#tu" y="2103.4"/><use href="#tu" y="2008.9"/><use href="#tu" y="2057.7"/><use href="#tu" y="2042.4"/><use href="#tu" y="2048.5"/><use href="#tu" y="2106.5"/><use href="#tu" y="1947.9"/><use href="#tu" y="2045.5"/><use href="#tu" y="2094.3"/><use href="#tu" y="2152.2"/><use href="#tu" y="2018.0"/><use href="#tu" y="2112.6"/><use href="#tu" y="1977.2"/><use href="#tu" y="2245.3"/><use href="#tu" y="2173.6"/><use href="#tu" y="2245.3"/><use href="#tu" y="2112.6"/><use href="#tu" y="2091.2"/><use href="#tu" y="2079.0"/><use href="#tu" y="2054.6"/><use href="#tu" y="2085.1"/><use href="#tu" y="2149.2"/><use href="#tu" y="2002.8"/><use href="#tu" y="2039.4"/><use href="#tu" y="2069.9"/><use href="#tu" y="2127.8"/><use href="#tu" y="2048.5"/><use href="#tu" y="2164.4"/><use href="#tu" y="2182.8"/><use href="#tu" y="2292.5"/><use href="#tu" y="2037.3"/><use href="#tu" y="1983.9"/><use href="#tu" y="2030.2"/><use href="#tu" y="2118.7"/><use href="#tu" y="2155.3"/><use href="#tu" y="2072.9"/><use href="#tu" y="2118.7"/><use href="#tu" y="2118.7"/><use href="#tu" y="2201.0"/><use href="#tu" y="2066.8"/><use href="#tu" y="2118.7"/><use href="#tu" y="2033.3"/><use href="#tu" y="2115.6"/><use href="#tu" y="2088.2"/><use href="#tu" y="2069.9"/><use href="#tu" y="2088.2"/><use href="#tu" y="2045.5"/><use href="#tu" y="2225.4"/><use href="#tu" y="1903.7"/><use href="#tu" y="2167.5"/><use href="#tu" y="2082.1"/><use href="#tu" y="2103.4"/><use href="#tu" y="2097.3"/><use href="#tu" y="2097.3"/><use href="#tu" y="2121.8"/><use href="#tu" y="2124.8"/><use href="#tu" y="1931.1"/><use href="#tu" y="2176.6"/><use href="#tu" y="2015.0"/>
</g>
<g transform="translate(1430.2 0)">
<use href="#tu" y="1836.6"/><use href="#tu" y="1953.1"/><use href="#tu" y="1996.7"/><use href="#tu" y="2027.2"/><use href="#tu" y="1960.1"/><use href="#tu" y="1997.3"/><use href="#tu" y="1944.8"/><use href="#tu" y="1917.4"/><use href="#tu" y="1960.1"/><use href="#tu" y="2008.9"/><use href="#tu" y="2027.2"/><use href="#tu" y="1949.4"/><use href="#tu" y="1860.4"/><use href="#tu" y="1978.4"/><use href="#tu" y="1972.3"/><use href="#tu" y="1987.5"/><use href="#tu" y="1957.0"/><use href="#tu" y="2070.5"/><use href="#tu" y="1807.3"/><use href="#tu" y="1975.3"/><use href="#tu" y="1984.5"/><use href="#tu" y="2002.8"/><use href="#tu" y="2003.4"/><use href="#tu" y="1855.5"/><use href="#tu" y="1978.4"/><use href="#tu" y="2094.0"/><use href="#tu" y="2113.2"/><use href="#tu" y="1987.5"/><use href="#tu" y="2074.2"/><use href="#tu" y="2002.8"/><use href="#tu" y="1911.3"/><use href="#tu" y="2039.4"/><use href="#tu" y="1920.4"/><use href="#tu" y="2030.2"/><use href="#tu" y="1963.1"/><use href="#tu" y="1996.7"/><use href="#tu" y="2021.1"/><use href="#tu" y="1972.3"/><use href="#tu" y="2018.0"/><use href="#tu" y="2021.1"/><use href="#tu" y="2011.9"/><use href="#tu" y="2038.2"/><use href="#tu" y="2005.8"/><use href="#tu" y="2028.7"/><use href="#tu" y="1990.6"/><use href="#tu" y="1996.7"/><use href="#tu" y="2083.0"/><use href="#tu" y="2039.4"/><use href="#tu" y="2036.3"/><use href="#tu" y="2084.8"/><use href="#tu" y="1954.0"/><use href="#tu" y="2015.0"/><use href="#tu" y="1941.8"/><use href="#tu" y="1990.6"/><use href="#tu" y="2011.9"/><use href="#tu" y="1969.2"/><use href="#tu" y="1918.9"/><use href="#tu" y="2074.2"/><use href="#tu" y="1981.4"/><use href="#tu" y="1905.2"/><use href="#tu" y="1945.2"/><use href="#tu" y="2085.1"/><use href="#tu" y="2042.4"/>
</g>
<g transform="translate(1551.6 0)">
<use href="#tu" y="1810.6"/><use href="#tu" y="1790.2"/><use href="#tu" y="1895.1"/><use href="#tu" y="1919.8"/><use href="#tu" y="1888.7"/><use href="#tu" y="1951.9"/><use href="#tu" y="1953.1"/><use href="#tu" y="1951.9"/><use href="#tu" y="1932.6"/><use href="#tu" y="1905.8"/><use href="#tu" y="1875.0"/><use href="#tu" y="1932.6"/><use href="#tu" y="2024.8"/><use href="#tu" y="1905.8"/><use href="#tu" y="1965.9"/>
</g>
<g transform="translate(1673.0 0)">
<use href="#tu" y="1851.2"/><use href="#tu" y="1875.0"/><use href="#tu" y="1927.5"/><use href="#tu" y="1881.4"/>
</g>
</g>
<path d="M1050.8 2323.6 L1056.9 2315.5 L1062.9 2307.6 L1069.0 2299.7 L1075.1 2291.8 L1081.1 2284.0 L1087.2 2276.3 L1093.3 2268.7 L1099.4 2261.1 L1105.4 2253.6 L1111.5 2246.2 L1117.6 2238.8 L1123.6 2231.5 L1129.7 2224.2 L1135.8 2217.0 L1141.8 2209.9 L1147.9 2202.8 L1154.0 2195.8 L1160.1 2188.9 L1166.1 2182.0 L1172.2 2175.1 L1178.3 2168.4 L1184.3 2161.6 L1190.4 2155.0 L1196.5 2148.4 L1202.5 2141.8 L1208.6 2135.3 L1214.7 2128.9 L1220.8 2122.5 L1226.8 2116.2 L1232.9 2109.9 L1239.0 2103.7 L1245.0 2097.5 L1251.1 2091.4 L1257.2 2085.3 L1263.2 2079.3 L1269.3 2073.4 L1275.4 2067.5 L1281.5 2061.6 L1287.5 2055.8 L1293.6 2050.0 L1299.7 2044.3 L1305.7 2038.7 L1311.8 2033.0 L1317.9 2027.5 L1324.0 2022.0 L1330.0 2016.5 L1336.1 2011.1 L1342.2 2005.7 L1348.2 2000.3 L1354.3 1995.1 L1360.4 1989.8 L1366.4 1984.6 L1372.5 1979.5 L1378.6 1974.3 L1384.7 1969.3 L1390.7 1964.3 L1396.8 1959.3 L1402.9 1954.3 L1408.9 1949.4 L1415.0 1944.6 L1421.1 1939.8 L1427.1 1935.0 L1433.2 1930.3 L1439.3 1925.6 L1445.3 1920.9 L1451.4 1916.3 L1457.5 1911.7 L1463.6 1907.2 L1469.6 1902.7 L1475.7 1898.3 L1481.8 1893.8 L1487.8 1889.5 L1493.9 1885.1 L1500.0 1880.8 L1506.0 1876.5 L1512.1 1872.3 L1518.2 1868.1 L1524.3 1863.9 L1530.3 1859.8 L1536.4 1855.7 L1542.5 1851.7 L1548.5 1847.6 L1554.6 1843.6 L1560.7 1839.7 L1566.8 1835.8 L1572.8 1831.9 L1578.9 1828.0 L1585.0 1824.2 L1591.0 1820.4 L1597.1 1816.7 L1603.2 1812.9 L1609.2 1809.3 L1615.3 1805.6 L1621.4 1802.0 L1627.4 1798.4 L1633.5 1794.8 L1639.6 1791.3 L1645.7 1787.7 L1651.7 1784.3 L1657.8 1780.8 L1663.9 1777.4 L1669.9 1774.0 L1676.0 1770.6 L1682.1 1767.3 L1688.2 1764.0 L1694.2 1760.7 L1700.3 1757.5 L1706.4 1754.3 L1712.4 1751.1 L1718.5 1747.9" fill="none" stroke="#CC6677" stroke-width="7.5" stroke-linejoin="round"/>
<path d="M1050.8 2296.4 L1056.9 2289.6 L1062.9 2282.8 L1069.0 2276.1 L1075.1 2269.5 L1081.1 2262.9 L1087.2 2256.4 L1093.3 2250.0 L1099.4 2243.6 L1105.4 2237.2 L1111.5 2231.0 L1117.6 2224.8 L1123.6 2218.6 L1129.7 2212.5 L1135.8 2206.5 L1141.8 2200.5 L1147.9 2194.6 L1154.0 2188.7 L1160.1 2182.9 L1166.1 2177.2 L1172.2 2171.5 L1178.3 2165.8 L1184.3 2160.2 L1190.4 2154.7 L1196.5 2149.2 L1202.5 2143.8 L1208.6 2138.4 L1214.7 2133.1 L1220.8 2127.8 L1226.8 2122.6 L1232.9 2117.4 L1239.0 2112.3 L1245.0 2107.2 L1251.1 2102.1 L1257.2 2097.2 L1263.2 2092.2 L1269.3 2087.3 L1275.4 2082.5 L1281.5 2077.7 L1287.5 2072.9 L1293.6 2068.2 L1299.7 2063.6 L1305.7 2059.0 L1311.8 2054.4 L1317.9 2049.9 L1324.0 2045.4 L1330.0 2040.9 L1336.1 2036.5 L1342.2 2032.2 L1348.2 2027.8 L1354.3 2023.6 L1360.4 2019.3 L1366.4 2015.1 L1372.5 2011.0 L1378.6 2006.9 L1384.7 2002.8 L1390.7 1998.7 L1396.8 1994.7 L1402.9 1990.8 L1408.9 1986.8 L1415.0 1983.0 L1421.1 1979.1 L1427.1 1975.3 L1433.2 1971.5 L1439.3 1967.8 L1445.3 1964.1 L1451.4 1960.4 L1457.5 1956.8 L1463.6 1953.1 L1469.6 1949.6 L1475.7 1946.0 L1481.8 1942.5 L1487.8 1939.1 L1493.9 1935.6 L1500.0 1932.2 L1506.0 1928.9 L1512.1 1925.5 L1518.2 1922.2 L1524.3 1919.0 L1530.3 1915.7 L1536.4 1912.5 L1542.5 1909.3 L1548.5 1906.2 L1554.6 1903.0 L1560.7 1900.0 L1566.8 1896.9 L1572.8 1893.9 L1578.9 1890.9 L1585.0 1887.9 L1591.0 1884.9 L1597.1 1882.0 L1603.2 1879.1 L1609.2 1876.3 L1615.3 1873.4 L1621.4 1870.6 L1627.4 1867.8 L1633.5 1865.1 L1639.6 1862.3 L1645.7 1859.6 L1651.7 1856.9 L1657.8 1854.3 L1663.9 1851.7 L1669.9 1849.1 L1676.0 1846.5 L1682.1 1843.9 L1688.2 1841.4 L1694.2 1838.9 L1700.3 1836.4 L1706.4 1834.0 L1712.4 1831.5 L1718.5 1829.1" fill="none" stroke="#44AA99" stroke-width="7.5" stroke-linejoin="round"/>
<path d="M1050.8 1692.1 V2396.9 M1047.1 2393.2 H1718.5" stroke="#000" stroke-width="7.4" fill="none"/>
<path d="M1050.8 2393.2 v9.5 M1172.2 2393.2 v9.5 M1293.6 2393.2 v9.5 M1415.0 2393.2 v9.5 M1536.4 2393.2 v9.5 M1657.8 2393.2 v9.5 M1050.8 2393.2 h-9.5 M1050.8 2240.7 h-9.5 M1050.8 2088.2 h-9.5 M1050.8 1935.7 h-9.5 M1050.8 1783.2 h-9.5" stroke="#333" stroke-width="3.4" fill="none"/>
<text transform="translate(1050.8 2441.2) scale(1.000 1.035)" font-size="42.0" text-anchor="middle">0</text>
<text transform="translate(1172.2 2441.2) scale(1.000 1.035)" font-size="42.0" text-anchor="middle">1</text>
<text transform="translate(1293.6 2441.2) scale(1.000 1.035)" font-size="42.0" text-anchor="middle">2</text>
<text transform="translate(1415.0 2441.2) scale(1.000 1.035)" font-size="42.0" text-anchor="middle">3</text>
<text transform="translate(1536.4 2441.2) scale(1.000 1.035)" font-size="42.0" text-anchor="middle">4</text>
<text transform="translate(1657.8 2441.2) scale(1.000 1.035)" font-size="42.0" text-anchor="middle">5</text>
<text transform="translate(1033.2 2408.5) scale(1.000 1.035)" font-size="42.0" text-anchor="end">150</text>
<text transform="translate(1033.2 2256.0) scale(1.000 1.035)" font-size="42.0" text-anchor="end">200</text>
<text transform="translate(1033.2 2103.5) scale(1.000 1.035)" font-size="42.0" text-anchor="end">250</text>
<text transform="translate(1033.2 1951.0) scale(1.000 1.035)" font-size="42.0" text-anchor="end">300</text>
<text transform="translate(1033.2 1798.5) scale(1.000 1.035)" font-size="42.0" text-anchor="end">350</text>
<text transform="translate(883.2 1702.6) scale(1.000 1.000)" font-size="44.5">F</text>
<text transform="translate(1384.7 2488.3) scale(1.012 1.000)" font-size="42.0" text-anchor="middle">Age (years)</text>
</g>
</svg></body></html>
